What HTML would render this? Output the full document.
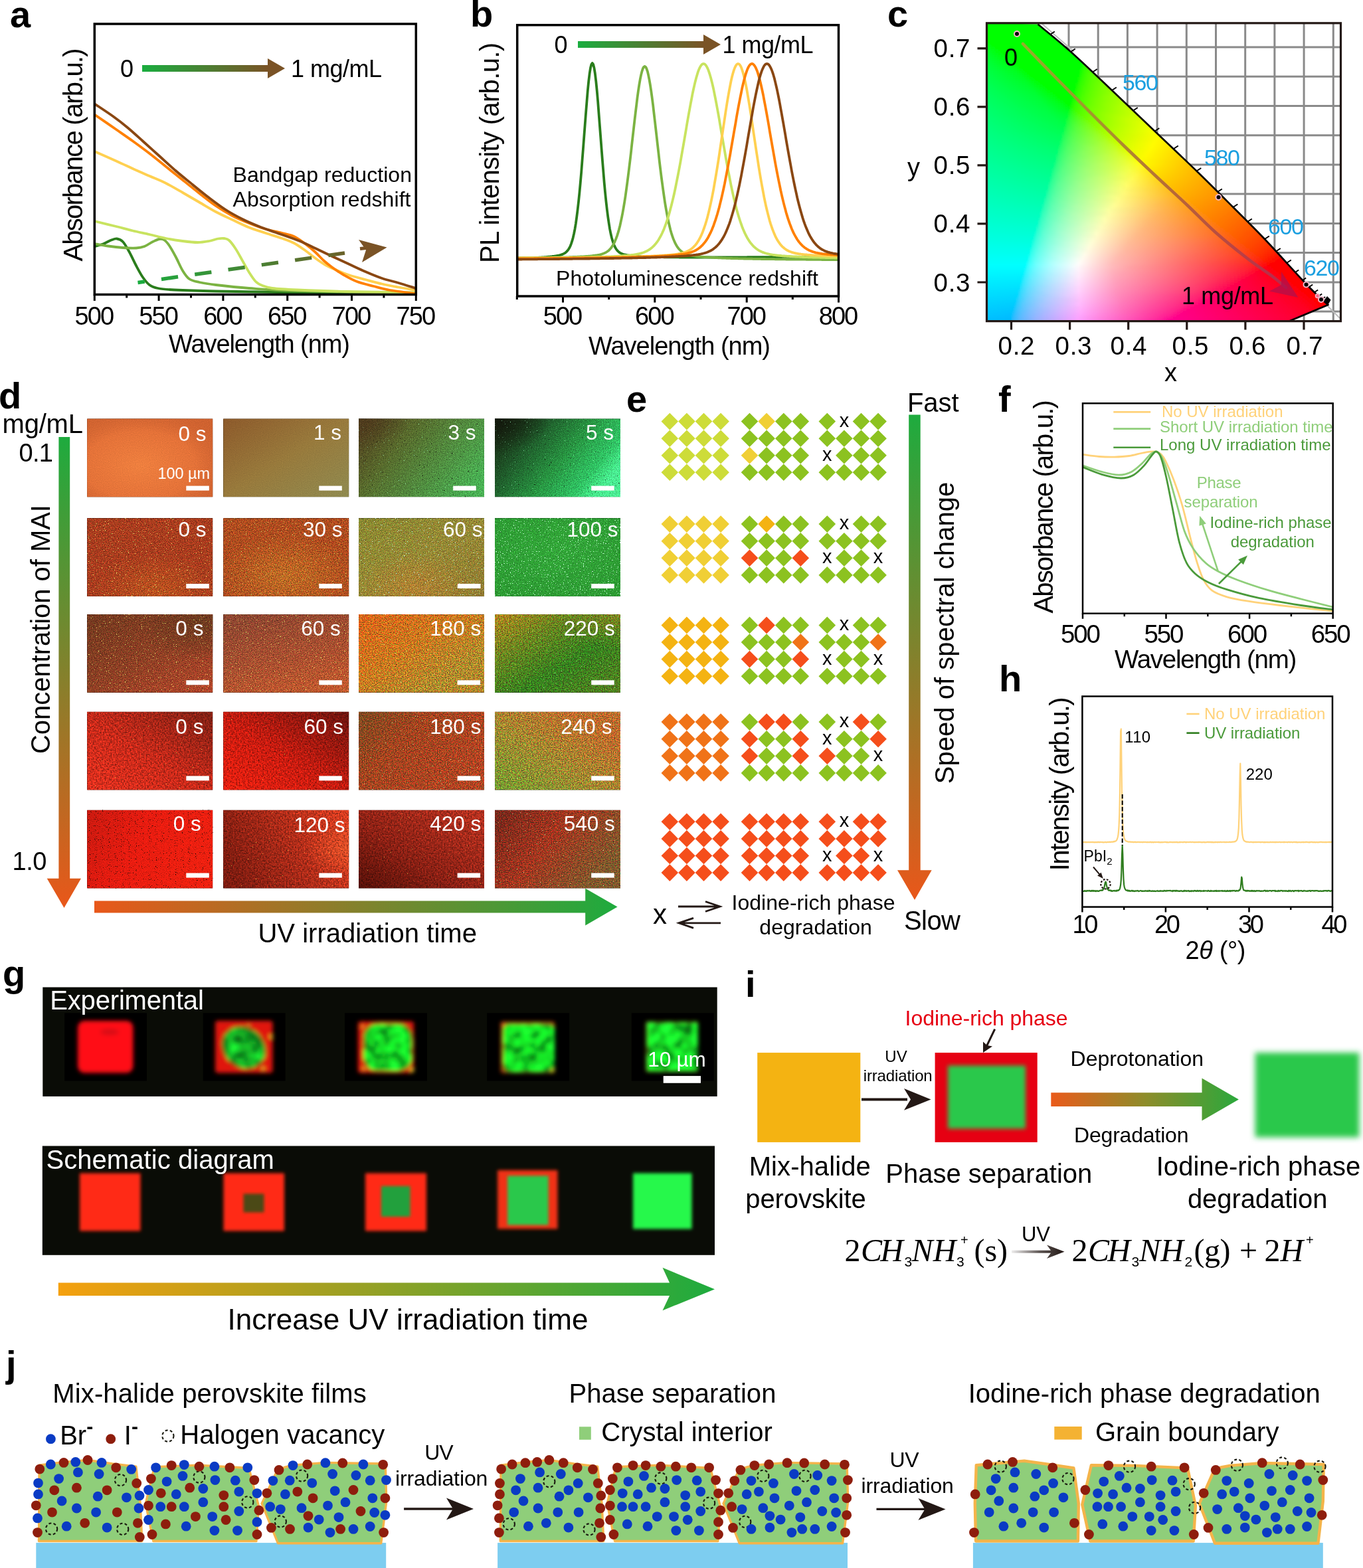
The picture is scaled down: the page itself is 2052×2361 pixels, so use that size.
<!DOCTYPE html>
<html lang="en"><head><meta charset="utf-8"><title>Figure</title>
<style>
html,body{margin:0;padding:0;background:#fff;}
body{width:2052px;height:2361px;overflow:hidden;font-family:"Liberation Sans",sans-serif;}
svg{display:block;position:absolute;left:0;top:0;}
</style></head><body>
<svg width="2052" height="2361" viewBox="0 0 2052 2361" font-family='"Liberation Sans", sans-serif' fill="#000">
<g>
<text x="15" y="40.5" font-size="56" font-weight="bold">a</text>
<path d="M142.3 371C144.4 370.4 150.8 369.1 155 367.5C159.2 365.9 164 362.8 167.5 361.5C171 360.2 173.1 359.1 176 359.5C178.9 359.9 181.8 360.6 185 364C188.2 367.4 191.7 374 195 380C198.3 386 201.7 393.8 205 400C208.3 406.2 211.7 412.7 215 417.5C218.3 422.3 221.2 426.2 225 429C228.8 431.8 231.2 432.8 237.5 434C243.8 435.2 247.9 435.8 262.5 436.5C277.1 437.2 294.1 437.8 325 438.5C355.9 439.2 397.8 439.9 448 440.5C498.2 441.1 596.3 441.8 626 442" fill="none" stroke="#2a7d1c" stroke-width="3.8" />
<path d="M142.3 367C145.7 367.6 155.4 369.5 162.5 370.5C169.6 371.5 177.9 372.5 185 373C192.1 373.5 199.6 373.8 205 373.5C210.4 373.2 213.3 372.6 217.5 371C221.7 369.4 226.2 365.8 230 364C233.8 362.2 237.1 360.4 240 360C242.9 359.6 245 359.8 247.5 361.5C250 363.2 252.1 365.7 255 370C257.9 374.3 261.7 381.2 265 387.5C268.3 393.8 271.7 402.1 275 407.5C278.3 412.9 280.8 417.1 285 420C289.2 422.9 293.3 423.5 300 425C306.7 426.5 312.5 427.5 325 429C337.5 430.5 354.5 432.5 375 434C395.5 435.5 406.2 436.8 448 438C489.8 439.2 596.3 440.9 626 441.5" fill="none" stroke="#7bb342" stroke-width="3.8" />
<path d="M142.3 333C147.8 334.3 165.4 338.6 175 341C184.6 343.4 191.7 345.5 200 347.5C208.3 349.5 216.7 351.1 225 353C233.3 354.9 241.7 357.3 250 359C258.3 360.7 267.1 362 275 363C282.9 364 290.8 365 297.5 365C304.2 365 309.9 363.9 315 363C320.1 362.1 324.2 360.2 328 359.5C331.8 358.8 334.7 358.6 337.5 359C340.3 359.4 342.1 359.3 345 362C347.9 364.7 351.7 369.9 355 375C358.3 380.1 361.7 386.7 365 392.5C368.3 398.3 371.7 404.8 375 410C378.3 415.2 381.7 420.7 385 424C388.3 427.3 390.8 428.3 395 430C399.2 431.7 401.2 432.9 410 434C418.8 435.1 429.7 435.7 448 436.5C466.3 437.3 490.3 438.3 520 439C549.7 439.7 608.3 440.2 626 440.5" fill="none" stroke="#c8e35f" stroke-width="3.8" />
<path d="M142.3 228C147.8 230.4 165.4 238.2 175 242.5C184.6 246.8 191.7 250.2 200 254C208.3 257.8 216.7 261.3 225 265C233.3 268.7 241.7 271.8 250 276C258.3 280.2 266.7 285.2 275 290C283.3 294.8 291.7 299.7 300 304.5C308.3 309.3 316.7 314.6 325 319C333.3 323.4 341.7 327.1 350 331C358.3 334.9 366.7 339.2 375 342.5C383.3 345.8 391.7 348.2 400 351C408.3 353.8 417.9 356.5 425 359C432.1 361.5 436.7 362.9 442.5 366C448.3 369.1 454.6 373.7 460 377.5C465.4 381.3 470 385.4 475 389C480 392.6 485 396.2 490 399C495 401.8 499.2 403.5 505 406C510.8 408.5 517.5 411.5 525 414C532.5 416.5 541.7 418.8 550 421C558.3 423.2 566.7 425.6 575 427.5C583.3 429.4 591.5 430.9 600 432.5C608.5 434.1 621.7 436.2 626 437" fill="none" stroke="#ffd050" stroke-width="3.8" />
<path d="M142.3 172.5C147.8 176.2 165.4 188.3 175 195C184.6 201.7 191.7 206.5 200 212.5C208.3 218.5 216.7 224.6 225 231C233.3 237.4 241.7 244.3 250 251C258.3 257.7 266.7 264.3 275 271C283.3 277.7 291.7 284.5 300 291C308.3 297.5 316.7 304.3 325 310C333.3 315.7 341.7 320.7 350 325C358.3 329.3 366.7 332.7 375 336C383.3 339.3 391.7 342.5 400 345C408.3 347.5 417.9 349.2 425 351C432.1 352.8 436.7 353.2 442.5 356C448.3 358.8 454.6 363.5 460 367.5C465.4 371.5 470.4 375.8 475 380C479.6 384.2 483.3 388.8 487.5 392.5C491.7 396.2 495 398.9 500 402.5C505 406.1 511.2 410.4 517.5 414C523.8 417.6 530 421.2 537.5 424C545 426.8 554.2 428.8 562.5 431C570.8 433.2 576.9 435.2 587.5 437C598.1 438.8 619.6 441.2 626 442" fill="none" stroke="#ff8000" stroke-width="3.8" />
<path d="M142.3 156.3C146.9 159.4 161.6 169 170 175C178.4 181 185 186.2 192.5 192.5C200 198.8 207.1 205.4 215 212.5C222.9 219.6 231.7 227.5 240 235C248.3 242.5 256.7 250.3 265 257.5C273.3 264.7 281.7 271.2 290 278C298.3 284.8 306.7 291.7 315 298C323.3 304.3 331.7 310.7 340 316C348.3 321.3 356.7 325.8 365 330C373.3 334.2 381.7 337.7 390 341C398.3 344.3 405 346.4 415 350C425 353.6 440 358.5 450 362.5C460 366.5 466.7 370.1 475 374C483.3 377.9 491.7 382.1 500 386C508.3 389.9 516.7 393.7 525 397.5C533.3 401.3 541.7 405.4 550 409C558.3 412.6 566.7 416.2 575 419C583.3 421.8 591.5 423.5 600 426C608.5 428.5 621.7 432.7 626 434" fill="none" stroke="#8a4712" stroke-width="3.8" />
<linearGradient id="ga2" gradientUnits="userSpaceOnUse" x1="207" y1="0" x2="580" y2="0"><stop offset="0" stop-color="#1aad3f"/><stop offset="1" stop-color="#7a5326"/></linearGradient>
<path d="M207.5 425.5L519 381" stroke="url(#ga2)" stroke-width="5.5" stroke-dasharray="25.4 25.4" stroke-dashoffset="15" fill="none"/>
<path d="M542 374.5L551 373.5" stroke="#7a5326" stroke-width="5" fill="none"/>
<path d="M582.5 372.5L540 361L551 376.5L545 395Z" fill="#7a5326"/>
<linearGradient id="ga1" gradientUnits="userSpaceOnUse" x1="214" y1="0" x2="403" y2="0"><stop offset="0" stop-color="#1aad3f"/><stop offset="1" stop-color="#7a5326"/></linearGradient><path d="M214 98L403 98L403 88L429 103L403 118L403 108L214 108Z" fill="url(#ga1)"/>
<text x="181" y="116" font-size="36">0</text>
<text x="438" y="116" font-size="36" textLength="137" lengthAdjust="spacing">1 mg/mL</text>
<text x="350.5" y="273.5" font-size="32" textLength="269.5" lengthAdjust="spacing">Bandgap reduction</text>
<text x="350.5" y="311" font-size="32" textLength="268" lengthAdjust="spacing">Absorption redshift</text>
<rect x="142.3" y="36" width="484" height="407.5" fill="none" stroke="#000" stroke-width="3.5"/>
<path d="M142.3 443.5v9.5M239.1 443.5v9.5M335.9 443.5v9.5M432.7 443.5v9.5M529.5 443.5v9.5M626.3 443.5v9.5" stroke="#000" stroke-width="3" fill="none"/>
<path d="M190.7 443.5v5M287.5 443.5v5M384.3 443.5v5M481.1 443.5v5M577.9 443.5v5" stroke="#000" stroke-width="3" fill="none"/>
<text x="142.3" y="489" font-size="38" text-anchor="middle" textLength="59.5" lengthAdjust="spacing">500</text>
<text x="239.1" y="489" font-size="38" text-anchor="middle" textLength="59.5" lengthAdjust="spacing">550</text>
<text x="335.9" y="489" font-size="38" text-anchor="middle" textLength="59.5" lengthAdjust="spacing">600</text>
<text x="432.7" y="489" font-size="38" text-anchor="middle" textLength="59.5" lengthAdjust="spacing">650</text>
<text x="529.5" y="489" font-size="38" text-anchor="middle" textLength="59.5" lengthAdjust="spacing">700</text>
<text x="626.3" y="489" font-size="38" text-anchor="middle" textLength="59.5" lengthAdjust="spacing">750</text>
<text x="390.5" y="531" font-size="38" text-anchor="middle" textLength="273" lengthAdjust="spacing">Wavelength (nm)</text>
<text font-size="40" text-anchor="middle" transform="translate(123.5 233) rotate(-90)" textLength="321" lengthAdjust="spacing">Absorbance (arb.u.)</text>
</g>
<g>
<text x="708" y="40" font-size="56" font-weight="bold">b</text>
<path d="M778.3 389L779.7 388.9L781.1 388.9L782.5 388.8L783.9 388.8L785.3 388.8L786.6 388.7L788 388.7L789.4 388.6L790.8 388.6L792.2 388.6L793.6 388.5L794.9 388.5L796.3 388.4L797.7 388.4L799.1 388.3L800.5 388.2L801.9 388.2L803.2 388.1L804.6 388.1L806 388L807.4 387.9L808.8 387.9L810.2 387.8L811.5 387.7L812.9 387.6L814.3 387.6L815.7 387.5L817.1 387.4L818.5 387.3L819.8 387.2L821.2 387.1L822.6 387L824 386.8L825.4 386.7L826.8 386.6L828.1 386.5L829.5 386.3L830.9 386.2L832.3 386L833.7 385.8L835.1 385.6L836.4 385.4L837.8 385.2L839.2 384.9L840.6 384.7L842 384.4L843.4 384L844.7 383.6L846.1 383.2L847.5 382.6L848.9 381.9L850.3 381.1L851.6 380.2L853 378.9L854.4 377.4L855.8 375.6L857.2 373.3L858.6 370.5L859.9 367.1L861.3 362.9L862.7 357.9L864.1 351.9L865.5 344.8L866.9 336.5L868.2 327L869.6 316.1L871 303.9L872.4 290.2L873.8 275.3L875.2 259.2L876.5 242.1L877.9 224.3L879.3 206L880.7 187.6L882.1 169.6L883.5 152.4L884.8 136.5L886.2 122.5L887.6 110.9L889 102.2L890.4 96.8L891.8 95L893.1 96.8L894.5 102.2L895.9 110.9L897.3 122.5L898.7 136.5L900.1 152.3L901.4 169.5L902.8 187.6L904.2 205.9L905.6 224.2L907 242L908.4 259.1L909.7 275.2L911.1 290.1L912.5 303.6L913.9 315.9L915.3 326.7L916.7 336.3L918 344.5L919.4 351.5L920.8 357.5L922.2 362.5L923.6 366.6L925 370.1L926.3 372.8L927.7 375.1L929.1 376.9L930.5 378.4L931.9 379.6L933.3 380.6L934.6 381.3L936 382L937.4 382.5L938.8 383L940.2 383.3L941.6 383.7L942.9 383.9L944.3 384.2L945.7 384.4L947.1 384.6L948.5 384.8L949.9 385L951.2 385.1L952.6 385.3L954 385.4L955.4 385.5L956.8 385.7L958.2 385.8L959.5 385.9L960.9 386L962.3 386.1L963.7 386.1L965.1 386.2L966.5 386.3L967.8 386.4L969.2 386.4L970.6 386.5L972 386.6L973.4 386.6L974.8 386.7L976.1 386.7L977.5 386.8L978.9 386.8L980.3 386.9L981.7 386.9L983.1 386.9L984.4 387L985.8 387L987.2 387L988.6 387.1L990 387.1L991.4 387.1L992.7 387.1L994.1 387.2L995.5 387.2L996.9 387.2L998.3 387.2L999.7 387.3L1001 387.3L1002.4 387.3L1003.8 387.3L1005.2 387.3L1006.6 387.3L1008 387.4L1009.3 387.4L1010.7 387.4L1012.1 387.4L1013.5 387.4L1014.9 387.4L1016.3 387.4L1017.6 387.4L1019 387.4L1020.4 387.4L1021.8 387.4L1023.2 387.5L1024.6 387.5L1025.9 387.5L1027.3 387.5L1028.7 387.5L1030.1 387.5L1031.5 387.5L1032.9 387.5L1034.2 387.5L1035.6 387.5L1037 387.5L1038.4 387.5L1039.8 387.5L1041.2 387.5L1042.5 387.5L1043.9 387.5L1045.3 387.5L1046.7 387.5L1048.1 387.5L1049.5 387.5L1050.8 387.5L1052.2 387.5L1053.6 387.5L1055 387.5L1056.4 387.5L1057.8 387.5L1059.1 387.5L1060.5 387.5L1061.9 387.5L1063.3 387.5L1064.7 387.5L1066.1 387.5L1067.4 387.5L1068.8 387.5L1070.2 387.5L1071.6 387.5L1073 387.5L1074.4 387.5L1075.7 387.5L1077.1 387.4L1078.5 387.4L1079.9 387.4L1081.3 387.4L1082.7 387.4L1084 387.4L1085.4 387.4L1086.8 387.4L1088.2 387.4L1089.6 387.4L1091 387.4L1092.3 387.4L1093.7 387.4L1095.1 387.4L1096.5 387.4L1097.9 387.4L1099.3 387.4L1100.6 387.4L1102 387.4L1103.4 387.3L1104.8 387.3L1106.2 387.3L1107.6 387.3L1108.9 387.3L1110.3 387.3L1111.7 387.3L1113.1 387.3L1114.5 387.3L1115.9 387.3L1117.2 387.3L1118.6 387.3L1120 387.3L1121.4 387.3L1122.8 387.3L1124.2 387.3L1125.5 387.2L1126.9 387.2L1128.3 387.2L1129.7 387.2L1131.1 387.2L1132.5 387.2L1133.8 387.2L1135.2 387.2L1136.6 387.2L1138 387.2L1139.4 387.2L1140.8 387.2L1142.1 387.2L1143.5 387.1L1144.9 387.1L1146.3 387.1L1147.7 387.1L1149.1 387.1L1150.4 387.1L1151.8 387.1L1153.2 387.1L1154.6 387.1L1156 387.1L1157.4 387.1L1158.7 387.1L1160.1 387.1L1161.5 387L1162.9 387L1164.3 387L1165.7 387L1167 387L1168.4 387L1169.8 387L1171.2 387L1172.6 387L1174 387L1175.3 387L1176.7 387L1178.1 386.9L1179.5 386.9L1180.9 386.9L1182.3 386.9L1183.6 386.9L1185 386.9L1186.4 386.9L1187.8 386.9L1189.2 386.9L1190.6 386.9L1191.9 386.9L1193.3 386.9L1194.7 386.8L1196.1 386.8L1197.5 386.8L1198.9 386.8L1200.2 386.8L1201.6 386.8L1203 386.8L1204.4 386.8L1205.8 386.8L1207.2 386.8L1208.5 386.8L1209.9 386.7L1211.3 386.7L1212.7 386.7L1214.1 386.7L1215.5 386.7L1216.8 386.7L1218.2 386.7L1219.6 386.7L1221 386.7L1222.4 386.7L1223.8 386.7L1225.1 386.6L1226.5 386.6L1227.9 386.6L1229.3 386.6L1230.7 386.6L1232.1 386.6L1233.4 386.6L1234.8 386.6L1236.2 386.6L1237.6 386.6L1239 386.6L1240.4 386.5L1241.7 386.5L1243.1 386.5L1244.5 386.5L1245.9 386.5L1247.3 386.5L1248.7 386.5L1250 386.5L1251.4 386.5L1252.8 386.5L1254.2 386.5L1255.6 386.4L1257 386.4L1258.3 386.4L1259.7 386.4L1261.1 386.4L1262.5 386.4" fill="none" stroke="#2a7d1c" stroke-width="3.8" stroke-linejoin="round"/>
<path d="M778.3 388.2L779.7 388.2L781.1 388.2L782.5 388.2L783.9 388.2L785.3 388.2L786.6 388.2L788 388.2L789.4 388.2L790.8 388.2L792.2 388.2L793.6 388.2L794.9 388.2L796.3 388.1L797.7 388.1L799.1 388.1L800.5 388.1L801.9 388.1L803.2 388.1L804.6 388.1L806 388.1L807.4 388.1L808.8 388.1L810.2 388.1L811.5 388L812.9 388L814.3 388L815.7 388L817.1 388L818.5 388L819.8 388L821.2 387.9L822.6 387.9L824 387.9L825.4 387.9L826.8 387.9L828.1 387.9L829.5 387.8L830.9 387.8L832.3 387.8L833.7 387.8L835.1 387.7L836.4 387.7L837.8 387.7L839.2 387.7L840.6 387.6L842 387.6L843.4 387.6L844.7 387.6L846.1 387.5L847.5 387.5L848.9 387.5L850.3 387.4L851.6 387.4L853 387.3L854.4 387.3L855.8 387.3L857.2 387.2L858.6 387.2L859.9 387.1L861.3 387.1L862.7 387L864.1 387L865.5 386.9L866.9 386.9L868.2 386.8L869.6 386.7L871 386.7L872.4 386.6L873.8 386.5L875.2 386.5L876.5 386.4L877.9 386.3L879.3 386.2L880.7 386.1L882.1 386L883.5 385.9L884.8 385.8L886.2 385.7L887.6 385.6L889 385.5L890.4 385.3L891.8 385.2L893.1 385L894.5 384.9L895.9 384.7L897.3 384.5L898.7 384.3L900.1 384L901.4 383.8L902.8 383.5L904.2 383.1L905.6 382.8L907 382.3L908.4 381.8L909.7 381.3L911.1 380.6L912.5 379.9L913.9 379L915.3 378L916.7 376.9L918 375.5L919.4 374L920.8 372.2L922.2 370.2L923.6 367.8L925 365.2L926.3 362.1L927.7 358.7L929.1 354.8L930.5 350.4L931.9 345.6L933.3 340.2L934.6 334.2L936 327.7L937.4 320.5L938.8 312.7L940.2 304.3L941.6 295.3L942.9 285.7L944.3 275.5L945.7 264.8L947.1 253.6L948.5 242L949.9 230.1L951.2 218L952.6 205.7L954 193.5L955.4 181.3L956.8 169.5L958.2 158L959.5 147.2L960.9 137.1L962.3 127.9L963.7 119.7L965.1 112.9L966.5 107.3L967.8 103.3L969.2 100.8L970.6 100L972 100.8L973.4 103.3L974.8 107.3L976.1 112.9L977.5 119.8L978.9 127.9L980.3 137.1L981.7 147.2L983.1 158.1L984.4 169.5L985.8 181.4L987.2 193.5L988.6 205.8L990 218.1L991.4 230.2L992.7 242.1L994.1 253.7L995.5 264.9L996.9 275.6L998.3 285.8L999.7 295.5L1001 304.5L1002.4 312.9L1003.8 320.7L1005.2 327.9L1006.6 334.5L1008 340.5L1009.3 345.9L1010.7 350.8L1012.1 355.2L1013.5 359.1L1014.9 362.5L1016.3 365.6L1017.6 368.3L1019 370.6L1020.4 372.7L1021.8 374.5L1023.2 376L1024.6 377.4L1025.9 378.6L1027.3 379.6L1028.7 380.5L1030.1 381.2L1031.5 381.9L1032.9 382.5L1034.2 383L1035.6 383.4L1037 383.8L1038.4 384.2L1039.8 384.5L1041.2 384.8L1042.5 385L1043.9 385.2L1045.3 385.4L1046.7 385.6L1048.1 385.8L1049.5 386L1050.8 386.1L1052.2 386.3L1053.6 386.4L1055 386.6L1056.4 386.7L1057.8 386.8L1059.1 386.9L1060.5 387L1061.9 387.1L1063.3 387.2L1064.7 387.3L1066.1 387.4L1067.4 387.5L1068.8 387.6L1070.2 387.7L1071.6 387.8L1073 387.8L1074.4 387.9L1075.7 388L1077.1 388.1L1078.5 388.1L1079.9 388.2L1081.3 388.3L1082.7 388.3L1084 388.4L1085.4 388.4L1086.8 388.5L1088.2 388.6L1089.6 388.6L1091 388.7L1092.3 388.7L1093.7 388.8L1095.1 388.8L1096.5 388.8L1097.9 388.9L1099.3 388.9L1100.6 389L1102 389L1103.4 389.1L1104.8 389.1L1106.2 389.1L1107.6 389.2L1108.9 389.2L1110.3 389.2L1111.7 389.3L1113.1 389.3L1114.5 389.3L1115.9 389.4L1117.2 389.4L1118.6 389.4L1120 389.5L1121.4 389.5L1122.8 389.5L1124.2 389.6L1125.5 389.6L1126.9 389.6L1128.3 389.6L1129.7 389.7L1131.1 389.7L1132.5 389.7L1133.8 389.8L1135.2 389.8L1136.6 389.8L1138 389.8L1139.4 389.9L1140.8 389.9L1142.1 389.9L1143.5 389.9L1144.9 389.9L1146.3 390L1147.7 390L1149.1 390L1150.4 390L1151.8 390L1153.2 390.1L1154.6 390.1L1156 390.1L1157.4 390.1L1158.7 390.1L1160.1 390.2L1161.5 390.2L1162.9 390.2L1164.3 390.2L1165.7 390.2L1167 390.3L1168.4 390.3L1169.8 390.3L1171.2 390.3L1172.6 390.3L1174 390.3L1175.3 390.4L1176.7 390.4L1178.1 390.4L1179.5 390.4L1180.9 390.4L1182.3 390.4L1183.6 390.5L1185 390.5L1186.4 390.5L1187.8 390.5L1189.2 390.5L1190.6 390.5L1191.9 390.5L1193.3 390.6L1194.7 390.6L1196.1 390.6L1197.5 390.6L1198.9 390.6L1200.2 390.6L1201.6 390.6L1203 390.7L1204.4 390.7L1205.8 390.7L1207.2 390.7L1208.5 390.7L1209.9 390.7L1211.3 390.7L1212.7 390.7L1214.1 390.8L1215.5 390.8L1216.8 390.8L1218.2 390.8L1219.6 390.8L1221 390.8L1222.4 390.8L1223.8 390.8L1225.1 390.9L1226.5 390.9L1227.9 390.9L1229.3 390.9L1230.7 390.9L1232.1 390.9L1233.4 390.9L1234.8 390.9L1236.2 390.9L1237.6 391L1239 391L1240.4 391L1241.7 391L1243.1 391L1244.5 391L1245.9 391L1247.3 391L1248.7 391.1L1250 391.1L1251.4 391.1L1252.8 391.1L1254.2 391.1L1255.6 391.1L1257 391.1L1258.3 391.1L1259.7 391.1L1261.1 391.1L1262.5 391.2" fill="none" stroke="#7bb342" stroke-width="3.8" stroke-linejoin="round"/>
<path d="M778.3 388.6L779.7 388.6L781.1 388.6L782.5 388.6L783.9 388.6L785.3 388.6L786.6 388.6L788 388.6L789.4 388.6L790.8 388.6L792.2 388.5L793.6 388.5L794.9 388.5L796.3 388.5L797.7 388.5L799.1 388.5L800.5 388.5L801.9 388.5L803.2 388.5L804.6 388.5L806 388.5L807.4 388.4L808.8 388.4L810.2 388.4L811.5 388.4L812.9 388.4L814.3 388.4L815.7 388.4L817.1 388.4L818.5 388.4L819.8 388.3L821.2 388.3L822.6 388.3L824 388.3L825.4 388.3L826.8 388.3L828.1 388.3L829.5 388.3L830.9 388.2L832.3 388.2L833.7 388.2L835.1 388.2L836.4 388.2L837.8 388.2L839.2 388.1L840.6 388.1L842 388.1L843.4 388.1L844.7 388.1L846.1 388.1L847.5 388L848.9 388L850.3 388L851.6 388L853 388L854.4 387.9L855.8 387.9L857.2 387.9L858.6 387.9L859.9 387.9L861.3 387.8L862.7 387.8L864.1 387.8L865.5 387.8L866.9 387.8L868.2 387.7L869.6 387.7L871 387.7L872.4 387.7L873.8 387.6L875.2 387.6L876.5 387.6L877.9 387.5L879.3 387.5L880.7 387.5L882.1 387.4L883.5 387.4L884.8 387.4L886.2 387.4L887.6 387.3L889 387.3L890.4 387.2L891.8 387.2L893.1 387.2L894.5 387.1L895.9 387.1L897.3 387.1L898.7 387L900.1 387L901.4 386.9L902.8 386.9L904.2 386.8L905.6 386.8L907 386.7L908.4 386.7L909.7 386.6L911.1 386.6L912.5 386.5L913.9 386.5L915.3 386.4L916.7 386.4L918 386.3L919.4 386.3L920.8 386.2L922.2 386.1L923.6 386.1L925 386L926.3 385.9L927.7 385.8L929.1 385.8L930.5 385.7L931.9 385.6L933.3 385.5L934.6 385.4L936 385.3L937.4 385.2L938.8 385.1L940.2 385L941.6 384.9L942.9 384.8L944.3 384.7L945.7 384.5L947.1 384.4L948.5 384.3L949.9 384.1L951.2 383.9L952.6 383.8L954 383.6L955.4 383.4L956.8 383.1L958.2 382.9L959.5 382.6L960.9 382.3L962.3 382L963.7 381.7L965.1 381.3L966.5 380.9L967.8 380.5L969.2 380L970.6 379.4L972 378.8L973.4 378.2L974.8 377.5L976.1 376.7L977.5 375.8L978.9 374.9L980.3 373.8L981.7 372.7L983.1 371.4L984.4 370.1L985.8 368.6L987.2 367L988.6 365.2L990 363.3L991.4 361.2L992.7 358.9L994.1 356.5L995.5 353.8L996.9 351L998.3 347.9L999.7 344.7L1001 341.1L1002.4 337.4L1003.8 333.4L1005.2 329.1L1006.6 324.6L1008 319.8L1009.3 314.8L1010.7 309.5L1012.1 303.9L1013.5 298.1L1014.9 292L1016.3 285.6L1017.6 279.1L1019 272.2L1020.4 265.2L1021.8 257.9L1023.2 250.5L1024.6 242.9L1025.9 235.1L1027.3 227.2L1028.7 219.3L1030.1 211.2L1031.5 203.1L1032.9 195L1034.2 187L1035.6 179L1037 171.2L1038.4 163.5L1039.8 155.9L1041.2 148.7L1042.5 141.7L1043.9 135L1045.3 128.8L1046.7 122.9L1048.1 117.6L1049.5 112.7L1050.8 108.4L1052.2 104.7L1053.6 101.6L1055 99.2L1056.4 97.4L1057.8 96.4L1059.1 96L1060.5 96.4L1061.9 97.4L1063.3 99.2L1064.7 101.6L1066.1 104.7L1067.4 108.4L1068.8 112.7L1070.2 117.6L1071.6 122.9L1073 128.8L1074.4 135L1075.7 141.7L1077.1 148.7L1078.5 155.9L1079.9 163.5L1081.3 171.2L1082.7 179L1084 187L1085.4 195.1L1086.8 203.1L1088.2 211.2L1089.6 219.3L1091 227.3L1092.3 235.1L1093.7 242.9L1095.1 250.5L1096.5 258L1097.9 265.2L1099.3 272.3L1100.6 279.1L1102 285.7L1103.4 292.1L1104.8 298.2L1106.2 304L1107.6 309.6L1108.9 314.9L1110.3 319.9L1111.7 324.7L1113.1 329.2L1114.5 333.5L1115.9 337.5L1117.2 341.2L1118.6 344.8L1120 348L1121.4 351.1L1122.8 354L1124.2 356.6L1125.5 359.1L1126.9 361.3L1128.3 363.4L1129.7 365.3L1131.1 367.1L1132.5 368.7L1133.8 370.2L1135.2 371.6L1136.6 372.8L1138 374L1139.4 375L1140.8 376L1142.1 376.8L1143.5 377.6L1144.9 378.3L1146.3 379L1147.7 379.6L1149.1 380.1L1150.4 380.6L1151.8 381.1L1153.2 381.5L1154.6 381.9L1156 382.2L1157.4 382.5L1158.7 382.8L1160.1 383.1L1161.5 383.3L1162.9 383.6L1164.3 383.8L1165.7 384L1167 384.1L1168.4 384.3L1169.8 384.5L1171.2 384.6L1172.6 384.8L1174 384.9L1175.3 385L1176.7 385.2L1178.1 385.3L1179.5 385.4L1180.9 385.5L1182.3 385.6L1183.6 385.7L1185 385.8L1186.4 385.9L1187.8 385.9L1189.2 386L1190.6 386.1L1191.9 386.2L1193.3 386.3L1194.7 386.3L1196.1 386.4L1197.5 386.5L1198.9 386.5L1200.2 386.6L1201.6 386.7L1203 386.7L1204.4 386.8L1205.8 386.8L1207.2 386.9L1208.5 387L1209.9 387L1211.3 387.1L1212.7 387.1L1214.1 387.2L1215.5 387.2L1216.8 387.3L1218.2 387.3L1219.6 387.3L1221 387.4L1222.4 387.4L1223.8 387.5L1225.1 387.5L1226.5 387.6L1227.9 387.6L1229.3 387.6L1230.7 387.7L1232.1 387.7L1233.4 387.7L1234.8 387.8L1236.2 387.8L1237.6 387.8L1239 387.9L1240.4 387.9L1241.7 387.9L1243.1 388L1244.5 388L1245.9 388L1247.3 388.1L1248.7 388.1L1250 388.1L1251.4 388.1L1252.8 388.2L1254.2 388.2L1255.6 388.2L1257 388.3L1258.3 388.3L1259.7 388.3L1261.1 388.3L1262.5 388.3" fill="none" stroke="#c8e35f" stroke-width="3.8" stroke-linejoin="round"/>
<path d="M778.3 388.5L779.7 388.5L781.1 388.5L782.5 388.5L783.9 388.5L785.3 388.5L786.6 388.5L788 388.5L789.4 388.5L790.8 388.5L792.2 388.5L793.6 388.5L794.9 388.5L796.3 388.4L797.7 388.4L799.1 388.4L800.5 388.4L801.9 388.4L803.2 388.4L804.6 388.4L806 388.4L807.4 388.4L808.8 388.4L810.2 388.4L811.5 388.4L812.9 388.4L814.3 388.3L815.7 388.3L817.1 388.3L818.5 388.3L819.8 388.3L821.2 388.3L822.6 388.3L824 388.3L825.4 388.3L826.8 388.3L828.1 388.3L829.5 388.2L830.9 388.2L832.3 388.2L833.7 388.2L835.1 388.2L836.4 388.2L837.8 388.2L839.2 388.2L840.6 388.2L842 388.2L843.4 388.2L844.7 388.1L846.1 388.1L847.5 388.1L848.9 388.1L850.3 388.1L851.6 388.1L853 388.1L854.4 388.1L855.8 388.1L857.2 388L858.6 388L859.9 388L861.3 388L862.7 388L864.1 388L865.5 388L866.9 388L868.2 387.9L869.6 387.9L871 387.9L872.4 387.9L873.8 387.9L875.2 387.9L876.5 387.9L877.9 387.9L879.3 387.8L880.7 387.8L882.1 387.8L883.5 387.8L884.8 387.8L886.2 387.8L887.6 387.8L889 387.7L890.4 387.7L891.8 387.7L893.1 387.7L894.5 387.7L895.9 387.7L897.3 387.6L898.7 387.6L900.1 387.6L901.4 387.6L902.8 387.6L904.2 387.6L905.6 387.5L907 387.5L908.4 387.5L909.7 387.5L911.1 387.5L912.5 387.4L913.9 387.4L915.3 387.4L916.7 387.4L918 387.4L919.4 387.3L920.8 387.3L922.2 387.3L923.6 387.3L925 387.2L926.3 387.2L927.7 387.2L929.1 387.2L930.5 387.1L931.9 387.1L933.3 387.1L934.6 387.1L936 387L937.4 387L938.8 387L940.2 386.9L941.6 386.9L942.9 386.9L944.3 386.9L945.7 386.8L947.1 386.8L948.5 386.8L949.9 386.7L951.2 386.7L952.6 386.7L954 386.6L955.4 386.6L956.8 386.5L958.2 386.5L959.5 386.5L960.9 386.4L962.3 386.4L963.7 386.3L965.1 386.3L966.5 386.2L967.8 386.2L969.2 386.1L970.6 386.1L972 386L973.4 386L974.8 385.9L976.1 385.9L977.5 385.8L978.9 385.8L980.3 385.7L981.7 385.6L983.1 385.6L984.4 385.5L985.8 385.5L987.2 385.4L988.6 385.3L990 385.2L991.4 385.2L992.7 385.1L994.1 385L995.5 384.9L996.9 384.8L998.3 384.7L999.7 384.6L1001 384.5L1002.4 384.4L1003.8 384.3L1005.2 384.2L1006.6 384.1L1008 384L1009.3 383.9L1010.7 383.7L1012.1 383.6L1013.5 383.4L1014.9 383.3L1016.3 383.1L1017.6 382.9L1019 382.7L1020.4 382.5L1021.8 382.2L1023.2 382L1024.6 381.7L1025.9 381.3L1027.3 381L1028.7 380.6L1030.1 380.2L1031.5 379.7L1032.9 379.2L1034.2 378.6L1035.6 377.9L1037 377.2L1038.4 376.4L1039.8 375.5L1041.2 374.5L1042.5 373.4L1043.9 372.1L1045.3 370.7L1046.7 369.2L1048.1 367.5L1049.5 365.6L1050.8 363.5L1052.2 361.2L1053.6 358.6L1055 355.9L1056.4 352.8L1057.8 349.5L1059.1 345.9L1060.5 342L1061.9 337.8L1063.3 333.3L1064.7 328.4L1066.1 323.1L1067.4 317.6L1068.8 311.6L1070.2 305.3L1071.6 298.7L1073 291.7L1074.4 284.3L1075.7 276.6L1077.1 268.7L1078.5 260.4L1079.9 251.9L1081.3 243.1L1082.7 234.1L1084 225L1085.4 215.7L1086.8 206.4L1088.2 197L1089.6 187.7L1091 178.4L1092.3 169.4L1093.7 160.5L1095.1 151.9L1096.5 143.7L1097.9 135.9L1099.3 128.6L1100.6 121.9L1102 115.8L1103.4 110.5L1104.8 105.9L1106.2 102.1L1107.6 99.2L1108.9 97.2L1110.3 96.2L1111.7 96.1L1113.1 96.9L1114.5 98.7L1115.9 101.4L1117.2 105L1118.6 109.5L1120 114.7L1121.4 120.6L1122.8 127.2L1124.2 134.4L1125.5 142.1L1126.9 150.2L1128.3 158.7L1129.7 167.5L1131.1 176.6L1132.5 185.8L1133.8 195.1L1135.2 204.5L1136.6 213.8L1138 223.1L1139.4 232.2L1140.8 241.2L1142.1 250L1143.5 258.6L1144.9 267L1146.3 275L1147.7 282.7L1149.1 290.1L1150.4 297.2L1151.8 303.9L1153.2 310.3L1154.6 316.3L1156 321.9L1157.4 327.2L1158.7 332.2L1160.1 336.8L1161.5 341L1162.9 345L1164.3 348.6L1165.7 352L1167 355.1L1168.4 357.9L1169.8 360.5L1171.2 362.8L1172.6 364.9L1174 366.8L1175.3 368.6L1176.7 370.2L1178.1 371.6L1179.5 372.8L1180.9 374L1182.3 375L1183.6 375.9L1185 376.8L1186.4 377.5L1187.8 378.2L1189.2 378.8L1190.6 379.3L1191.9 379.8L1193.3 380.2L1194.7 380.6L1196.1 380.9L1197.5 381.3L1198.9 381.5L1200.2 381.8L1201.6 382L1203 382.3L1204.4 382.5L1205.8 382.7L1207.2 382.8L1208.5 383L1209.9 383.1L1211.3 383.3L1212.7 383.4L1214.1 383.5L1215.5 383.7L1216.8 383.8L1218.2 383.9L1219.6 384L1221 384.1L1222.4 384.2L1223.8 384.3L1225.1 384.3L1226.5 384.4L1227.9 384.5L1229.3 384.6L1230.7 384.7L1232.1 384.7L1233.4 384.8L1234.8 384.9L1236.2 384.9L1237.6 385L1239 385L1240.4 385.1L1241.7 385.2L1243.1 385.2L1244.5 385.3L1245.9 385.3L1247.3 385.4L1248.7 385.4L1250 385.5L1251.4 385.5L1252.8 385.6L1254.2 385.6L1255.6 385.6L1257 385.7L1258.3 385.7L1259.7 385.8L1261.1 385.8L1262.5 385.8" fill="none" stroke="#ffd050" stroke-width="3.8" stroke-linejoin="round"/>
<path d="M778.3 389.4L779.7 389.4L781.1 389.4L782.5 389.4L783.9 389.4L785.3 389.4L786.6 389.4L788 389.4L789.4 389.4L790.8 389.4L792.2 389.3L793.6 389.3L794.9 389.3L796.3 389.3L797.7 389.3L799.1 389.3L800.5 389.3L801.9 389.3L803.2 389.3L804.6 389.2L806 389.2L807.4 389.2L808.8 389.2L810.2 389.2L811.5 389.2L812.9 389.2L814.3 389.2L815.7 389.2L817.1 389.1L818.5 389.1L819.8 389.1L821.2 389.1L822.6 389.1L824 389.1L825.4 389.1L826.8 389.1L828.1 389L829.5 389L830.9 389L832.3 389L833.7 389L835.1 389L836.4 389L837.8 389L839.2 388.9L840.6 388.9L842 388.9L843.4 388.9L844.7 388.9L846.1 388.9L847.5 388.9L848.9 388.8L850.3 388.8L851.6 388.8L853 388.8L854.4 388.8L855.8 388.8L857.2 388.8L858.6 388.7L859.9 388.7L861.3 388.7L862.7 388.7L864.1 388.7L865.5 388.7L866.9 388.7L868.2 388.6L869.6 388.6L871 388.6L872.4 388.6L873.8 388.6L875.2 388.6L876.5 388.5L877.9 388.5L879.3 388.5L880.7 388.5L882.1 388.5L883.5 388.5L884.8 388.4L886.2 388.4L887.6 388.4L889 388.4L890.4 388.4L891.8 388.3L893.1 388.3L894.5 388.3L895.9 388.3L897.3 388.3L898.7 388.2L900.1 388.2L901.4 388.2L902.8 388.2L904.2 388.2L905.6 388.1L907 388.1L908.4 388.1L909.7 388.1L911.1 388L912.5 388L913.9 388L915.3 388L916.7 388L918 387.9L919.4 387.9L920.8 387.9L922.2 387.9L923.6 387.8L925 387.8L926.3 387.8L927.7 387.7L929.1 387.7L930.5 387.7L931.9 387.7L933.3 387.6L934.6 387.6L936 387.6L937.4 387.5L938.8 387.5L940.2 387.5L941.6 387.5L942.9 387.4L944.3 387.4L945.7 387.4L947.1 387.3L948.5 387.3L949.9 387.3L951.2 387.2L952.6 387.2L954 387.1L955.4 387.1L956.8 387.1L958.2 387L959.5 387L960.9 386.9L962.3 386.9L963.7 386.9L965.1 386.8L966.5 386.8L967.8 386.7L969.2 386.7L970.6 386.6L972 386.6L973.4 386.5L974.8 386.5L976.1 386.4L977.5 386.4L978.9 386.3L980.3 386.3L981.7 386.2L983.1 386.2L984.4 386.1L985.8 386L987.2 386L988.6 385.9L990 385.8L991.4 385.8L992.7 385.7L994.1 385.6L995.5 385.6L996.9 385.5L998.3 385.4L999.7 385.3L1001 385.2L1002.4 385.2L1003.8 385.1L1005.2 385L1006.6 384.9L1008 384.8L1009.3 384.7L1010.7 384.6L1012.1 384.5L1013.5 384.4L1014.9 384.2L1016.3 384.1L1017.6 384L1019 383.8L1020.4 383.7L1021.8 383.5L1023.2 383.4L1024.6 383.2L1025.9 383L1027.3 382.8L1028.7 382.6L1030.1 382.3L1031.5 382.1L1032.9 381.8L1034.2 381.5L1035.6 381.2L1037 380.8L1038.4 380.4L1039.8 380L1041.2 379.6L1042.5 379L1043.9 378.5L1045.3 377.9L1046.7 377.2L1048.1 376.5L1049.5 375.6L1050.8 374.8L1052.2 373.8L1053.6 372.7L1055 371.5L1056.4 370.2L1057.8 368.8L1059.1 367.3L1060.5 365.6L1061.9 363.8L1063.3 361.9L1064.7 359.7L1066.1 357.4L1067.4 354.9L1068.8 352.2L1070.2 349.3L1071.6 346.2L1073 342.8L1074.4 339.2L1075.7 335.4L1077.1 331.4L1078.5 327L1079.9 322.5L1081.3 317.6L1082.7 312.5L1084 307.1L1085.4 301.5L1086.8 295.6L1088.2 289.4L1089.6 283L1091 276.4L1092.3 269.5L1093.7 262.4L1095.1 255.1L1096.5 247.7L1097.9 240L1099.3 232.3L1100.6 224.4L1102 216.4L1103.4 208.4L1104.8 200.3L1106.2 192.3L1107.6 184.3L1108.9 176.3L1110.3 168.5L1111.7 160.9L1113.1 153.5L1114.5 146.3L1115.9 139.5L1117.2 133L1118.6 126.9L1120 121.2L1121.4 116L1122.8 111.3L1124.2 107.2L1125.5 103.7L1126.9 100.8L1128.3 98.6L1129.7 97L1131.1 96.2L1132.5 96L1133.8 96.6L1135.2 97.9L1136.6 99.8L1138 102.4L1139.4 105.7L1140.8 109.6L1142.1 114L1143.5 119L1144.9 124.5L1146.3 130.5L1147.7 136.8L1149.1 143.5L1150.4 150.6L1151.8 157.9L1153.2 165.4L1154.6 173.2L1156 181L1157.4 189L1158.7 197L1160.1 205.1L1161.5 213.1L1162.9 221.1L1164.3 229L1165.7 236.8L1167 244.5L1168.4 252L1169.8 259.4L1171.2 266.5L1172.6 273.5L1174 280.2L1175.3 286.7L1176.7 292.9L1178.1 298.9L1179.5 304.6L1180.9 310.1L1182.3 315.3L1183.6 320.2L1185 324.9L1186.4 329.3L1187.8 333.5L1189.2 337.4L1190.6 341L1191.9 344.4L1193.3 347.6L1194.7 350.6L1196.1 353.4L1197.5 355.9L1198.9 358.3L1200.2 360.5L1201.6 362.5L1203 364.4L1204.4 366.1L1205.8 367.7L1207.2 369.1L1208.5 370.4L1209.9 371.6L1211.3 372.7L1212.7 373.7L1214.1 374.6L1215.5 375.5L1216.8 376.2L1218.2 376.9L1219.6 377.5L1221 378.1L1222.4 378.6L1223.8 379.1L1225.1 379.5L1226.5 379.9L1227.9 380.3L1229.3 380.6L1230.7 380.9L1232.1 381.2L1233.4 381.4L1234.8 381.7L1236.2 381.9L1237.6 382.1L1239 382.3L1240.4 382.4L1241.7 382.6L1243.1 382.7L1244.5 382.9L1245.9 383L1247.3 383.1L1248.7 383.2L1250 383.4L1251.4 383.5L1252.8 383.6L1254.2 383.7L1255.6 383.8L1257 383.8L1258.3 383.9L1259.7 384L1261.1 384.1L1262.5 384.2" fill="none" stroke="#ff8000" stroke-width="3.8" stroke-linejoin="round"/>
<path d="M778.3 390.5L779.7 390.5L781.1 390.5L782.5 390.5L783.9 390.5L785.3 390.5L786.6 390.4L788 390.4L789.4 390.4L790.8 390.4L792.2 390.4L793.6 390.4L794.9 390.4L796.3 390.4L797.7 390.4L799.1 390.3L800.5 390.3L801.9 390.3L803.2 390.3L804.6 390.3L806 390.3L807.4 390.3L808.8 390.3L810.2 390.2L811.5 390.2L812.9 390.2L814.3 390.2L815.7 390.2L817.1 390.2L818.5 390.2L819.8 390.2L821.2 390.2L822.6 390.1L824 390.1L825.4 390.1L826.8 390.1L828.1 390.1L829.5 390.1L830.9 390.1L832.3 390.1L833.7 390L835.1 390L836.4 390L837.8 390L839.2 390L840.6 390L842 390L843.4 389.9L844.7 389.9L846.1 389.9L847.5 389.9L848.9 389.9L850.3 389.9L851.6 389.9L853 389.8L854.4 389.8L855.8 389.8L857.2 389.8L858.6 389.8L859.9 389.8L861.3 389.8L862.7 389.7L864.1 389.7L865.5 389.7L866.9 389.7L868.2 389.7L869.6 389.7L871 389.7L872.4 389.6L873.8 389.6L875.2 389.6L876.5 389.6L877.9 389.6L879.3 389.6L880.7 389.5L882.1 389.5L883.5 389.5L884.8 389.5L886.2 389.5L887.6 389.5L889 389.4L890.4 389.4L891.8 389.4L893.1 389.4L894.5 389.4L895.9 389.4L897.3 389.3L898.7 389.3L900.1 389.3L901.4 389.3L902.8 389.3L904.2 389.2L905.6 389.2L907 389.2L908.4 389.2L909.7 389.2L911.1 389.2L912.5 389.1L913.9 389.1L915.3 389.1L916.7 389.1L918 389L919.4 389L920.8 389L922.2 389L923.6 389L925 388.9L926.3 388.9L927.7 388.9L929.1 388.9L930.5 388.8L931.9 388.8L933.3 388.8L934.6 388.8L936 388.7L937.4 388.7L938.8 388.7L940.2 388.7L941.6 388.6L942.9 388.6L944.3 388.6L945.7 388.6L947.1 388.5L948.5 388.5L949.9 388.5L951.2 388.5L952.6 388.4L954 388.4L955.4 388.4L956.8 388.3L958.2 388.3L959.5 388.3L960.9 388.2L962.3 388.2L963.7 388.2L965.1 388.1L966.5 388.1L967.8 388.1L969.2 388L970.6 388L972 388L973.4 387.9L974.8 387.9L976.1 387.9L977.5 387.8L978.9 387.8L980.3 387.7L981.7 387.7L983.1 387.6L984.4 387.6L985.8 387.6L987.2 387.5L988.6 387.5L990 387.4L991.4 387.4L992.7 387.3L994.1 387.3L995.5 387.2L996.9 387.2L998.3 387.1L999.7 387.1L1001 387L1002.4 387L1003.8 386.9L1005.2 386.8L1006.6 386.8L1008 386.7L1009.3 386.7L1010.7 386.6L1012.1 386.5L1013.5 386.5L1014.9 386.4L1016.3 386.3L1017.6 386.2L1019 386.2L1020.4 386.1L1021.8 386L1023.2 385.9L1024.6 385.8L1025.9 385.7L1027.3 385.7L1028.7 385.6L1030.1 385.5L1031.5 385.4L1032.9 385.3L1034.2 385.1L1035.6 385L1037 384.9L1038.4 384.8L1039.8 384.7L1041.2 384.5L1042.5 384.4L1043.9 384.2L1045.3 384L1046.7 383.9L1048.1 383.7L1049.5 383.5L1050.8 383.3L1052.2 383L1053.6 382.8L1055 382.5L1056.4 382.2L1057.8 381.9L1059.1 381.5L1060.5 381.2L1061.9 380.7L1063.3 380.3L1064.7 379.8L1066.1 379.2L1067.4 378.6L1068.8 378L1070.2 377.3L1071.6 376.5L1073 375.6L1074.4 374.6L1075.7 373.6L1077.1 372.5L1078.5 371.2L1079.9 369.8L1081.3 368.3L1082.7 366.7L1084 364.9L1085.4 363L1086.8 360.9L1088.2 358.6L1089.6 356.2L1091 353.5L1092.3 350.7L1093.7 347.6L1095.1 344.3L1096.5 340.8L1097.9 337.1L1099.3 333.1L1100.6 328.8L1102 324.3L1103.4 319.5L1104.8 314.5L1106.2 309.2L1107.6 303.6L1108.9 297.8L1110.3 291.7L1111.7 285.3L1113.1 278.8L1114.5 271.9L1115.9 264.9L1117.2 257.7L1118.6 250.2L1120 242.6L1121.4 234.9L1122.8 227L1124.2 219L1125.5 211L1126.9 202.9L1128.3 194.9L1129.7 186.8L1131.1 178.9L1132.5 171L1133.8 163.3L1135.2 155.8L1136.6 148.6L1138 141.6L1139.4 135L1140.8 128.7L1142.1 122.9L1143.5 117.5L1144.9 112.7L1146.3 108.4L1147.7 104.7L1149.1 101.6L1150.4 99.2L1151.8 97.4L1153.2 96.4L1154.6 96L1156 96.4L1157.4 97.4L1158.7 99.2L1160.1 101.6L1161.5 104.7L1162.9 108.4L1164.3 112.7L1165.7 117.5L1167 122.9L1168.4 128.7L1169.8 134.9L1171.2 141.6L1172.6 148.5L1174 155.8L1175.3 163.3L1176.7 170.9L1178.1 178.8L1179.5 186.7L1180.9 194.8L1182.3 202.8L1183.6 210.9L1185 218.9L1186.4 226.8L1187.8 234.7L1189.2 242.4L1190.6 250L1191.9 257.4L1193.3 264.7L1194.7 271.7L1196.1 278.5L1197.5 285.1L1198.9 291.4L1200.2 297.5L1201.6 303.3L1203 308.8L1204.4 314.1L1205.8 319.1L1207.2 323.9L1208.5 328.4L1209.9 332.6L1211.3 336.6L1212.7 340.3L1214.1 343.8L1215.5 347.1L1216.8 350.1L1218.2 353L1219.6 355.6L1221 358L1222.4 360.3L1223.8 362.4L1225.1 364.3L1226.5 366L1227.9 367.6L1229.3 369.1L1230.7 370.5L1232.1 371.7L1233.4 372.8L1234.8 373.9L1236.2 374.8L1237.6 375.7L1239 376.4L1240.4 377.1L1241.7 377.8L1243.1 378.4L1244.5 378.9L1245.9 379.4L1247.3 379.8L1248.7 380.2L1250 380.6L1251.4 380.9L1252.8 381.2L1254.2 381.5L1255.6 381.8L1257 382L1258.3 382.2L1259.7 382.4L1261.1 382.6L1262.5 382.8" fill="none" stroke="#8a4712" stroke-width="3.8" stroke-linejoin="round"/>
<linearGradient id="gb1" gradientUnits="userSpaceOnUse" x1="870" y1="0" x2="1059" y2="0"><stop offset="0" stop-color="#1aad3f"/><stop offset="1" stop-color="#7a5326"/></linearGradient><path d="M870 62L1059 62L1059 52L1085 67L1059 82L1059 72L870 72Z" fill="url(#gb1)"/>
<text x="834.5" y="80" font-size="36">0</text>
<text x="1087.5" y="80" font-size="36" textLength="137" lengthAdjust="spacing">1 mg/mL</text>
<text x="837" y="429.5" font-size="32" textLength="395" lengthAdjust="spacing">Photoluminescence redshift</text>
<rect x="778.7" y="37.7" width="483.8" height="408.3" fill="none" stroke="#000" stroke-width="3.5"/>
<path d="M847.5 446v9.5M985.8 446v9.5M1124.2 446v9.5M1262.5 446v9.5" stroke="#000" stroke-width="3" fill="none"/>
<path d="M778.3 446v5M916.7 446v5M1055 446v5M1193.3 446v5" stroke="#000" stroke-width="3" fill="none"/>
<text x="847.5" y="489" font-size="38" text-anchor="middle" textLength="59.5" lengthAdjust="spacing">500</text>
<text x="985.8" y="489" font-size="38" text-anchor="middle" textLength="59.5" lengthAdjust="spacing">600</text>
<text x="1124.2" y="489" font-size="38" text-anchor="middle" textLength="59.5" lengthAdjust="spacing">700</text>
<text x="1262.5" y="489" font-size="38" text-anchor="middle" textLength="59.5" lengthAdjust="spacing">800</text>
<text x="1023" y="534" font-size="38" text-anchor="middle" textLength="274" lengthAdjust="spacing">Wavelength (nm)</text>
<text font-size="40" text-anchor="middle" transform="translate(751 230) rotate(-90)" textLength="332" lengthAdjust="spacing">PL intensity (arb.u.)</text>
</g>
<g>
<text x="1336" y="40" font-size="56" font-weight="bold">c</text>
<path d="M1609 34.8V483.5M1653.2 34.8V483.5M1697.4 34.8V483.5M1742.1 34.8V483.5M1786.3 34.8V483.5M1830.5 34.8V483.5M1874.7 34.8V483.5M1918.9 34.8V483.5M1963.1 34.8V483.5M2007.3 34.8V483.5M1560 70.9H2018.5M1560 115.2H2018.5M1560 159.4H2018.5M1560 203.7H2018.5M1560 247.9H2018.5M1560 292.1H2018.5M1560 336.4H2018.5M1560 380.6H2018.5M1560 424.9H2018.5M1560 469.1H2018.5" stroke="#8a8a8a" stroke-width="3" fill="none"/>
<path d="M1569 36L1617 78M1999 461L2017 479" stroke="#bdbdbd" stroke-width="2" fill="none"/>
<defs><clipPath id="cclip"><path d="M1486 35L1562.5 36.5C1570.6 43.2 1592.4 60.4 1611 77C1629.6 93.6 1652.8 115.9 1674 136C1695.2 156.1 1717.2 177.2 1738.5 197.5C1759.8 217.8 1781.8 238.4 1801.5 257.5C1821.2 276.6 1839.4 294.9 1856.5 312C1873.6 329.1 1886.1 341.2 1904 360C1921.9 378.8 1950.5 410.7 1964 425C1977.5 439.3 1979.1 440.3 1985 446C1990.9 451.7 1997.1 456.8 1999.5 459L1941 483.5L1486 483.5Z"/></clipPath><filter id="cblur" x="0" y="0" width="1" height="1"><feGaussianBlur stdDeviation="0 2.5"/></filter><linearGradient id="c0" gradientUnits="userSpaceOnUse" x1="1486" y1="0" x2="2004" y2="0"><stop offset="0.000" stop-color="#00ff00"/><stop offset="0.307" stop-color="#00ff00"/><stop offset="0.313" stop-color="#1aff00"/><stop offset="0.336" stop-color="#45ff00"/><stop offset="0.405" stop-color="#80ff00"/><stop offset="0.591" stop-color="#daff00"/><stop offset="0.701" stop-color="#fffa00"/><stop offset="0.956" stop-color="#ffb700"/><stop offset="0.996" stop-color="#ffaf00"/></linearGradient><linearGradient id="c1" gradientUnits="userSpaceOnUse" x1="1486" y1="0" x2="2004" y2="0"><stop offset="0.000" stop-color="#00ff00"/><stop offset="0.307" stop-color="#00ff00"/><stop offset="0.313" stop-color="#1aff00"/><stop offset="0.336" stop-color="#45ff00"/><stop offset="0.405" stop-color="#80ff00"/><stop offset="0.591" stop-color="#daff00"/><stop offset="0.701" stop-color="#fffa00"/><stop offset="0.956" stop-color="#ffb700"/><stop offset="0.996" stop-color="#ffaf00"/></linearGradient><linearGradient id="c2" gradientUnits="userSpaceOnUse" x1="1486" y1="0" x2="2004" y2="0"><stop offset="0.000" stop-color="#00ff00"/><stop offset="0.307" stop-color="#00ff00"/><stop offset="0.313" stop-color="#1aff00"/><stop offset="0.336" stop-color="#45ff00"/><stop offset="0.405" stop-color="#80ff00"/><stop offset="0.591" stop-color="#daff00"/><stop offset="0.701" stop-color="#fffa00"/><stop offset="0.956" stop-color="#ffb700"/><stop offset="0.996" stop-color="#ffaf00"/></linearGradient><linearGradient id="c3" gradientUnits="userSpaceOnUse" x1="1486" y1="0" x2="2004" y2="0"><stop offset="0.000" stop-color="#00ff00"/><stop offset="0.307" stop-color="#00ff00"/><stop offset="0.313" stop-color="#1bff00"/><stop offset="0.336" stop-color="#45ff00"/><stop offset="0.405" stop-color="#80ff00"/><stop offset="0.591" stop-color="#daff00"/><stop offset="0.701" stop-color="#fffa00"/><stop offset="0.956" stop-color="#ffb700"/><stop offset="0.996" stop-color="#ffaf00"/></linearGradient><linearGradient id="c4" gradientUnits="userSpaceOnUse" x1="1486" y1="0" x2="2004" y2="0"><stop offset="0.000" stop-color="#00ff00"/><stop offset="0.301" stop-color="#00ff00"/><stop offset="0.307" stop-color="#08ff00"/><stop offset="0.313" stop-color="#20ff00"/><stop offset="0.336" stop-color="#48ff00"/><stop offset="0.411" stop-color="#85ff00"/><stop offset="0.608" stop-color="#e2ff00"/><stop offset="0.695" stop-color="#fffb00"/><stop offset="0.944" stop-color="#ffb800"/><stop offset="0.996" stop-color="#ffae00"/></linearGradient><linearGradient id="c5" gradientUnits="userSpaceOnUse" x1="1486" y1="0" x2="2004" y2="0"><stop offset="0.000" stop-color="#00ff00"/><stop offset="0.301" stop-color="#00ff00"/><stop offset="0.319" stop-color="#31ff00"/><stop offset="0.359" stop-color="#61ff00"/><stop offset="0.475" stop-color="#a9ff00"/><stop offset="0.689" stop-color="#fffb00"/><stop offset="0.938" stop-color="#ffb800"/><stop offset="0.996" stop-color="#ffad00"/></linearGradient><linearGradient id="c6" gradientUnits="userSpaceOnUse" x1="1486" y1="0" x2="2004" y2="0"><stop offset="0.000" stop-color="#00ff00"/><stop offset="0.301" stop-color="#00ff00"/><stop offset="0.313" stop-color="#28ff00"/><stop offset="0.347" stop-color="#58ff00"/><stop offset="0.446" stop-color="#9bff00"/><stop offset="0.678" stop-color="#fffe00"/><stop offset="0.915" stop-color="#ffbc00"/><stop offset="0.996" stop-color="#ffac00"/></linearGradient><linearGradient id="c7" gradientUnits="userSpaceOnUse" x1="1486" y1="0" x2="2004" y2="0"><stop offset="0.000" stop-color="#00ff00"/><stop offset="0.301" stop-color="#02ff00"/><stop offset="0.307" stop-color="#1eff00"/><stop offset="0.330" stop-color="#47ff00"/><stop offset="0.400" stop-color="#82ff00"/><stop offset="0.585" stop-color="#dcff00"/><stop offset="0.683" stop-color="#fffb00"/><stop offset="0.932" stop-color="#ffb800"/><stop offset="0.996" stop-color="#ffab00"/></linearGradient><linearGradient id="c8" gradientUnits="userSpaceOnUse" x1="1486" y1="0" x2="2004" y2="0"><stop offset="0.000" stop-color="#00ff00"/><stop offset="0.295" stop-color="#00ff00"/><stop offset="0.313" stop-color="#2fff00"/><stop offset="0.353" stop-color="#61ff00"/><stop offset="0.463" stop-color="#a7ff00"/><stop offset="0.678" stop-color="#fffc00"/><stop offset="0.921" stop-color="#ffb900"/><stop offset="0.996" stop-color="#ffaa00"/></linearGradient><linearGradient id="c9" gradientUnits="userSpaceOnUse" x1="1486" y1="0" x2="2004" y2="0"><stop offset="0.000" stop-color="#00ff00"/><stop offset="0.295" stop-color="#00ff00"/><stop offset="0.313" stop-color="#32ff00"/><stop offset="0.359" stop-color="#67ff00"/><stop offset="0.481" stop-color="#b1ff00"/><stop offset="0.672" stop-color="#fffd00"/><stop offset="0.915" stop-color="#ffb900"/><stop offset="0.996" stop-color="#ffa900"/></linearGradient><linearGradient id="c10" gradientUnits="userSpaceOnUse" x1="1486" y1="0" x2="2004" y2="0"><stop offset="0.000" stop-color="#00ff00"/><stop offset="0.295" stop-color="#00ff00"/><stop offset="0.301" stop-color="#1bff00"/><stop offset="0.324" stop-color="#46ff00"/><stop offset="0.394" stop-color="#82ff00"/><stop offset="0.573" stop-color="#dbff00"/><stop offset="0.672" stop-color="#fffb00"/><stop offset="0.915" stop-color="#ffb800"/><stop offset="0.996" stop-color="#ffa800"/></linearGradient><linearGradient id="c11" gradientUnits="userSpaceOnUse" x1="1486" y1="0" x2="2004" y2="0"><stop offset="0.000" stop-color="#00ff00"/><stop offset="0.290" stop-color="#00ff00"/><stop offset="0.295" stop-color="#06ff00"/><stop offset="0.301" stop-color="#20ff00"/><stop offset="0.324" stop-color="#48ff00"/><stop offset="0.394" stop-color="#83ff00"/><stop offset="0.579" stop-color="#dfff00"/><stop offset="0.672" stop-color="#fffa00"/><stop offset="0.915" stop-color="#ffb700"/><stop offset="0.996" stop-color="#ffa700"/></linearGradient><linearGradient id="c12" gradientUnits="userSpaceOnUse" x1="1486" y1="0" x2="2004" y2="0"><stop offset="0.000" stop-color="#00ff05"/><stop offset="0.093" stop-color="#00ff00"/><stop offset="0.290" stop-color="#00ff00"/><stop offset="0.307" stop-color="#31ff00"/><stop offset="0.347" stop-color="#62ff00"/><stop offset="0.458" stop-color="#a9ff00"/><stop offset="0.660" stop-color="#fffd00"/><stop offset="0.898" stop-color="#ffba00"/><stop offset="0.996" stop-color="#ffa600"/></linearGradient><linearGradient id="c13" gradientUnits="userSpaceOnUse" x1="1486" y1="0" x2="2004" y2="0"><stop offset="0.000" stop-color="#00ff10"/><stop offset="0.012" stop-color="#00ff00"/><stop offset="0.290" stop-color="#00ff00"/><stop offset="0.301" stop-color="#29ff00"/><stop offset="0.336" stop-color="#59ff00"/><stop offset="0.434" stop-color="#9eff00"/><stop offset="0.654" stop-color="#fffe00"/><stop offset="0.886" stop-color="#ffbb00"/><stop offset="0.996" stop-color="#ffa600"/></linearGradient><linearGradient id="c14" gradientUnits="userSpaceOnUse" x1="1486" y1="0" x2="2004" y2="0"><stop offset="0.000" stop-color="#00ff18"/><stop offset="0.017" stop-color="#00ff01"/><stop offset="0.290" stop-color="#00ff00"/><stop offset="0.295" stop-color="#1dff00"/><stop offset="0.319" stop-color="#48ff00"/><stop offset="0.388" stop-color="#84ff00"/><stop offset="0.573" stop-color="#e1ff00"/><stop offset="0.660" stop-color="#fffa00"/><stop offset="0.898" stop-color="#ffb800"/><stop offset="0.996" stop-color="#ffa500"/></linearGradient><linearGradient id="c15" gradientUnits="userSpaceOnUse" x1="1486" y1="0" x2="2004" y2="0"><stop offset="0.000" stop-color="#00ff1e"/><stop offset="0.029" stop-color="#00ff00"/><stop offset="0.284" stop-color="#00ff00"/><stop offset="0.301" stop-color="#30ff00"/><stop offset="0.342" stop-color="#62ff00"/><stop offset="0.452" stop-color="#aaff00"/><stop offset="0.654" stop-color="#fffb00"/><stop offset="0.892" stop-color="#ffb800"/><stop offset="0.996" stop-color="#ffa400"/></linearGradient><linearGradient id="c16" gradientUnits="userSpaceOnUse" x1="1486" y1="0" x2="2004" y2="0"><stop offset="0.000" stop-color="#00ff23"/><stop offset="0.041" stop-color="#00ff00"/><stop offset="0.284" stop-color="#00ff00"/><stop offset="0.301" stop-color="#33ff00"/><stop offset="0.342" stop-color="#64ff00"/><stop offset="0.458" stop-color="#aeff00"/><stop offset="0.649" stop-color="#fffc00"/><stop offset="0.880" stop-color="#ffb900"/><stop offset="0.996" stop-color="#ffa300"/></linearGradient><linearGradient id="c17" gradientUnits="userSpaceOnUse" x1="1486" y1="0" x2="2004" y2="0"><stop offset="0.000" stop-color="#00ff27"/><stop offset="0.046" stop-color="#00ff00"/><stop offset="0.284" stop-color="#00ff00"/><stop offset="0.290" stop-color="#1aff00"/><stop offset="0.307" stop-color="#3fff00"/><stop offset="0.365" stop-color="#78ff00"/><stop offset="0.515" stop-color="#cbff00"/><stop offset="0.649" stop-color="#fffb00"/><stop offset="0.886" stop-color="#ffb700"/><stop offset="0.996" stop-color="#ffa200"/></linearGradient><linearGradient id="c18" gradientUnits="userSpaceOnUse" x1="1486" y1="0" x2="2004" y2="0"><stop offset="0.000" stop-color="#00ff2b"/><stop offset="0.041" stop-color="#00ff0b"/><stop offset="0.052" stop-color="#00ff00"/><stop offset="0.284" stop-color="#04ff00"/><stop offset="0.290" stop-color="#20ff00"/><stop offset="0.313" stop-color="#49ff00"/><stop offset="0.382" stop-color="#86ff00"/><stop offset="0.568" stop-color="#e3ff00"/><stop offset="0.649" stop-color="#fff900"/><stop offset="0.886" stop-color="#ffb600"/><stop offset="0.996" stop-color="#ffa100"/></linearGradient><linearGradient id="c19" gradientUnits="userSpaceOnUse" x1="1486" y1="0" x2="2004" y2="0"><stop offset="0.000" stop-color="#00ff2f"/><stop offset="0.046" stop-color="#00ff0e"/><stop offset="0.058" stop-color="#00ff00"/><stop offset="0.278" stop-color="#00ff00"/><stop offset="0.295" stop-color="#32ff00"/><stop offset="0.336" stop-color="#64ff00"/><stop offset="0.446" stop-color="#acff00"/><stop offset="0.637" stop-color="#fffc00"/><stop offset="0.863" stop-color="#ffba00"/><stop offset="0.996" stop-color="#ffa000"/></linearGradient><linearGradient id="c20" gradientUnits="userSpaceOnUse" x1="1486" y1="0" x2="2004" y2="0"><stop offset="0.000" stop-color="#00ff32"/><stop offset="0.052" stop-color="#00ff10"/><stop offset="0.064" stop-color="#00ff00"/><stop offset="0.278" stop-color="#00ff00"/><stop offset="0.290" stop-color="#29ff00"/><stop offset="0.319" stop-color="#54ff00"/><stop offset="0.405" stop-color="#97ff00"/><stop offset="0.625" stop-color="#feff00"/><stop offset="0.857" stop-color="#ffba00"/><stop offset="0.996" stop-color="#ff9f00"/></linearGradient><linearGradient id="c21" gradientUnits="userSpaceOnUse" x1="1486" y1="0" x2="2004" y2="0"><stop offset="0.000" stop-color="#00ff35"/><stop offset="0.058" stop-color="#00ff12"/><stop offset="0.069" stop-color="#00ff00"/><stop offset="0.278" stop-color="#00ff00"/><stop offset="0.284" stop-color="#1dff00"/><stop offset="0.307" stop-color="#49ff00"/><stop offset="0.376" stop-color="#86ff00"/><stop offset="0.556" stop-color="#e2ff00"/><stop offset="0.637" stop-color="#fff900"/><stop offset="0.869" stop-color="#ffb700"/><stop offset="0.996" stop-color="#ff9e00"/></linearGradient><linearGradient id="c22" gradientUnits="userSpaceOnUse" x1="1486" y1="0" x2="2004" y2="0"><stop offset="0.000" stop-color="#00ff38"/><stop offset="0.064" stop-color="#00ff14"/><stop offset="0.081" stop-color="#00ff00"/><stop offset="0.272" stop-color="#00ff00"/><stop offset="0.278" stop-color="#09ff00"/><stop offset="0.284" stop-color="#22ff00"/><stop offset="0.307" stop-color="#4bff00"/><stop offset="0.376" stop-color="#87ff00"/><stop offset="0.562" stop-color="#e6ff00"/><stop offset="0.631" stop-color="#fffa00"/><stop offset="0.863" stop-color="#ffb700"/><stop offset="0.996" stop-color="#ff9d00"/></linearGradient><linearGradient id="c23" gradientUnits="userSpaceOnUse" x1="1486" y1="0" x2="2004" y2="0"><stop offset="0.000" stop-color="#00ff3b"/><stop offset="0.069" stop-color="#00ff15"/><stop offset="0.087" stop-color="#00ff00"/><stop offset="0.272" stop-color="#00ff00"/><stop offset="0.290" stop-color="#33ff00"/><stop offset="0.330" stop-color="#65ff00"/><stop offset="0.440" stop-color="#aeff00"/><stop offset="0.625" stop-color="#fffb00"/><stop offset="0.851" stop-color="#ffb800"/><stop offset="0.996" stop-color="#ff9c00"/></linearGradient><linearGradient id="c24" gradientUnits="userSpaceOnUse" x1="1486" y1="0" x2="2004" y2="0"><stop offset="0.000" stop-color="#00ff3e"/><stop offset="0.069" stop-color="#00ff1c"/><stop offset="0.093" stop-color="#00ff00"/><stop offset="0.272" stop-color="#00ff00"/><stop offset="0.284" stop-color="#2bff00"/><stop offset="0.319" stop-color="#5cff00"/><stop offset="0.411" stop-color="#a0ff00"/><stop offset="0.614" stop-color="#ffff00"/><stop offset="0.834" stop-color="#ffbb00"/><stop offset="0.996" stop-color="#ff9b00"/></linearGradient><linearGradient id="c25" gradientUnits="userSpaceOnUse" x1="1486" y1="0" x2="2004" y2="0"><stop offset="0.000" stop-color="#00ff41"/><stop offset="0.075" stop-color="#00ff1e"/><stop offset="0.098" stop-color="#00ff00"/><stop offset="0.272" stop-color="#02ff00"/><stop offset="0.278" stop-color="#20ff00"/><stop offset="0.301" stop-color="#4bff00"/><stop offset="0.371" stop-color="#88ff00"/><stop offset="0.550" stop-color="#e5ff00"/><stop offset="0.620" stop-color="#fffb00"/><stop offset="0.846" stop-color="#ffb800"/><stop offset="0.996" stop-color="#ff9a00"/></linearGradient><linearGradient id="c26" gradientUnits="userSpaceOnUse" x1="1486" y1="0" x2="2004" y2="0"><stop offset="0.000" stop-color="#00ff43"/><stop offset="0.081" stop-color="#00ff1f"/><stop offset="0.110" stop-color="#00ff00"/><stop offset="0.266" stop-color="#00ff00"/><stop offset="0.284" stop-color="#32ff00"/><stop offset="0.324" stop-color="#65ff00"/><stop offset="0.434" stop-color="#afff00"/><stop offset="0.614" stop-color="#fffc00"/><stop offset="0.834" stop-color="#ffb900"/><stop offset="0.996" stop-color="#ff9900"/></linearGradient><linearGradient id="c27" gradientUnits="userSpaceOnUse" x1="1486" y1="0" x2="2004" y2="0"><stop offset="0.000" stop-color="#00ff46"/><stop offset="0.087" stop-color="#00ff20"/><stop offset="0.116" stop-color="#00ff00"/><stop offset="0.266" stop-color="#00ff00"/><stop offset="0.278" stop-color="#29ff00"/><stop offset="0.307" stop-color="#56ff00"/><stop offset="0.394" stop-color="#99ff00"/><stop offset="0.602" stop-color="#ffff00"/><stop offset="0.817" stop-color="#ffbc00"/><stop offset="0.996" stop-color="#ff9800"/></linearGradient><linearGradient id="c28" gradientUnits="userSpaceOnUse" x1="1486" y1="0" x2="2004" y2="0"><stop offset="0.000" stop-color="#00ff48"/><stop offset="0.093" stop-color="#00ff22"/><stop offset="0.122" stop-color="#00ff00"/><stop offset="0.266" stop-color="#00ff00"/><stop offset="0.272" stop-color="#1dff00"/><stop offset="0.290" stop-color="#42ff00"/><stop offset="0.347" stop-color="#7cff00"/><stop offset="0.498" stop-color="#d2ff00"/><stop offset="0.608" stop-color="#fffb00"/><stop offset="0.828" stop-color="#ffb800"/><stop offset="0.996" stop-color="#ff9700"/></linearGradient><linearGradient id="c29" gradientUnits="userSpaceOnUse" x1="1486" y1="0" x2="2004" y2="0"><stop offset="0.000" stop-color="#00ff4b"/><stop offset="0.098" stop-color="#00ff23"/><stop offset="0.122" stop-color="#00ff0b"/><stop offset="0.127" stop-color="#00ff00"/><stop offset="0.261" stop-color="#00ff00"/><stop offset="0.266" stop-color="#07ff00"/><stop offset="0.272" stop-color="#22ff00"/><stop offset="0.295" stop-color="#4cff00"/><stop offset="0.365" stop-color="#8aff00"/><stop offset="0.550" stop-color="#ebff00"/><stop offset="0.608" stop-color="#fffa00"/><stop offset="0.828" stop-color="#ffb700"/><stop offset="0.996" stop-color="#ff9600"/></linearGradient><linearGradient id="c30" gradientUnits="userSpaceOnUse" x1="1486" y1="0" x2="2004" y2="0"><stop offset="0.000" stop-color="#00ff4d"/><stop offset="0.104" stop-color="#00ff24"/><stop offset="0.139" stop-color="#00ff00"/><stop offset="0.261" stop-color="#00ff00"/><stop offset="0.278" stop-color="#34ff00"/><stop offset="0.319" stop-color="#67ff00"/><stop offset="0.429" stop-color="#b2ff00"/><stop offset="0.602" stop-color="#fffb00"/><stop offset="0.822" stop-color="#ffb700"/><stop offset="0.996" stop-color="#ff9500"/></linearGradient><linearGradient id="c31" gradientUnits="userSpaceOnUse" x1="1486" y1="0" x2="2004" y2="0"><stop offset="0.000" stop-color="#00ff4f"/><stop offset="0.110" stop-color="#00ff25"/><stop offset="0.145" stop-color="#00ff00"/><stop offset="0.261" stop-color="#00ff00"/><stop offset="0.272" stop-color="#2bff00"/><stop offset="0.301" stop-color="#57ff00"/><stop offset="0.388" stop-color="#9cff00"/><stop offset="0.591" stop-color="#fffe00"/><stop offset="0.799" stop-color="#ffbc00"/><stop offset="0.996" stop-color="#ff9400"/></linearGradient><linearGradient id="c32" gradientUnits="userSpaceOnUse" x1="1486" y1="0" x2="2004" y2="0"><stop offset="0.000" stop-color="#00ff51"/><stop offset="0.116" stop-color="#00ff27"/><stop offset="0.145" stop-color="#00ff09"/><stop offset="0.156" stop-color="#00ff00"/><stop offset="0.261" stop-color="#00ff00"/><stop offset="0.266" stop-color="#1fff00"/><stop offset="0.290" stop-color="#4cff00"/><stop offset="0.359" stop-color="#8aff00"/><stop offset="0.539" stop-color="#eaff00"/><stop offset="0.597" stop-color="#fffa00"/><stop offset="0.811" stop-color="#ffb800"/><stop offset="0.996" stop-color="#ff9200"/></linearGradient><linearGradient id="c33" gradientUnits="userSpaceOnUse" x1="1486" y1="0" x2="2004" y2="0"><stop offset="0.000" stop-color="#00ff53"/><stop offset="0.116" stop-color="#00ff2b"/><stop offset="0.162" stop-color="#00ff00"/><stop offset="0.255" stop-color="#00ff00"/><stop offset="0.272" stop-color="#32ff00"/><stop offset="0.313" stop-color="#67ff00"/><stop offset="0.423" stop-color="#b3ff00"/><stop offset="0.591" stop-color="#fffb00"/><stop offset="0.805" stop-color="#ffb800"/><stop offset="0.996" stop-color="#ff9100"/></linearGradient><linearGradient id="c34" gradientUnits="userSpaceOnUse" x1="1486" y1="0" x2="2004" y2="0"><stop offset="0.000" stop-color="#00ff56"/><stop offset="0.122" stop-color="#00ff2c"/><stop offset="0.156" stop-color="#00ff0f"/><stop offset="0.168" stop-color="#00ff00"/><stop offset="0.255" stop-color="#00ff00"/><stop offset="0.266" stop-color="#29ff00"/><stop offset="0.295" stop-color="#57ff00"/><stop offset="0.376" stop-color="#99ff00"/><stop offset="0.579" stop-color="#fffe00"/><stop offset="0.782" stop-color="#ffbc00"/><stop offset="0.996" stop-color="#ff9000"/></linearGradient><linearGradient id="c35" gradientUnits="userSpaceOnUse" x1="1486" y1="0" x2="2004" y2="0"><stop offset="0.000" stop-color="#00ff58"/><stop offset="0.127" stop-color="#00ff2d"/><stop offset="0.162" stop-color="#00ff11"/><stop offset="0.174" stop-color="#00ff00"/><stop offset="0.255" stop-color="#00ff00"/><stop offset="0.261" stop-color="#1cff00"/><stop offset="0.278" stop-color="#43ff00"/><stop offset="0.336" stop-color="#7eff00"/><stop offset="0.486" stop-color="#d6ff00"/><stop offset="0.585" stop-color="#fffa00"/><stop offset="0.799" stop-color="#ffb700"/><stop offset="0.996" stop-color="#ff8f00"/></linearGradient><linearGradient id="c36" gradientUnits="userSpaceOnUse" x1="1486" y1="0" x2="2004" y2="0"><stop offset="0.000" stop-color="#00ff5a"/><stop offset="0.133" stop-color="#00ff2f"/><stop offset="0.168" stop-color="#00ff13"/><stop offset="0.180" stop-color="#00ff00"/><stop offset="0.255" stop-color="#05ff00"/><stop offset="0.261" stop-color="#22ff00"/><stop offset="0.284" stop-color="#4dff00"/><stop offset="0.353" stop-color="#8cff00"/><stop offset="0.533" stop-color="#eeff00"/><stop offset="0.585" stop-color="#fff900"/><stop offset="0.799" stop-color="#ffb600"/><stop offset="0.996" stop-color="#ff8e00"/></linearGradient><linearGradient id="c37" gradientUnits="userSpaceOnUse" x1="1486" y1="0" x2="2004" y2="0"><stop offset="0.000" stop-color="#00ff5c"/><stop offset="0.139" stop-color="#00ff30"/><stop offset="0.180" stop-color="#00ff0d"/><stop offset="0.185" stop-color="#00ff01"/><stop offset="0.249" stop-color="#00ff00"/><stop offset="0.266" stop-color="#34ff00"/><stop offset="0.307" stop-color="#69ff00"/><stop offset="0.417" stop-color="#b5ff00"/><stop offset="0.573" stop-color="#fffc00"/><stop offset="0.782" stop-color="#ffb900"/><stop offset="0.996" stop-color="#ff8d00"/></linearGradient><linearGradient id="c38" gradientUnits="userSpaceOnUse" x1="1486" y1="0" x2="2004" y2="0"><stop offset="0.000" stop-color="#00ff5e"/><stop offset="0.139" stop-color="#00ff34"/><stop offset="0.185" stop-color="#00ff10"/><stop offset="0.197" stop-color="#00ff00"/><stop offset="0.249" stop-color="#00ff00"/><stop offset="0.261" stop-color="#2bff00"/><stop offset="0.290" stop-color="#59ff00"/><stop offset="0.371" stop-color="#9bff00"/><stop offset="0.562" stop-color="#feff00"/><stop offset="0.770" stop-color="#ffbb00"/><stop offset="0.996" stop-color="#ff8c00"/></linearGradient><linearGradient id="c39" gradientUnits="userSpaceOnUse" x1="1486" y1="0" x2="2004" y2="0"><stop offset="0.000" stop-color="#00ff60"/><stop offset="0.145" stop-color="#00ff35"/><stop offset="0.191" stop-color="#00ff12"/><stop offset="0.203" stop-color="#00ff00"/><stop offset="0.249" stop-color="#00ff00"/><stop offset="0.255" stop-color="#1fff00"/><stop offset="0.278" stop-color="#4dff00"/><stop offset="0.342" stop-color="#89ff00"/><stop offset="0.510" stop-color="#e7ff00"/><stop offset="0.573" stop-color="#fff900"/><stop offset="0.782" stop-color="#ffb700"/><stop offset="0.996" stop-color="#ff8b00"/></linearGradient><linearGradient id="c40" gradientUnits="userSpaceOnUse" x1="1486" y1="0" x2="2004" y2="0"><stop offset="0.000" stop-color="#00ff62"/><stop offset="0.151" stop-color="#00ff36"/><stop offset="0.197" stop-color="#00ff14"/><stop offset="0.208" stop-color="#00ff00"/><stop offset="0.243" stop-color="#00ff00"/><stop offset="0.249" stop-color="#0aff00"/><stop offset="0.255" stop-color="#24ff00"/><stop offset="0.278" stop-color="#4fff00"/><stop offset="0.347" stop-color="#8fff00"/><stop offset="0.533" stop-color="#f4ff00"/><stop offset="0.573" stop-color="#fff800"/><stop offset="0.782" stop-color="#ffb500"/><stop offset="0.996" stop-color="#ff8a00"/></linearGradient><linearGradient id="c41" gradientUnits="userSpaceOnUse" x1="1486" y1="0" x2="2004" y2="0"><stop offset="0.000" stop-color="#00ff64"/><stop offset="0.156" stop-color="#00ff37"/><stop offset="0.203" stop-color="#00ff16"/><stop offset="0.214" stop-color="#00ff02"/><stop offset="0.243" stop-color="#00ff00"/><stop offset="0.261" stop-color="#36ff00"/><stop offset="0.301" stop-color="#6bff00"/><stop offset="0.411" stop-color="#b8ff00"/><stop offset="0.562" stop-color="#fffb00"/><stop offset="0.764" stop-color="#ffb900"/><stop offset="0.996" stop-color="#ff8900"/></linearGradient><linearGradient id="c42" gradientUnits="userSpaceOnUse" x1="1486" y1="0" x2="2004" y2="0"><stop offset="0.000" stop-color="#00ff65"/><stop offset="0.156" stop-color="#00ff3a"/><stop offset="0.208" stop-color="#00ff18"/><stop offset="0.226" stop-color="#00ff00"/><stop offset="0.243" stop-color="#00ff00"/><stop offset="0.249" stop-color="#1cff00"/><stop offset="0.266" stop-color="#44ff00"/><stop offset="0.319" stop-color="#7cff00"/><stop offset="0.458" stop-color="#d2ff00"/><stop offset="0.562" stop-color="#fffa00"/><stop offset="0.764" stop-color="#ffb700"/><stop offset="0.996" stop-color="#ff8800"/></linearGradient><linearGradient id="c43" gradientUnits="userSpaceOnUse" x1="1486" y1="0" x2="2004" y2="0"><stop offset="0.000" stop-color="#00ff67"/><stop offset="0.162" stop-color="#00ff3b"/><stop offset="0.214" stop-color="#00ff1a"/><stop offset="0.232" stop-color="#00ff00"/><stop offset="0.243" stop-color="#02ff00"/><stop offset="0.249" stop-color="#22ff00"/><stop offset="0.272" stop-color="#4fff00"/><stop offset="0.342" stop-color="#8fff00"/><stop offset="0.521" stop-color="#f3ff00"/><stop offset="0.562" stop-color="#fff800"/><stop offset="0.770" stop-color="#ffb500"/><stop offset="0.996" stop-color="#ff8700"/></linearGradient><linearGradient id="c44" gradientUnits="userSpaceOnUse" x1="1486" y1="0" x2="2004" y2="0"><stop offset="0.000" stop-color="#00ff69"/><stop offset="0.168" stop-color="#00ff3c"/><stop offset="0.220" stop-color="#00ff1c"/><stop offset="0.237" stop-color="#00ff00"/><stop offset="0.255" stop-color="#35ff00"/><stop offset="0.295" stop-color="#6bff00"/><stop offset="0.400" stop-color="#b6ff00"/><stop offset="0.550" stop-color="#fffc00"/><stop offset="0.747" stop-color="#ffb900"/><stop offset="0.996" stop-color="#ff8600"/></linearGradient><linearGradient id="c45" gradientUnits="userSpaceOnUse" x1="1486" y1="0" x2="2004" y2="0"><stop offset="0.000" stop-color="#00ff6b"/><stop offset="0.174" stop-color="#00ff3d"/><stop offset="0.232" stop-color="#00ff17"/><stop offset="0.237" stop-color="#00ff0f"/><stop offset="0.243" stop-color="#18ff02"/><stop offset="0.255" stop-color="#38ff00"/><stop offset="0.295" stop-color="#6dff00"/><stop offset="0.405" stop-color="#baff00"/><stop offset="0.544" stop-color="#fffd00"/><stop offset="0.741" stop-color="#ffba00"/><stop offset="0.996" stop-color="#ff8500"/></linearGradient><linearGradient id="c46" gradientUnits="userSpaceOnUse" x1="1486" y1="0" x2="2004" y2="0"><stop offset="0.000" stop-color="#00ff6d"/><stop offset="0.174" stop-color="#00ff41"/><stop offset="0.237" stop-color="#00ff19"/><stop offset="0.243" stop-color="#1fff12"/><stop offset="0.255" stop-color="#3cff00"/><stop offset="0.301" stop-color="#74ff00"/><stop offset="0.423" stop-color="#c6ff00"/><stop offset="0.544" stop-color="#fffb00"/><stop offset="0.741" stop-color="#ffb800"/><stop offset="0.996" stop-color="#ff8300"/></linearGradient><linearGradient id="c47" gradientUnits="userSpaceOnUse" x1="1486" y1="0" x2="2004" y2="0"><stop offset="0.000" stop-color="#00ff6f"/><stop offset="0.180" stop-color="#00ff42"/><stop offset="0.232" stop-color="#00ff26"/><stop offset="0.237" stop-color="#08ff21"/><stop offset="0.243" stop-color="#24ff1b"/><stop offset="0.261" stop-color="#48ff00"/><stop offset="0.319" stop-color="#84ff00"/><stop offset="0.469" stop-color="#e0ff00"/><stop offset="0.544" stop-color="#fff900"/><stop offset="0.741" stop-color="#ffb700"/><stop offset="0.996" stop-color="#ff8200"/></linearGradient><linearGradient id="c48" gradientUnits="userSpaceOnUse" x1="1486" y1="0" x2="2004" y2="0"><stop offset="0.000" stop-color="#00ff70"/><stop offset="0.185" stop-color="#00ff43"/><stop offset="0.232" stop-color="#00ff2b"/><stop offset="0.249" stop-color="#37ff1d"/><stop offset="0.266" stop-color="#53ff00"/><stop offset="0.336" stop-color="#93ff00"/><stop offset="0.521" stop-color="#fbff00"/><stop offset="0.747" stop-color="#ffb400"/><stop offset="0.996" stop-color="#ff8100"/></linearGradient><linearGradient id="c49" gradientUnits="userSpaceOnUse" x1="1486" y1="0" x2="2004" y2="0"><stop offset="0.000" stop-color="#00ff72"/><stop offset="0.191" stop-color="#00ff44"/><stop offset="0.232" stop-color="#00ff30"/><stop offset="0.243" stop-color="#2eff29"/><stop offset="0.266" stop-color="#55ff10"/><stop offset="0.272" stop-color="#5cff03"/><stop offset="0.353" stop-color="#a1ff00"/><stop offset="0.527" stop-color="#fffe00"/><stop offset="0.712" stop-color="#ffbc00"/><stop offset="0.996" stop-color="#ff8000"/></linearGradient><linearGradient id="c50" gradientUnits="userSpaceOnUse" x1="1486" y1="0" x2="2004" y2="0"><stop offset="0.000" stop-color="#00ff74"/><stop offset="0.191" stop-color="#00ff47"/><stop offset="0.232" stop-color="#00ff35"/><stop offset="0.237" stop-color="#22ff32"/><stop offset="0.261" stop-color="#50ff21"/><stop offset="0.284" stop-color="#6bff00"/><stop offset="0.388" stop-color="#b8ff00"/><stop offset="0.527" stop-color="#fffc00"/><stop offset="0.718" stop-color="#ffb900"/><stop offset="0.996" stop-color="#ff7f00"/></linearGradient><linearGradient id="c51" gradientUnits="userSpaceOnUse" x1="1486" y1="0" x2="2004" y2="0"><stop offset="0.000" stop-color="#00ff76"/><stop offset="0.197" stop-color="#00ff48"/><stop offset="0.226" stop-color="#00ff3c"/><stop offset="0.243" stop-color="#36ff33"/><stop offset="0.278" stop-color="#67ff15"/><stop offset="0.290" stop-color="#73ff00"/><stop offset="0.405" stop-color="#c4ff00"/><stop offset="0.527" stop-color="#fffb00"/><stop offset="0.718" stop-color="#ffb800"/><stop offset="0.996" stop-color="#ff7e00"/></linearGradient><linearGradient id="c52" gradientUnits="userSpaceOnUse" x1="1486" y1="0" x2="2004" y2="0"><stop offset="0.000" stop-color="#00ff77"/><stop offset="0.203" stop-color="#00ff49"/><stop offset="0.226" stop-color="#00ff40"/><stop offset="0.237" stop-color="#2cff3a"/><stop offset="0.266" stop-color="#5cff29"/><stop offset="0.290" stop-color="#74ff0e"/><stop offset="0.295" stop-color="#7aff00"/><stop offset="0.423" stop-color="#cfff00"/><stop offset="0.521" stop-color="#fffc00"/><stop offset="0.707" stop-color="#ffba00"/><stop offset="0.996" stop-color="#ff7d00"/></linearGradient><linearGradient id="c53" gradientUnits="userSpaceOnUse" x1="1486" y1="0" x2="2004" y2="0"><stop offset="0.000" stop-color="#00ff79"/><stop offset="0.203" stop-color="#00ff4c"/><stop offset="0.226" stop-color="#00ff43"/><stop offset="0.232" stop-color="#1fff41"/><stop offset="0.249" stop-color="#47ff39"/><stop offset="0.290" stop-color="#76ff1a"/><stop offset="0.307" stop-color="#85ff00"/><stop offset="0.458" stop-color="#e4ff00"/><stop offset="0.521" stop-color="#fffa00"/><stop offset="0.712" stop-color="#ffb700"/><stop offset="0.996" stop-color="#ff7b00"/></linearGradient><linearGradient id="c54" gradientUnits="userSpaceOnUse" x1="1486" y1="0" x2="2004" y2="0"><stop offset="0.000" stop-color="#00ff7b"/><stop offset="0.208" stop-color="#00ff4d"/><stop offset="0.226" stop-color="#06ff47"/><stop offset="0.232" stop-color="#24ff45"/><stop offset="0.255" stop-color="#52ff3a"/><stop offset="0.295" stop-color="#7dff1c"/><stop offset="0.313" stop-color="#8cff00"/><stop offset="0.475" stop-color="#eeff00"/><stop offset="0.521" stop-color="#fff800"/><stop offset="0.712" stop-color="#ffb600"/><stop offset="0.996" stop-color="#ff7a00"/></linearGradient><linearGradient id="c55" gradientUnits="userSpaceOnUse" x1="1486" y1="0" x2="2004" y2="0"><stop offset="0.000" stop-color="#00ff7d"/><stop offset="0.214" stop-color="#00ff4e"/><stop offset="0.220" stop-color="#00ff4c"/><stop offset="0.237" stop-color="#38ff46"/><stop offset="0.272" stop-color="#69ff35"/><stop offset="0.307" stop-color="#89ff16"/><stop offset="0.319" stop-color="#92ff00"/><stop offset="0.492" stop-color="#f9ff00"/><stop offset="0.568" stop-color="#ffe300"/><stop offset="0.805" stop-color="#ff9e00"/><stop offset="0.996" stop-color="#ff7900"/></linearGradient><linearGradient id="c56" gradientUnits="userSpaceOnUse" x1="1486" y1="0" x2="2004" y2="0"><stop offset="0.000" stop-color="#00ff7e"/><stop offset="0.214" stop-color="#00ff51"/><stop offset="0.220" stop-color="#00ff4f"/><stop offset="0.232" stop-color="#2eff4b"/><stop offset="0.261" stop-color="#5eff3f"/><stop offset="0.313" stop-color="#8fff19"/><stop offset="0.324" stop-color="#98ff01"/><stop offset="0.498" stop-color="#feff00"/><stop offset="0.689" stop-color="#ffb900"/><stop offset="0.996" stop-color="#ff7800"/></linearGradient><linearGradient id="c57" gradientUnits="userSpaceOnUse" x1="1486" y1="0" x2="2004" y2="0"><stop offset="0.000" stop-color="#00ff80"/><stop offset="0.220" stop-color="#00ff52"/><stop offset="0.226" stop-color="#21ff50"/><stop offset="0.243" stop-color="#49ff4a"/><stop offset="0.295" stop-color="#83ff30"/><stop offset="0.324" stop-color="#9aff12"/><stop offset="0.336" stop-color="#a2ff00"/><stop offset="0.498" stop-color="#ffff00"/><stop offset="0.678" stop-color="#ffbb00"/><stop offset="0.996" stop-color="#ff7700"/></linearGradient><linearGradient id="c58" gradientUnits="userSpaceOnUse" x1="1486" y1="0" x2="2004" y2="0"><stop offset="0.000" stop-color="#00ff82"/><stop offset="0.214" stop-color="#00ff57"/><stop offset="0.220" stop-color="#0cff55"/><stop offset="0.226" stop-color="#27ff53"/><stop offset="0.249" stop-color="#54ff4b"/><stop offset="0.313" stop-color="#93ff29"/><stop offset="0.342" stop-color="#a8ff00"/><stop offset="0.498" stop-color="#fffd00"/><stop offset="0.678" stop-color="#ffba00"/><stop offset="0.996" stop-color="#ff7500"/></linearGradient><linearGradient id="c59" gradientUnits="userSpaceOnUse" x1="1486" y1="0" x2="2004" y2="0"><stop offset="0.000" stop-color="#00ff84"/><stop offset="0.214" stop-color="#00ff5a"/><stop offset="0.226" stop-color="#2cff56"/><stop offset="0.255" stop-color="#5eff4c"/><stop offset="0.324" stop-color="#9dff25"/><stop offset="0.342" stop-color="#a9ff0d"/><stop offset="0.347" stop-color="#adff00"/><stop offset="0.498" stop-color="#fffb00"/><stop offset="0.678" stop-color="#ffb900"/><stop offset="0.996" stop-color="#ff7400"/></linearGradient><linearGradient id="c60" gradientUnits="userSpaceOnUse" x1="1486" y1="0" x2="2004" y2="0"><stop offset="0.000" stop-color="#00ff85"/><stop offset="0.214" stop-color="#00ff5d"/><stop offset="0.220" stop-color="#1eff5b"/><stop offset="0.237" stop-color="#48ff56"/><stop offset="0.290" stop-color="#83ff41"/><stop offset="0.342" stop-color="#abff1a"/><stop offset="0.353" stop-color="#b3ff01"/><stop offset="0.492" stop-color="#fffc00"/><stop offset="0.672" stop-color="#ffb900"/><stop offset="0.996" stop-color="#ff7300"/></linearGradient><linearGradient id="c61" gradientUnits="userSpaceOnUse" x1="1486" y1="0" x2="2004" y2="0"><stop offset="0.000" stop-color="#00ff87"/><stop offset="0.214" stop-color="#03ff5f"/><stop offset="0.220" stop-color="#24ff5e"/><stop offset="0.243" stop-color="#54ff57"/><stop offset="0.307" stop-color="#93ff3c"/><stop offset="0.347" stop-color="#b0ff1c"/><stop offset="0.365" stop-color="#bcff00"/><stop offset="0.492" stop-color="#fffa00"/><stop offset="0.672" stop-color="#ffb800"/><stop offset="0.996" stop-color="#ff7200"/></linearGradient><linearGradient id="c62" gradientUnits="userSpaceOnUse" x1="1486" y1="0" x2="2004" y2="0"><stop offset="0.000" stop-color="#00ff89"/><stop offset="0.208" stop-color="#00ff63"/><stop offset="0.226" stop-color="#39ff5f"/><stop offset="0.261" stop-color="#6bff54"/><stop offset="0.342" stop-color="#aeff2a"/><stop offset="0.365" stop-color="#bdff0a"/><stop offset="0.371" stop-color="#c1ff00"/><stop offset="0.486" stop-color="#fffb00"/><stop offset="0.660" stop-color="#ffb900"/><stop offset="0.996" stop-color="#ff7000"/></linearGradient><linearGradient id="c63" gradientUnits="userSpaceOnUse" x1="1486" y1="0" x2="2004" y2="0"><stop offset="0.000" stop-color="#00ff8a"/><stop offset="0.208" stop-color="#00ff66"/><stop offset="0.220" stop-color="#2fff63"/><stop offset="0.249" stop-color="#60ff5b"/><stop offset="0.330" stop-color="#a8ff38"/><stop offset="0.365" stop-color="#bfff19"/><stop offset="0.376" stop-color="#c6ff00"/><stop offset="0.481" stop-color="#fffd00"/><stop offset="0.654" stop-color="#ffba00"/><stop offset="0.996" stop-color="#ff6f00"/></linearGradient><linearGradient id="c64" gradientUnits="userSpaceOnUse" x1="1486" y1="0" x2="2004" y2="0"><stop offset="0.000" stop-color="#00ff8c"/><stop offset="0.208" stop-color="#00ff68"/><stop offset="0.214" stop-color="#21ff67"/><stop offset="0.232" stop-color="#4aff62"/><stop offset="0.284" stop-color="#86ff52"/><stop offset="0.359" stop-color="#bdff29"/><stop offset="0.376" stop-color="#c8ff12"/><stop offset="0.382" stop-color="#ccff02"/><stop offset="0.481" stop-color="#fffb00"/><stop offset="0.654" stop-color="#ffb800"/><stop offset="0.996" stop-color="#ff6e00"/></linearGradient><linearGradient id="c65" gradientUnits="userSpaceOnUse" x1="1486" y1="0" x2="2004" y2="0"><stop offset="0.000" stop-color="#00ff8e"/><stop offset="0.203" stop-color="#00ff6c"/><stop offset="0.208" stop-color="#0aff6b"/><stop offset="0.214" stop-color="#27ff69"/><stop offset="0.237" stop-color="#56ff64"/><stop offset="0.301" stop-color="#96ff4f"/><stop offset="0.371" stop-color="#c6ff25"/><stop offset="0.394" stop-color="#d4ff00"/><stop offset="0.475" stop-color="#fffc00"/><stop offset="0.649" stop-color="#ffb900"/><stop offset="0.996" stop-color="#ff6c00"/></linearGradient><linearGradient id="c66" gradientUnits="userSpaceOnUse" x1="1486" y1="0" x2="2004" y2="0"><stop offset="0.000" stop-color="#00ff8f"/><stop offset="0.203" stop-color="#00ff6f"/><stop offset="0.214" stop-color="#2cff6c"/><stop offset="0.237" stop-color="#58ff66"/><stop offset="0.307" stop-color="#9cff50"/><stop offset="0.376" stop-color="#ccff27"/><stop offset="0.400" stop-color="#daff00"/><stop offset="0.475" stop-color="#fffa00"/><stop offset="0.649" stop-color="#ffb700"/><stop offset="0.996" stop-color="#ff6b00"/></linearGradient><linearGradient id="c67" gradientUnits="userSpaceOnUse" x1="1486" y1="0" x2="2004" y2="0"><stop offset="0.000" stop-color="#00ff91"/><stop offset="0.203" stop-color="#00ff71"/><stop offset="0.208" stop-color="#1eff70"/><stop offset="0.226" stop-color="#49ff6c"/><stop offset="0.278" stop-color="#86ff5d"/><stop offset="0.371" stop-color="#caff32"/><stop offset="0.400" stop-color="#dbff10"/><stop offset="0.405" stop-color="#dfff00"/><stop offset="0.469" stop-color="#fffb00"/><stop offset="0.637" stop-color="#ffb900"/><stop offset="0.990" stop-color="#ff6b00"/><stop offset="0.996" stop-color="#ff6a00"/></linearGradient><linearGradient id="c68" gradientUnits="userSpaceOnUse" x1="1486" y1="0" x2="2004" y2="0"><stop offset="0.000" stop-color="#00ff93"/><stop offset="0.203" stop-color="#00ff73"/><stop offset="0.208" stop-color="#24ff72"/><stop offset="0.226" stop-color="#4cff6e"/><stop offset="0.278" stop-color="#88ff60"/><stop offset="0.376" stop-color="#cfff34"/><stop offset="0.405" stop-color="#e1ff13"/><stop offset="0.411" stop-color="#e4ff03"/><stop offset="0.469" stop-color="#fff900"/><stop offset="0.643" stop-color="#ffb600"/><stop offset="0.996" stop-color="#ff6800"/></linearGradient><linearGradient id="c69" gradientUnits="userSpaceOnUse" x1="1486" y1="0" x2="2004" y2="0"><stop offset="0.000" stop-color="#00ff94"/><stop offset="0.197" stop-color="#00ff77"/><stop offset="0.214" stop-color="#39ff73"/><stop offset="0.249" stop-color="#6eff6b"/><stop offset="0.342" stop-color="#bbff4c"/><stop offset="0.400" stop-color="#dfff26"/><stop offset="0.423" stop-color="#edff00"/><stop offset="0.463" stop-color="#fffa00"/><stop offset="0.631" stop-color="#ffb800"/><stop offset="0.985" stop-color="#ff6900"/><stop offset="0.996" stop-color="#ff6700"/></linearGradient><linearGradient id="c70" gradientUnits="userSpaceOnUse" x1="1486" y1="0" x2="2004" y2="0"><stop offset="0.000" stop-color="#00ff96"/><stop offset="0.197" stop-color="#00ff79"/><stop offset="0.208" stop-color="#2fff77"/><stop offset="0.237" stop-color="#62ff70"/><stop offset="0.313" stop-color="#a8ff5b"/><stop offset="0.394" stop-color="#ddff33"/><stop offset="0.417" stop-color="#ebff19"/><stop offset="0.429" stop-color="#f2ff00"/><stop offset="0.463" stop-color="#fff900"/><stop offset="0.631" stop-color="#ffb700"/><stop offset="0.990" stop-color="#ff6700"/><stop offset="0.996" stop-color="#ff6600"/></linearGradient><linearGradient id="c71" gradientUnits="userSpaceOnUse" x1="1486" y1="0" x2="2004" y2="0"><stop offset="0.000" stop-color="#00ff98"/><stop offset="0.197" stop-color="#00ff7b"/><stop offset="0.203" stop-color="#21ff7a"/><stop offset="0.220" stop-color="#4bff77"/><stop offset="0.272" stop-color="#89ff6b"/><stop offset="0.388" stop-color="#dcff3d"/><stop offset="0.423" stop-color="#f0ff1c"/><stop offset="0.434" stop-color="#f7ff00"/><stop offset="0.481" stop-color="#ffee00"/><stop offset="0.666" stop-color="#ffab00"/><stop offset="0.996" stop-color="#ff6400"/></linearGradient><linearGradient id="c72" gradientUnits="userSpaceOnUse" x1="1486" y1="0" x2="2004" y2="0"><stop offset="0.000" stop-color="#00ff99"/><stop offset="0.191" stop-color="#00ff7f"/><stop offset="0.197" stop-color="#07ff7e"/><stop offset="0.203" stop-color="#27ff7d"/><stop offset="0.226" stop-color="#57ff78"/><stop offset="0.290" stop-color="#9aff69"/><stop offset="0.394" stop-color="#e1ff3e"/><stop offset="0.429" stop-color="#f6ff1f"/><stop offset="0.440" stop-color="#fcff04"/><stop offset="0.620" stop-color="#ffb700"/><stop offset="0.973" stop-color="#ff6700"/><stop offset="0.996" stop-color="#ff6300"/></linearGradient><linearGradient id="c73" gradientUnits="userSpaceOnUse" x1="1486" y1="0" x2="2004" y2="0"><stop offset="0.000" stop-color="#00ff9b"/><stop offset="0.191" stop-color="#00ff81"/><stop offset="0.208" stop-color="#3cff7e"/><stop offset="0.243" stop-color="#70ff77"/><stop offset="0.336" stop-color="#beff5d"/><stop offset="0.417" stop-color="#f1ff33"/><stop offset="0.440" stop-color="#ffff18"/><stop offset="0.452" stop-color="#fff900"/><stop offset="0.620" stop-color="#ffb600"/><stop offset="0.979" stop-color="#ff6500"/><stop offset="0.996" stop-color="#ff6100"/></linearGradient><linearGradient id="c74" gradientUnits="userSpaceOnUse" x1="1486" y1="0" x2="2004" y2="0"><stop offset="0.000" stop-color="#00ff9d"/><stop offset="0.191" stop-color="#00ff83"/><stop offset="0.203" stop-color="#32ff81"/><stop offset="0.232" stop-color="#64ff7c"/><stop offset="0.307" stop-color="#abff69"/><stop offset="0.411" stop-color="#efff3e"/><stop offset="0.446" stop-color="#fffa1a"/><stop offset="0.458" stop-color="#fff400"/><stop offset="0.631" stop-color="#ffb100"/><stop offset="0.996" stop-color="#ff6000"/></linearGradient><linearGradient id="c75" gradientUnits="userSpaceOnUse" x1="1486" y1="0" x2="2004" y2="0"><stop offset="0.000" stop-color="#00ff9f"/><stop offset="0.191" stop-color="#00ff85"/><stop offset="0.197" stop-color="#24ff84"/><stop offset="0.214" stop-color="#4eff81"/><stop offset="0.266" stop-color="#8cff77"/><stop offset="0.400" stop-color="#eaff4a"/><stop offset="0.440" stop-color="#fffb2c"/><stop offset="0.458" stop-color="#fff211"/><stop offset="0.463" stop-color="#ffef00"/><stop offset="0.643" stop-color="#ffac00"/><stop offset="0.996" stop-color="#ff5e00"/></linearGradient><linearGradient id="c76" gradientUnits="userSpaceOnUse" x1="1486" y1="0" x2="2004" y2="0"><stop offset="0.000" stop-color="#00ffa0"/><stop offset="0.185" stop-color="#00ff89"/><stop offset="0.191" stop-color="#0eff88"/><stop offset="0.197" stop-color="#2aff87"/><stop offset="0.220" stop-color="#5aff83"/><stop offset="0.284" stop-color="#9dff75"/><stop offset="0.411" stop-color="#f3ff48"/><stop offset="0.446" stop-color="#fff62d"/><stop offset="0.475" stop-color="#ffe700"/><stop offset="0.666" stop-color="#ffa400"/><stop offset="0.996" stop-color="#ff5d00"/></linearGradient><linearGradient id="c77" gradientUnits="userSpaceOnUse" x1="1486" y1="0" x2="2004" y2="0"><stop offset="0.000" stop-color="#00ffa2"/><stop offset="0.185" stop-color="#00ff8b"/><stop offset="0.197" stop-color="#2fff89"/><stop offset="0.220" stop-color="#5cff85"/><stop offset="0.290" stop-color="#a3ff76"/><stop offset="0.417" stop-color="#f9ff49"/><stop offset="0.463" stop-color="#ffeb20"/><stop offset="0.481" stop-color="#ffe300"/><stop offset="0.678" stop-color="#ffa000"/><stop offset="0.996" stop-color="#ff5b00"/></linearGradient><linearGradient id="c78" gradientUnits="userSpaceOnUse" x1="1486" y1="0" x2="2004" y2="0"><stop offset="0.000" stop-color="#00ffa4"/><stop offset="0.185" stop-color="#00ff8d"/><stop offset="0.191" stop-color="#21ff8c"/><stop offset="0.208" stop-color="#4dff89"/><stop offset="0.261" stop-color="#8cff80"/><stop offset="0.394" stop-color="#edff59"/><stop offset="0.434" stop-color="#fff942"/><stop offset="0.475" stop-color="#ffe419"/><stop offset="0.486" stop-color="#ffde00"/><stop offset="0.695" stop-color="#ff9a00"/><stop offset="0.996" stop-color="#ff5a00"/></linearGradient><linearGradient id="c79" gradientUnits="userSpaceOnUse" x1="1486" y1="0" x2="2004" y2="0"><stop offset="0.000" stop-color="#00ffa5"/><stop offset="0.185" stop-color="#04ff8f"/><stop offset="0.191" stop-color="#27ff8e"/><stop offset="0.208" stop-color="#50ff8c"/><stop offset="0.261" stop-color="#8eff82"/><stop offset="0.400" stop-color="#f3ff5a"/><stop offset="0.434" stop-color="#fff747"/><stop offset="0.481" stop-color="#ffdf1b"/><stop offset="0.492" stop-color="#ffda01"/><stop offset="0.707" stop-color="#ff9500"/><stop offset="0.996" stop-color="#ff5800"/></linearGradient><linearGradient id="c80" gradientUnits="userSpaceOnUse" x1="1486" y1="0" x2="2004" y2="0"><stop offset="0.000" stop-color="#00ffa7"/><stop offset="0.180" stop-color="#00ff92"/><stop offset="0.197" stop-color="#3dff90"/><stop offset="0.232" stop-color="#73ff8a"/><stop offset="0.324" stop-color="#c3ff76"/><stop offset="0.423" stop-color="#fffb53"/><stop offset="0.486" stop-color="#ffdb1c"/><stop offset="0.504" stop-color="#ffd300"/><stop offset="0.736" stop-color="#ff8d00"/><stop offset="0.996" stop-color="#ff5600"/></linearGradient><linearGradient id="c81" gradientUnits="userSpaceOnUse" x1="1486" y1="0" x2="2004" y2="0"><stop offset="0.000" stop-color="#00ffa9"/><stop offset="0.180" stop-color="#00ff94"/><stop offset="0.191" stop-color="#32ff93"/><stop offset="0.220" stop-color="#67ff8e"/><stop offset="0.295" stop-color="#b0ff80"/><stop offset="0.417" stop-color="#fffd5a"/><stop offset="0.492" stop-color="#ffd61e"/><stop offset="0.510" stop-color="#ffcf00"/><stop offset="0.747" stop-color="#ff8900"/><stop offset="0.996" stop-color="#ff5500"/></linearGradient><linearGradient id="c82" gradientUnits="userSpaceOnUse" x1="1486" y1="0" x2="2004" y2="0"><stop offset="0.000" stop-color="#00ffab"/><stop offset="0.180" stop-color="#00ff97"/><stop offset="0.185" stop-color="#24ff96"/><stop offset="0.203" stop-color="#4fff93"/><stop offset="0.255" stop-color="#8fff8b"/><stop offset="0.394" stop-color="#f5ff68"/><stop offset="0.429" stop-color="#fff456"/><stop offset="0.498" stop-color="#ffd21f"/><stop offset="0.515" stop-color="#ffcb00"/><stop offset="0.764" stop-color="#ff8300"/><stop offset="0.996" stop-color="#ff5300"/></linearGradient><linearGradient id="c83" gradientUnits="userSpaceOnUse" x1="1486" y1="0" x2="2004" y2="0"><stop offset="0.000" stop-color="#00ffac"/><stop offset="0.174" stop-color="#00ff9a"/><stop offset="0.180" stop-color="#0bff99"/><stop offset="0.185" stop-color="#2bff98"/><stop offset="0.208" stop-color="#5cff95"/><stop offset="0.272" stop-color="#a1ff8a"/><stop offset="0.405" stop-color="#ffff67"/><stop offset="0.504" stop-color="#ffce20"/><stop offset="0.521" stop-color="#ffc701"/><stop offset="0.782" stop-color="#ff7e00"/><stop offset="0.996" stop-color="#ff5100"/></linearGradient><linearGradient id="c84" gradientUnits="userSpaceOnUse" x1="1486" y1="0" x2="2004" y2="0"><stop offset="0.000" stop-color="#00ffae"/><stop offset="0.174" stop-color="#00ff9c"/><stop offset="0.185" stop-color="#30ff9a"/><stop offset="0.208" stop-color="#5fff97"/><stop offset="0.272" stop-color="#a3ff8c"/><stop offset="0.405" stop-color="#fffd6a"/><stop offset="0.510" stop-color="#ffca21"/><stop offset="0.533" stop-color="#ffc100"/><stop offset="0.811" stop-color="#ff7600"/><stop offset="0.996" stop-color="#ff5000"/></linearGradient><linearGradient id="c85" gradientUnits="userSpaceOnUse" x1="1486" y1="0" x2="2004" y2="0"><stop offset="0.000" stop-color="#00ffb0"/><stop offset="0.174" stop-color="#00ff9e"/><stop offset="0.180" stop-color="#21ff9d"/><stop offset="0.197" stop-color="#4fff9b"/><stop offset="0.243" stop-color="#8aff94"/><stop offset="0.365" stop-color="#e9ff7b"/><stop offset="0.405" stop-color="#fffb6d"/><stop offset="0.515" stop-color="#ffc623"/><stop offset="0.539" stop-color="#ffbd00"/><stop offset="0.828" stop-color="#ff7100"/><stop offset="0.996" stop-color="#ff4e00"/></linearGradient><linearGradient id="c86" gradientUnits="userSpaceOnUse" x1="1486" y1="0" x2="2004" y2="0"><stop offset="0.000" stop-color="#00ffb2"/><stop offset="0.174" stop-color="#00ffa0"/><stop offset="0.180" stop-color="#28ff9f"/><stop offset="0.197" stop-color="#52ff9d"/><stop offset="0.249" stop-color="#92ff95"/><stop offset="0.388" stop-color="#faff78"/><stop offset="0.515" stop-color="#ffc429"/><stop offset="0.539" stop-color="#ffbc0c"/><stop offset="0.544" stop-color="#ffba00"/><stop offset="0.846" stop-color="#ff6c00"/><stop offset="0.996" stop-color="#ff4c00"/></linearGradient><linearGradient id="c87" gradientUnits="userSpaceOnUse" x1="1486" y1="0" x2="2004" y2="0"><stop offset="0.000" stop-color="#00ffb3"/><stop offset="0.168" stop-color="#00ffa3"/><stop offset="0.185" stop-color="#3effa1"/><stop offset="0.220" stop-color="#76ff9c"/><stop offset="0.313" stop-color="#c9ff8d"/><stop offset="0.400" stop-color="#fffa75"/><stop offset="0.527" stop-color="#ffbe24"/><stop offset="0.550" stop-color="#ffb602"/><stop offset="0.869" stop-color="#ff6500"/><stop offset="0.996" stop-color="#ff4a00"/></linearGradient><linearGradient id="c88" gradientUnits="userSpaceOnUse" x1="1486" y1="0" x2="2004" y2="0"><stop offset="0.000" stop-color="#00ffb5"/><stop offset="0.168" stop-color="#00ffa5"/><stop offset="0.180" stop-color="#33ffa4"/><stop offset="0.203" stop-color="#61ffa1"/><stop offset="0.266" stop-color="#a6ff97"/><stop offset="0.394" stop-color="#fffc7b"/><stop offset="0.533" stop-color="#ffba25"/><stop offset="0.562" stop-color="#ffb100"/><stop offset="0.915" stop-color="#ff5a00"/><stop offset="0.996" stop-color="#ff4800"/></linearGradient><linearGradient id="c89" gradientUnits="userSpaceOnUse" x1="1486" y1="0" x2="2004" y2="0"><stop offset="0.000" stop-color="#00ffb7"/><stop offset="0.168" stop-color="#00ffa7"/><stop offset="0.174" stop-color="#24ffa7"/><stop offset="0.191" stop-color="#51ffa4"/><stop offset="0.237" stop-color="#8dff9e"/><stop offset="0.365" stop-color="#f2ff87"/><stop offset="0.400" stop-color="#fff679"/><stop offset="0.539" stop-color="#ffb726"/><stop offset="0.568" stop-color="#ffad00"/><stop offset="0.956" stop-color="#ff4f00"/><stop offset="0.996" stop-color="#ff4600"/></linearGradient><linearGradient id="c90" gradientUnits="userSpaceOnUse" x1="1486" y1="0" x2="2004" y2="0"><stop offset="0.000" stop-color="#00ffb9"/><stop offset="0.162" stop-color="#00ffaa"/><stop offset="0.168" stop-color="#08ffa9"/><stop offset="0.174" stop-color="#2bffa9"/><stop offset="0.191" stop-color="#55ffa7"/><stop offset="0.243" stop-color="#95ffa0"/><stop offset="0.376" stop-color="#fcff87"/><stop offset="0.539" stop-color="#ffb52b"/><stop offset="0.568" stop-color="#ffab0b"/><stop offset="0.573" stop-color="#ffaa00"/><stop offset="0.996" stop-color="#ff4400"/></linearGradient><linearGradient id="c91" gradientUnits="userSpaceOnUse" x1="1486" y1="0" x2="2004" y2="0"><stop offset="0.000" stop-color="#00ffbb"/><stop offset="0.162" stop-color="#00ffac"/><stop offset="0.174" stop-color="#31ffab"/><stop offset="0.197" stop-color="#61ffa8"/><stop offset="0.261" stop-color="#a8ffa0"/><stop offset="0.382" stop-color="#fffc88"/><stop offset="0.521" stop-color="#ffb93b"/><stop offset="0.568" stop-color="#ffaa17"/><stop offset="0.579" stop-color="#ffa602"/><stop offset="0.996" stop-color="#ff4200"/></linearGradient><linearGradient id="c92" gradientUnits="userSpaceOnUse" x1="1486" y1="0" x2="2004" y2="0"><stop offset="0.000" stop-color="#00ffbc"/><stop offset="0.162" stop-color="#00ffae"/><stop offset="0.168" stop-color="#20ffae"/><stop offset="0.180" stop-color="#45ffad"/><stop offset="0.214" stop-color="#7bffa8"/><stop offset="0.307" stop-color="#cfff9b"/><stop offset="0.382" stop-color="#fffa89"/><stop offset="0.521" stop-color="#ffb83f"/><stop offset="0.573" stop-color="#ffa618"/><stop offset="0.591" stop-color="#ffa100"/><stop offset="0.996" stop-color="#ff4000"/></linearGradient><linearGradient id="c93" gradientUnits="userSpaceOnUse" x1="1486" y1="0" x2="2004" y2="0"><stop offset="0.000" stop-color="#00ffbe"/><stop offset="0.162" stop-color="#00ffb1"/><stop offset="0.168" stop-color="#28ffb0"/><stop offset="0.185" stop-color="#54ffae"/><stop offset="0.237" stop-color="#96ffa8"/><stop offset="0.371" stop-color="#ffff92"/><stop offset="0.504" stop-color="#ffbc4b"/><stop offset="0.579" stop-color="#ffa319"/><stop offset="0.597" stop-color="#ff9e00"/><stop offset="0.996" stop-color="#ff3d00"/></linearGradient><linearGradient id="c94" gradientUnits="userSpaceOnUse" x1="1486" y1="0" x2="2004" y2="0"><stop offset="0.000" stop-color="#00ffc0"/><stop offset="0.156" stop-color="#00ffb3"/><stop offset="0.162" stop-color="#10ffb3"/><stop offset="0.168" stop-color="#2effb2"/><stop offset="0.191" stop-color="#61ffb0"/><stop offset="0.255" stop-color="#a9ffa8"/><stop offset="0.371" stop-color="#fffd94"/><stop offset="0.504" stop-color="#ffbb4e"/><stop offset="0.585" stop-color="#ff9f1b"/><stop offset="0.602" stop-color="#ff9a00"/><stop offset="0.996" stop-color="#ff3b00"/></linearGradient><linearGradient id="c95" gradientUnits="userSpaceOnUse" x1="1486" y1="0" x2="2004" y2="0"><stop offset="0.000" stop-color="#00ffc2"/><stop offset="0.156" stop-color="#00ffb6"/><stop offset="0.168" stop-color="#34ffb4"/><stop offset="0.191" stop-color="#64ffb2"/><stop offset="0.255" stop-color="#abffab"/><stop offset="0.365" stop-color="#fffe99"/><stop offset="0.498" stop-color="#ffbb54"/><stop offset="0.591" stop-color="#ff9c1c"/><stop offset="0.614" stop-color="#ff9500"/><stop offset="0.996" stop-color="#ff3900"/></linearGradient><linearGradient id="c96" gradientUnits="userSpaceOnUse" x1="1486" y1="0" x2="2004" y2="0"><stop offset="0.000" stop-color="#00ffc4"/><stop offset="0.156" stop-color="#00ffb8"/><stop offset="0.162" stop-color="#24ffb7"/><stop offset="0.180" stop-color="#53ffb6"/><stop offset="0.226" stop-color="#92ffb1"/><stop offset="0.353" stop-color="#faff9f"/><stop offset="0.521" stop-color="#ffb14b"/><stop offset="0.602" stop-color="#ff9717"/><stop offset="0.620" stop-color="#ff9200"/><stop offset="0.996" stop-color="#ff3600"/></linearGradient><linearGradient id="c97" gradientUnits="userSpaceOnUse" x1="1486" y1="0" x2="2004" y2="0"><stop offset="0.000" stop-color="#00ffc6"/><stop offset="0.156" stop-color="#05ffba"/><stop offset="0.162" stop-color="#2bffb9"/><stop offset="0.180" stop-color="#57ffb8"/><stop offset="0.232" stop-color="#9affb2"/><stop offset="0.353" stop-color="#fcffa2"/><stop offset="0.498" stop-color="#ffb758"/><stop offset="0.602" stop-color="#ff951e"/><stop offset="0.625" stop-color="#ff8f00"/><stop offset="0.996" stop-color="#ff3300"/></linearGradient><linearGradient id="c98" gradientUnits="userSpaceOnUse" x1="1486" y1="0" x2="2004" y2="0"><stop offset="0.000" stop-color="#00ffc7"/><stop offset="0.151" stop-color="#00ffbd"/><stop offset="0.162" stop-color="#31ffbc"/><stop offset="0.185" stop-color="#64ffba"/><stop offset="0.249" stop-color="#adffb3"/><stop offset="0.359" stop-color="#fffba1"/><stop offset="0.492" stop-color="#ffb85d"/><stop offset="0.608" stop-color="#ff921f"/><stop offset="0.631" stop-color="#ff8b00"/><stop offset="0.996" stop-color="#ff3000"/></linearGradient><linearGradient id="c99" gradientUnits="userSpaceOnUse" x1="1486" y1="0" x2="2004" y2="0"><stop offset="0.000" stop-color="#00ffc9"/><stop offset="0.151" stop-color="#00ffbf"/><stop offset="0.162" stop-color="#37ffbe"/><stop offset="0.185" stop-color="#67ffbc"/><stop offset="0.249" stop-color="#afffb6"/><stop offset="0.353" stop-color="#fffda6"/><stop offset="0.481" stop-color="#ffba65"/><stop offset="0.614" stop-color="#ff8f20"/><stop offset="0.643" stop-color="#ff8700"/><stop offset="0.996" stop-color="#ff2d00"/></linearGradient><linearGradient id="c100" gradientUnits="userSpaceOnUse" x1="1486" y1="0" x2="2004" y2="0"><stop offset="0.000" stop-color="#00ffcb"/><stop offset="0.151" stop-color="#00ffc1"/><stop offset="0.156" stop-color="#28ffc1"/><stop offset="0.174" stop-color="#56ffbf"/><stop offset="0.220" stop-color="#95ffbb"/><stop offset="0.342" stop-color="#fcffac"/><stop offset="0.492" stop-color="#ffb461"/><stop offset="0.620" stop-color="#ff8b21"/><stop offset="0.649" stop-color="#ff8300"/><stop offset="0.996" stop-color="#ff2a00"/></linearGradient><linearGradient id="c101" gradientUnits="userSpaceOnUse" x1="1486" y1="0" x2="2004" y2="0"><stop offset="0.000" stop-color="#00ffcd"/><stop offset="0.145" stop-color="#00ffc4"/><stop offset="0.151" stop-color="#0dffc3"/><stop offset="0.156" stop-color="#2fffc3"/><stop offset="0.174" stop-color="#5affc2"/><stop offset="0.226" stop-color="#9dffbd"/><stop offset="0.342" stop-color="#feffaf"/><stop offset="0.469" stop-color="#ffbb6d"/><stop offset="0.625" stop-color="#ff8821"/><stop offset="0.654" stop-color="#ff8000"/><stop offset="0.996" stop-color="#ff2600"/></linearGradient><linearGradient id="c102" gradientUnits="userSpaceOnUse" x1="1486" y1="0" x2="2004" y2="0"><stop offset="0.000" stop-color="#00ffcf"/><stop offset="0.145" stop-color="#00ffc6"/><stop offset="0.156" stop-color="#35ffc5"/><stop offset="0.180" stop-color="#67ffc4"/><stop offset="0.243" stop-color="#b1ffbe"/><stop offset="0.342" stop-color="#fffdb1"/><stop offset="0.463" stop-color="#ffbc72"/><stop offset="0.631" stop-color="#ff8522"/><stop offset="0.660" stop-color="#ff7d00"/><stop offset="0.996" stop-color="#ff2200"/></linearGradient><linearGradient id="c103" gradientUnits="userSpaceOnUse" x1="1486" y1="0" x2="2004" y2="0"><stop offset="0.000" stop-color="#00ffd1"/><stop offset="0.145" stop-color="#00ffc9"/><stop offset="0.151" stop-color="#24ffc8"/><stop offset="0.162" stop-color="#49ffc7"/><stop offset="0.197" stop-color="#82ffc5"/><stop offset="0.290" stop-color="#dbffbc"/><stop offset="0.342" stop-color="#fffbb2"/><stop offset="0.469" stop-color="#ffb771"/><stop offset="0.637" stop-color="#ff8123"/><stop offset="0.672" stop-color="#ff7800"/><stop offset="0.985" stop-color="#ff2300"/><stop offset="0.996" stop-color="#ff1e00"/></linearGradient><linearGradient id="c104" gradientUnits="userSpaceOnUse" x1="1486" y1="0" x2="2004" y2="0"><stop offset="0.000" stop-color="#00ffd3"/><stop offset="0.145" stop-color="#01ffcb"/><stop offset="0.151" stop-color="#2cffca"/><stop offset="0.168" stop-color="#59ffc9"/><stop offset="0.214" stop-color="#99ffc6"/><stop offset="0.330" stop-color="#fdffba"/><stop offset="0.463" stop-color="#ffb875"/><stop offset="0.643" stop-color="#ff7e24"/><stop offset="0.678" stop-color="#ff7500"/><stop offset="0.979" stop-color="#ff2100"/><stop offset="0.996" stop-color="#ff1900"/></linearGradient><linearGradient id="c105" gradientUnits="userSpaceOnUse" x1="1486" y1="0" x2="2004" y2="0"><stop offset="0.000" stop-color="#00ffd5"/><stop offset="0.139" stop-color="#00ffce"/><stop offset="0.156" stop-color="#44ffcc"/><stop offset="0.191" stop-color="#80ffca"/><stop offset="0.278" stop-color="#d7ffc3"/><stop offset="0.336" stop-color="#fffab8"/><stop offset="0.458" stop-color="#ffb879"/><stop offset="0.649" stop-color="#ff7a24"/><stop offset="0.683" stop-color="#ff7100"/><stop offset="0.967" stop-color="#ff2200"/><stop offset="0.996" stop-color="#ff1200"/></linearGradient><linearGradient id="c106" gradientUnits="userSpaceOnUse" x1="1486" y1="0" x2="2004" y2="0"><stop offset="0.000" stop-color="#00ffd7"/><stop offset="0.139" stop-color="#00ffd0"/><stop offset="0.151" stop-color="#38ffcf"/><stop offset="0.174" stop-color="#6affce"/><stop offset="0.237" stop-color="#b5ffc9"/><stop offset="0.330" stop-color="#fffbbd"/><stop offset="0.452" stop-color="#ffb87d"/><stop offset="0.654" stop-color="#ff7725"/><stop offset="0.695" stop-color="#ff6d00"/><stop offset="0.956" stop-color="#ff2300"/><stop offset="0.996" stop-color="#ff0a00"/></linearGradient><linearGradient id="c107" gradientUnits="userSpaceOnUse" x1="1486" y1="0" x2="2004" y2="0"><stop offset="0.000" stop-color="#00ffd9"/><stop offset="0.139" stop-color="#00ffd2"/><stop offset="0.145" stop-color="#28ffd2"/><stop offset="0.162" stop-color="#59ffd1"/><stop offset="0.208" stop-color="#9affce"/><stop offset="0.319" stop-color="#fcffc4"/><stop offset="0.452" stop-color="#ffb67f"/><stop offset="0.666" stop-color="#ff7222"/><stop offset="0.701" stop-color="#ff6900"/><stop offset="0.950" stop-color="#ff2100"/><stop offset="0.996" stop-color="#ff0000"/></linearGradient><linearGradient id="c108" gradientUnits="userSpaceOnUse" x1="1486" y1="0" x2="2004" y2="0"><stop offset="0.000" stop-color="#00ffdb"/><stop offset="0.133" stop-color="#00ffd5"/><stop offset="0.139" stop-color="#0affd5"/><stop offset="0.145" stop-color="#2fffd4"/><stop offset="0.162" stop-color="#5cffd3"/><stop offset="0.214" stop-color="#a3ffd0"/><stop offset="0.319" stop-color="#ffffc7"/><stop offset="0.434" stop-color="#ffbc87"/><stop offset="0.672" stop-color="#ff6f22"/><stop offset="0.712" stop-color="#ff6400"/><stop offset="0.944" stop-color="#ff1f00"/><stop offset="0.990" stop-color="#ff0000"/><stop offset="0.996" stop-color="#ff0000"/></linearGradient><linearGradient id="c109" gradientUnits="userSpaceOnUse" x1="1486" y1="0" x2="2004" y2="0"><stop offset="0.000" stop-color="#00ffdd"/><stop offset="0.133" stop-color="#00ffd7"/><stop offset="0.145" stop-color="#36ffd7"/><stop offset="0.168" stop-color="#6affd5"/><stop offset="0.232" stop-color="#b7ffd1"/><stop offset="0.319" stop-color="#fffcc8"/><stop offset="0.434" stop-color="#ffba89"/><stop offset="0.678" stop-color="#ff6b23"/><stop offset="0.718" stop-color="#ff6100"/><stop offset="0.932" stop-color="#ff1f00"/><stop offset="0.979" stop-color="#ff0000"/><stop offset="0.996" stop-color="#ff0000"/></linearGradient><linearGradient id="c110" gradientUnits="userSpaceOnUse" x1="1486" y1="0" x2="2004" y2="0"><stop offset="0.000" stop-color="#00ffdf"/><stop offset="0.133" stop-color="#00ffda"/><stop offset="0.139" stop-color="#24ffd9"/><stop offset="0.151" stop-color="#4bffd9"/><stop offset="0.185" stop-color="#86ffd7"/><stop offset="0.278" stop-color="#e3ffd1"/><stop offset="0.319" stop-color="#fff9c9"/><stop offset="0.434" stop-color="#ffb88a"/><stop offset="0.683" stop-color="#ff6824"/><stop offset="0.724" stop-color="#ff5d00"/><stop offset="0.927" stop-color="#ff1d00"/><stop offset="0.967" stop-color="#ff0000"/><stop offset="0.996" stop-color="#ff0000"/></linearGradient><linearGradient id="c111" gradientUnits="userSpaceOnUse" x1="1486" y1="0" x2="2004" y2="0"><stop offset="0.000" stop-color="#00ffe1"/><stop offset="0.133" stop-color="#00ffdc"/><stop offset="0.139" stop-color="#2cffdc"/><stop offset="0.156" stop-color="#5cffdb"/><stop offset="0.203" stop-color="#9effd9"/><stop offset="0.307" stop-color="#feffd2"/><stop offset="0.423" stop-color="#ffbb90"/><stop offset="0.654" stop-color="#ff6e36"/><stop offset="0.712" stop-color="#ff5e13"/><stop offset="0.730" stop-color="#ff5a00"/><stop offset="0.915" stop-color="#ff1e00"/><stop offset="0.961" stop-color="#ff0000"/><stop offset="0.996" stop-color="#ff0000"/></linearGradient><linearGradient id="c112" gradientUnits="userSpaceOnUse" x1="1486" y1="0" x2="2004" y2="0"><stop offset="0.000" stop-color="#00ffe3"/><stop offset="0.127" stop-color="#00ffdf"/><stop offset="0.145" stop-color="#45ffde"/><stop offset="0.174" stop-color="#7cffdd"/><stop offset="0.249" stop-color="#cfffd9"/><stop offset="0.307" stop-color="#fffdd3"/><stop offset="0.417" stop-color="#ffbb94"/><stop offset="0.649" stop-color="#ff6d3b"/><stop offset="0.718" stop-color="#ff5a14"/><stop offset="0.741" stop-color="#ff5400"/><stop offset="0.909" stop-color="#ff1c00"/><stop offset="0.950" stop-color="#ff0000"/><stop offset="0.996" stop-color="#ff0000"/></linearGradient><linearGradient id="c113" gradientUnits="userSpaceOnUse" x1="1486" y1="0" x2="2004" y2="0"><stop offset="0.000" stop-color="#00ffe6"/><stop offset="0.127" stop-color="#00ffe1"/><stop offset="0.139" stop-color="#39ffe1"/><stop offset="0.162" stop-color="#6dffe0"/><stop offset="0.226" stop-color="#bcffdd"/><stop offset="0.301" stop-color="#ffffd8"/><stop offset="0.411" stop-color="#ffbc98"/><stop offset="0.637" stop-color="#ff6e42"/><stop offset="0.724" stop-color="#ff5715"/><stop offset="0.741" stop-color="#ff5200"/><stop offset="0.898" stop-color="#ff1d00"/><stop offset="0.938" stop-color="#ff0000"/><stop offset="0.996" stop-color="#ff0000"/></linearGradient><linearGradient id="c114" gradientUnits="userSpaceOnUse" x1="1486" y1="0" x2="2004" y2="0"><stop offset="0.000" stop-color="#00ffe8"/><stop offset="0.127" stop-color="#00ffe4"/><stop offset="0.133" stop-color="#28ffe4"/><stop offset="0.145" stop-color="#4effe3"/><stop offset="0.180" stop-color="#8affe2"/><stop offset="0.272" stop-color="#e9ffdd"/><stop offset="0.301" stop-color="#fffcd9"/><stop offset="0.411" stop-color="#ffb999"/><stop offset="0.643" stop-color="#ff6b42"/><stop offset="0.730" stop-color="#ff5316"/><stop offset="0.753" stop-color="#ff4c00"/><stop offset="0.892" stop-color="#ff1a00"/><stop offset="0.927" stop-color="#ff0000"/><stop offset="0.996" stop-color="#ff0000"/></linearGradient><linearGradient id="c115" gradientUnits="userSpaceOnUse" x1="1486" y1="0" x2="2004" y2="0"><stop offset="0.000" stop-color="#00ffea"/><stop offset="0.122" stop-color="#00ffe7"/><stop offset="0.127" stop-color="#06ffe6"/><stop offset="0.133" stop-color="#30ffe6"/><stop offset="0.151" stop-color="#5fffe6"/><stop offset="0.197" stop-color="#a2ffe4"/><stop offset="0.295" stop-color="#fffede"/><stop offset="0.400" stop-color="#ffbda0"/><stop offset="0.614" stop-color="#ff714f"/><stop offset="0.730" stop-color="#ff501c"/><stop offset="0.759" stop-color="#ff4800"/><stop offset="0.886" stop-color="#ff1700"/><stop offset="0.915" stop-color="#ff0000"/><stop offset="0.996" stop-color="#ff0000"/></linearGradient><linearGradient id="c116" gradientUnits="userSpaceOnUse" x1="1486" y1="0" x2="2004" y2="0"><stop offset="0.000" stop-color="#00ffec"/><stop offset="0.122" stop-color="#00ffe9"/><stop offset="0.133" stop-color="#37ffe9"/><stop offset="0.156" stop-color="#6dffe8"/><stop offset="0.214" stop-color="#b8ffe6"/><stop offset="0.295" stop-color="#fffbdf"/><stop offset="0.405" stop-color="#ffb89e"/><stop offset="0.637" stop-color="#ff6849"/><stop offset="0.741" stop-color="#ff4b18"/><stop offset="0.770" stop-color="#ff4200"/><stop offset="0.880" stop-color="#ff1400"/><stop offset="0.903" stop-color="#ff0000"/><stop offset="0.996" stop-color="#ff0000"/></linearGradient><linearGradient id="c117" gradientUnits="userSpaceOnUse" x1="1486" y1="0" x2="2004" y2="0"><stop offset="0.000" stop-color="#00ffee"/><stop offset="0.122" stop-color="#00ffec"/><stop offset="0.127" stop-color="#24ffec"/><stop offset="0.139" stop-color="#4dffeb"/><stop offset="0.174" stop-color="#8bffea"/><stop offset="0.266" stop-color="#edffe7"/><stop offset="0.295" stop-color="#fff8df"/><stop offset="0.405" stop-color="#ffb59f"/><stop offset="0.643" stop-color="#ff6448"/><stop offset="0.747" stop-color="#ff4619"/><stop offset="0.770" stop-color="#ff3f00"/><stop offset="0.869" stop-color="#ff1500"/><stop offset="0.898" stop-color="#ff0000"/><stop offset="0.996" stop-color="#ff0000"/></linearGradient><linearGradient id="c118" gradientUnits="userSpaceOnUse" x1="1486" y1="0" x2="2004" y2="0"><stop offset="0.000" stop-color="#00fff1"/><stop offset="0.122" stop-color="#00ffee"/><stop offset="0.127" stop-color="#2dffee"/><stop offset="0.145" stop-color="#5fffee"/><stop offset="0.191" stop-color="#a4ffed"/><stop offset="0.284" stop-color="#fffee9"/><stop offset="0.388" stop-color="#ffbba8"/><stop offset="0.602" stop-color="#ff6e58"/><stop offset="0.747" stop-color="#ff441e"/><stop offset="0.782" stop-color="#ff3800"/><stop offset="0.863" stop-color="#ff1200"/><stop offset="0.886" stop-color="#ff0000"/><stop offset="0.996" stop-color="#ff0000"/></linearGradient><linearGradient id="c119" gradientUnits="userSpaceOnUse" x1="1486" y1="0" x2="2004" y2="0"><stop offset="0.000" stop-color="#00fff3"/><stop offset="0.116" stop-color="#00fff1"/><stop offset="0.122" stop-color="#10fff1"/><stop offset="0.127" stop-color="#34fff1"/><stop offset="0.145" stop-color="#63fff1"/><stop offset="0.191" stop-color="#a7fff0"/><stop offset="0.284" stop-color="#fffbea"/><stop offset="0.388" stop-color="#ffb9a9"/><stop offset="0.608" stop-color="#ff6a58"/><stop offset="0.753" stop-color="#ff3f1f"/><stop offset="0.788" stop-color="#ff3300"/><stop offset="0.857" stop-color="#ff0d00"/><stop offset="0.875" stop-color="#ff0000"/><stop offset="0.996" stop-color="#ff0000"/></linearGradient><linearGradient id="c120" gradientUnits="userSpaceOnUse" x1="1486" y1="0" x2="2004" y2="0"><stop offset="0.000" stop-color="#00fff5"/><stop offset="0.116" stop-color="#00fff4"/><stop offset="0.127" stop-color="#3afff4"/><stop offset="0.151" stop-color="#71fff3"/><stop offset="0.208" stop-color="#bdfff2"/><stop offset="0.278" stop-color="#fffdef"/><stop offset="0.376" stop-color="#ffbcb0"/><stop offset="0.579" stop-color="#ff7163"/><stop offset="0.759" stop-color="#ff3a1f"/><stop offset="0.799" stop-color="#ff2a00"/><stop offset="0.863" stop-color="#ff0000"/><stop offset="0.996" stop-color="#ff0000"/></linearGradient><linearGradient id="c121" gradientUnits="userSpaceOnUse" x1="1486" y1="0" x2="2004" y2="0"><stop offset="0.000" stop-color="#00fff8"/><stop offset="0.116" stop-color="#00fff6"/><stop offset="0.122" stop-color="#29fff6"/><stop offset="0.133" stop-color="#51fff6"/><stop offset="0.168" stop-color="#8ffff6"/><stop offset="0.261" stop-color="#f4fff5"/><stop offset="0.278" stop-color="#fffaf0"/><stop offset="0.382" stop-color="#ffb7ae"/><stop offset="0.602" stop-color="#ff675d"/><stop offset="0.764" stop-color="#ff3420"/><stop offset="0.805" stop-color="#ff2300"/><stop offset="0.851" stop-color="#ff0000"/><stop offset="0.996" stop-color="#ff0000"/></linearGradient><linearGradient id="c122" gradientUnits="userSpaceOnUse" x1="1486" y1="0" x2="2004" y2="0"><stop offset="0.000" stop-color="#00fffa"/><stop offset="0.116" stop-color="#02fff9"/><stop offset="0.122" stop-color="#31fff9"/><stop offset="0.139" stop-color="#62fff9"/><stop offset="0.185" stop-color="#a9fff9"/><stop offset="0.272" stop-color="#fffcf5"/><stop offset="0.371" stop-color="#ffbbb4"/><stop offset="0.573" stop-color="#ff6e67"/><stop offset="0.770" stop-color="#ff2e20"/><stop offset="0.811" stop-color="#ff1a00"/><stop offset="0.846" stop-color="#ff0000"/><stop offset="0.996" stop-color="#ff0000"/></linearGradient><linearGradient id="c123" gradientUnits="userSpaceOnUse" x1="1486" y1="0" x2="2004" y2="0"><stop offset="0.000" stop-color="#00fffc"/><stop offset="0.110" stop-color="#00fffc"/><stop offset="0.122" stop-color="#38fffc"/><stop offset="0.139" stop-color="#66fffc"/><stop offset="0.185" stop-color="#acfffc"/><stop offset="0.266" stop-color="#fffefb"/><stop offset="0.365" stop-color="#ffbbb8"/><stop offset="0.568" stop-color="#ff6d6a"/><stop offset="0.776" stop-color="#ff2721"/><stop offset="0.822" stop-color="#ff0500"/><stop offset="0.996" stop-color="#ff0000"/></linearGradient><linearGradient id="c124" gradientUnits="userSpaceOnUse" x1="1486" y1="0" x2="2004" y2="0"><stop offset="0.000" stop-color="#00ffff"/><stop offset="0.110" stop-color="#00ffff"/><stop offset="0.122" stop-color="#3effff"/><stop offset="0.145" stop-color="#75ffff"/><stop offset="0.203" stop-color="#c3ffff"/><stop offset="0.266" stop-color="#fffbfb"/><stop offset="0.365" stop-color="#ffb9b9"/><stop offset="0.568" stop-color="#ff6b6c"/><stop offset="0.776" stop-color="#ff2225"/><stop offset="0.822" stop-color="#ff0000"/><stop offset="0.996" stop-color="#ff0000"/></linearGradient><linearGradient id="c125" gradientUnits="userSpaceOnUse" x1="1486" y1="0" x2="2004" y2="0"><stop offset="0.000" stop-color="#00fdff"/><stop offset="0.110" stop-color="#00fcff"/><stop offset="0.116" stop-color="#2dfcff"/><stop offset="0.127" stop-color="#54fcff"/><stop offset="0.162" stop-color="#92fcff"/><stop offset="0.255" stop-color="#f8fbff"/><stop offset="0.290" stop-color="#ffe5e8"/><stop offset="0.411" stop-color="#ffa1a4"/><stop offset="0.770" stop-color="#ff202a"/><stop offset="0.811" stop-color="#ff0013"/><stop offset="0.834" stop-color="#ff0000"/><stop offset="0.996" stop-color="#ff0000"/></linearGradient><linearGradient id="c126" gradientUnits="userSpaceOnUse" x1="1486" y1="0" x2="2004" y2="0"><stop offset="0.000" stop-color="#00faff"/><stop offset="0.104" stop-color="#00faff"/><stop offset="0.110" stop-color="#0dfaff"/><stop offset="0.116" stop-color="#34faff"/><stop offset="0.133" stop-color="#64f9ff"/><stop offset="0.180" stop-color="#aaf9ff"/><stop offset="0.266" stop-color="#fff4fc"/><stop offset="0.365" stop-color="#ffb4ba"/><stop offset="0.573" stop-color="#ff656c"/><stop offset="0.759" stop-color="#ff2132"/><stop offset="0.799" stop-color="#ff0020"/><stop offset="0.840" stop-color="#ff0000"/><stop offset="0.996" stop-color="#ff0000"/></linearGradient><linearGradient id="c127" gradientUnits="userSpaceOnUse" x1="1486" y1="0" x2="2004" y2="0"><stop offset="0.000" stop-color="#00f8ff"/><stop offset="0.104" stop-color="#00f7ff"/><stop offset="0.116" stop-color="#3af7ff"/><stop offset="0.139" stop-color="#71f6ff"/><stop offset="0.197" stop-color="#bef6ff"/><stop offset="0.266" stop-color="#fff1fc"/><stop offset="0.365" stop-color="#ffb1bb"/><stop offset="0.573" stop-color="#ff626e"/><stop offset="0.753" stop-color="#ff1e36"/><stop offset="0.788" stop-color="#ff0029"/><stop offset="0.851" stop-color="#ff0000"/><stop offset="0.996" stop-color="#ff0000"/></linearGradient><linearGradient id="c128" gradientUnits="userSpaceOnUse" x1="1486" y1="0" x2="2004" y2="0"><stop offset="0.000" stop-color="#00f6ff"/><stop offset="0.104" stop-color="#00f4ff"/><stop offset="0.110" stop-color="#27f4ff"/><stop offset="0.122" stop-color="#50f4ff"/><stop offset="0.156" stop-color="#8ef3ff"/><stop offset="0.249" stop-color="#f2f1ff"/><stop offset="0.272" stop-color="#ffe9f7"/><stop offset="0.376" stop-color="#ffa9b6"/><stop offset="0.602" stop-color="#ff5666"/><stop offset="0.747" stop-color="#ff1b3b"/><stop offset="0.782" stop-color="#ff002e"/><stop offset="0.840" stop-color="#ff000c"/><stop offset="0.857" stop-color="#ff0000"/><stop offset="0.996" stop-color="#ff0000"/></linearGradient><linearGradient id="c129" gradientUnits="userSpaceOnUse" x1="1486" y1="0" x2="2004" y2="0"><stop offset="0.000" stop-color="#00f3ff"/><stop offset="0.104" stop-color="#00f1ff"/><stop offset="0.110" stop-color="#2ff1ff"/><stop offset="0.127" stop-color="#60f1ff"/><stop offset="0.174" stop-color="#a5f0ff"/><stop offset="0.266" stop-color="#ffebfc"/><stop offset="0.371" stop-color="#ffa9ba"/><stop offset="0.585" stop-color="#ff596d"/><stop offset="0.736" stop-color="#ff1c40"/><stop offset="0.770" stop-color="#ff0035"/><stop offset="0.846" stop-color="#ff000e"/><stop offset="0.863" stop-color="#ff0000"/><stop offset="0.996" stop-color="#ff0000"/></linearGradient><linearGradient id="c130" gradientUnits="userSpaceOnUse" x1="1486" y1="0" x2="2004" y2="0"><stop offset="0.000" stop-color="#00f1ff"/><stop offset="0.098" stop-color="#00efff"/><stop offset="0.104" stop-color="#14efff"/><stop offset="0.110" stop-color="#35efff"/><stop offset="0.127" stop-color="#63eeff"/><stop offset="0.174" stop-color="#a6edff"/><stop offset="0.266" stop-color="#ffe8fd"/><stop offset="0.371" stop-color="#ffa7bb"/><stop offset="0.585" stop-color="#ff566e"/><stop offset="0.724" stop-color="#ff1d46"/><stop offset="0.759" stop-color="#ff003b"/><stop offset="0.846" stop-color="#ff0014"/><stop offset="0.869" stop-color="#ff0000"/><stop offset="0.996" stop-color="#ff0000"/></linearGradient><linearGradient id="c131" gradientUnits="userSpaceOnUse" x1="1486" y1="0" x2="2004" y2="0"><stop offset="0.000" stop-color="#00eeff"/><stop offset="0.098" stop-color="#00ecff"/><stop offset="0.110" stop-color="#3becff"/><stop offset="0.133" stop-color="#70ebff"/><stop offset="0.197" stop-color="#c0e9ff"/><stop offset="0.266" stop-color="#ffe4fd"/><stop offset="0.371" stop-color="#ffa4bb"/><stop offset="0.585" stop-color="#ff546f"/><stop offset="0.718" stop-color="#ff1a49"/><stop offset="0.747" stop-color="#ff0040"/><stop offset="0.851" stop-color="#ff0015"/><stop offset="0.880" stop-color="#ff0000"/><stop offset="0.996" stop-color="#ff0000"/></linearGradient><linearGradient id="c132" gradientUnits="userSpaceOnUse" x1="1486" y1="0" x2="2004" y2="0"><stop offset="0.000" stop-color="#00ecff"/><stop offset="0.098" stop-color="#00e9ff"/><stop offset="0.104" stop-color="#29e9ff"/><stop offset="0.116" stop-color="#50e9ff"/><stop offset="0.151" stop-color="#8ce8ff"/><stop offset="0.243" stop-color="#ede4ff"/><stop offset="0.272" stop-color="#ffddf8"/><stop offset="0.382" stop-color="#ff9cb7"/><stop offset="0.620" stop-color="#ff4466"/><stop offset="0.712" stop-color="#ff174c"/><stop offset="0.736" stop-color="#ff0046"/><stop offset="0.857" stop-color="#ff0016"/><stop offset="0.886" stop-color="#ff0000"/><stop offset="0.996" stop-color="#ff0000"/></linearGradient><linearGradient id="c133" gradientUnits="userSpaceOnUse" x1="1486" y1="0" x2="2004" y2="0"><stop offset="0.000" stop-color="#00eaff"/><stop offset="0.093" stop-color="#00e7ff"/><stop offset="0.098" stop-color="#07e7ff"/><stop offset="0.104" stop-color="#30e7ff"/><stop offset="0.122" stop-color="#5fe6ff"/><stop offset="0.168" stop-color="#a2e4ff"/><stop offset="0.266" stop-color="#ffdefd"/><stop offset="0.371" stop-color="#ff9fbd"/><stop offset="0.585" stop-color="#ff4e71"/><stop offset="0.701" stop-color="#ff1851"/><stop offset="0.724" stop-color="#ff004b"/><stop offset="0.863" stop-color="#ff0017"/><stop offset="0.892" stop-color="#ff0000"/><stop offset="0.996" stop-color="#ff0000"/></linearGradient><linearGradient id="c134" gradientUnits="userSpaceOnUse" x1="1486" y1="0" x2="2004" y2="0"><stop offset="0.000" stop-color="#00e7ff"/><stop offset="0.093" stop-color="#00e4ff"/><stop offset="0.104" stop-color="#36e4ff"/><stop offset="0.127" stop-color="#6ce3ff"/><stop offset="0.185" stop-color="#b6e0ff"/><stop offset="0.266" stop-color="#ffdbfe"/><stop offset="0.376" stop-color="#ff9abb"/><stop offset="0.602" stop-color="#ff446e"/><stop offset="0.695" stop-color="#ff1454"/><stop offset="0.712" stop-color="#ff004f"/><stop offset="0.863" stop-color="#ff001b"/><stop offset="0.898" stop-color="#ff0000"/><stop offset="0.996" stop-color="#ff0000"/></linearGradient><linearGradient id="c135" gradientUnits="userSpaceOnUse" x1="1486" y1="0" x2="2004" y2="0"><stop offset="0.000" stop-color="#00e5ff"/><stop offset="0.093" stop-color="#00e2ff"/><stop offset="0.098" stop-color="#23e1ff"/><stop offset="0.110" stop-color="#4ce1ff"/><stop offset="0.145" stop-color="#88dfff"/><stop offset="0.237" stop-color="#e7daff"/><stop offset="0.272" stop-color="#ffd3f9"/><stop offset="0.388" stop-color="#ff92b6"/><stop offset="0.631" stop-color="#ff3467"/><stop offset="0.689" stop-color="#ff0f57"/><stop offset="0.701" stop-color="#ff0054"/><stop offset="0.869" stop-color="#ff001c"/><stop offset="0.909" stop-color="#ff0000"/><stop offset="0.996" stop-color="#ff0000"/></linearGradient><linearGradient id="c136" gradientUnits="userSpaceOnUse" x1="1486" y1="0" x2="2004" y2="0"><stop offset="0.000" stop-color="#00e3ff"/><stop offset="0.093" stop-color="#00dfff"/><stop offset="0.098" stop-color="#2bdfff"/><stop offset="0.116" stop-color="#5cdeff"/><stop offset="0.162" stop-color="#9fdcff"/><stop offset="0.266" stop-color="#ffd4fe"/><stop offset="0.376" stop-color="#ff95bc"/><stop offset="0.602" stop-color="#ff3d70"/><stop offset="0.678" stop-color="#ff115c"/><stop offset="0.695" stop-color="#ff0057"/><stop offset="0.875" stop-color="#ff001c"/><stop offset="0.915" stop-color="#ff0000"/><stop offset="0.996" stop-color="#ff0000"/></linearGradient><linearGradient id="c137" gradientUnits="userSpaceOnUse" x1="1486" y1="0" x2="2004" y2="0"><stop offset="0.000" stop-color="#00e0ff"/><stop offset="0.087" stop-color="#00ddff"/><stop offset="0.093" stop-color="#0fdcff"/><stop offset="0.098" stop-color="#32dcff"/><stop offset="0.116" stop-color="#5fdbff"/><stop offset="0.168" stop-color="#a6d8ff"/><stop offset="0.266" stop-color="#ffd1fe"/><stop offset="0.376" stop-color="#ff92bd"/><stop offset="0.602" stop-color="#ff3971"/><stop offset="0.666" stop-color="#ff1260"/><stop offset="0.683" stop-color="#ff005b"/><stop offset="0.880" stop-color="#ff001d"/><stop offset="0.921" stop-color="#ff0000"/><stop offset="0.996" stop-color="#ff0000"/></linearGradient><linearGradient id="c138" gradientUnits="userSpaceOnUse" x1="1486" y1="0" x2="2004" y2="0"><stop offset="0.000" stop-color="#00deff"/><stop offset="0.087" stop-color="#00daff"/><stop offset="0.098" stop-color="#37d9ff"/><stop offset="0.122" stop-color="#6bd8ff"/><stop offset="0.185" stop-color="#b9d4ff"/><stop offset="0.266" stop-color="#ffceff"/><stop offset="0.376" stop-color="#ff8fbd"/><stop offset="0.602" stop-color="#ff3472"/><stop offset="0.660" stop-color="#ff0d63"/><stop offset="0.678" stop-color="#ff005e"/><stop offset="0.886" stop-color="#ff001d"/><stop offset="0.932" stop-color="#ff0000"/><stop offset="0.996" stop-color="#ff0000"/></linearGradient><linearGradient id="c139" gradientUnits="userSpaceOnUse" x1="1486" y1="0" x2="2004" y2="0"><stop offset="0.000" stop-color="#00dcff"/><stop offset="0.087" stop-color="#00d8ff"/><stop offset="0.093" stop-color="#26d7ff"/><stop offset="0.104" stop-color="#4cd7ff"/><stop offset="0.139" stop-color="#86d4ff"/><stop offset="0.232" stop-color="#e3ceff"/><stop offset="0.272" stop-color="#ffc6fa"/><stop offset="0.388" stop-color="#ff87b9"/><stop offset="0.625" stop-color="#ff226d"/><stop offset="0.666" stop-color="#ff0062"/><stop offset="0.886" stop-color="#ff0021"/><stop offset="0.938" stop-color="#ff0000"/><stop offset="0.996" stop-color="#ff0000"/></linearGradient><linearGradient id="c140" gradientUnits="userSpaceOnUse" x1="1486" y1="0" x2="2004" y2="0"><stop offset="0.000" stop-color="#00d9ff"/><stop offset="0.087" stop-color="#02d5ff"/><stop offset="0.093" stop-color="#2dd5ff"/><stop offset="0.110" stop-color="#5bd4ff"/><stop offset="0.156" stop-color="#9cd0ff"/><stop offset="0.266" stop-color="#ffc7ff"/><stop offset="0.382" stop-color="#ff87bc"/><stop offset="0.614" stop-color="#ff2471"/><stop offset="0.649" stop-color="#ff0068"/><stop offset="0.892" stop-color="#ff0021"/><stop offset="0.944" stop-color="#ff0000"/><stop offset="0.996" stop-color="#ff0000"/></linearGradient><linearGradient id="c141" gradientUnits="userSpaceOnUse" x1="1486" y1="0" x2="2004" y2="0"><stop offset="0.000" stop-color="#00d7ff"/><stop offset="0.081" stop-color="#00d3ff"/><stop offset="0.093" stop-color="#33d2ff"/><stop offset="0.116" stop-color="#68d0ff"/><stop offset="0.174" stop-color="#afccff"/><stop offset="0.272" stop-color="#ffc0fb"/><stop offset="0.394" stop-color="#ff7fb8"/><stop offset="0.602" stop-color="#ff2575"/><stop offset="0.631" stop-color="#ff096d"/><stop offset="0.643" stop-color="#ff006a"/><stop offset="0.898" stop-color="#ff0022"/><stop offset="0.950" stop-color="#ff0000"/><stop offset="0.996" stop-color="#ff0000"/></linearGradient><linearGradient id="c142" gradientUnits="userSpaceOnUse" x1="1486" y1="0" x2="2004" y2="0"><stop offset="0.000" stop-color="#00d5ff"/><stop offset="0.081" stop-color="#00d0ff"/><stop offset="0.093" stop-color="#38cfff"/><stop offset="0.116" stop-color="#6aceff"/><stop offset="0.180" stop-color="#b5c9ff"/><stop offset="0.272" stop-color="#ffbdfb"/><stop offset="0.394" stop-color="#ff7cb8"/><stop offset="0.597" stop-color="#ff2277"/><stop offset="0.631" stop-color="#ff006e"/><stop offset="0.903" stop-color="#ff0022"/><stop offset="0.961" stop-color="#ff0000"/><stop offset="0.996" stop-color="#ff0000"/></linearGradient><linearGradient id="c143" gradientUnits="userSpaceOnUse" x1="1486" y1="0" x2="2004" y2="0"><stop offset="0.000" stop-color="#00d2ff"/><stop offset="0.081" stop-color="#00ceff"/><stop offset="0.087" stop-color="#28cdff"/><stop offset="0.104" stop-color="#58ccff"/><stop offset="0.151" stop-color="#99c8ff"/><stop offset="0.266" stop-color="#febdff"/><stop offset="0.388" stop-color="#ff7cbc"/><stop offset="0.585" stop-color="#ff237b"/><stop offset="0.620" stop-color="#ff0072"/><stop offset="0.909" stop-color="#ff0022"/><stop offset="0.967" stop-color="#ff0000"/><stop offset="0.996" stop-color="#ff0000"/></linearGradient><linearGradient id="c144" gradientUnits="userSpaceOnUse" x1="1486" y1="0" x2="2004" y2="0"><stop offset="0.000" stop-color="#00d0ff"/><stop offset="0.075" stop-color="#00cbff"/><stop offset="0.081" stop-color="#0bcbff"/><stop offset="0.087" stop-color="#2fcbff"/><stop offset="0.104" stop-color="#5bc9ff"/><stop offset="0.156" stop-color="#a0c5ff"/><stop offset="0.266" stop-color="#febaff"/><stop offset="0.394" stop-color="#ff76ba"/><stop offset="0.573" stop-color="#ff247f"/><stop offset="0.608" stop-color="#ff0076"/><stop offset="0.915" stop-color="#ff0023"/><stop offset="0.973" stop-color="#ff0000"/><stop offset="0.996" stop-color="#ff0000"/></linearGradient><linearGradient id="c145" gradientUnits="userSpaceOnUse" x1="1486" y1="0" x2="2004" y2="0"><stop offset="0.000" stop-color="#00ceff"/><stop offset="0.075" stop-color="#00c9ff"/><stop offset="0.087" stop-color="#34c8ff"/><stop offset="0.110" stop-color="#67c6ff"/><stop offset="0.174" stop-color="#b2c1ff"/><stop offset="0.272" stop-color="#ffb3fc"/><stop offset="0.394" stop-color="#ff73ba"/><stop offset="0.562" stop-color="#ff2583"/><stop offset="0.597" stop-color="#ff007a"/><stop offset="0.921" stop-color="#ff0023"/><stop offset="0.979" stop-color="#ff0000"/><stop offset="0.996" stop-color="#ff0000"/></linearGradient><linearGradient id="c146" gradientUnits="userSpaceOnUse" x1="1486" y1="0" x2="2004" y2="0"><stop offset="0.000" stop-color="#00ccff"/><stop offset="0.075" stop-color="#00c6ff"/><stop offset="0.081" stop-color="#23c6ff"/><stop offset="0.093" stop-color="#48c5ff"/><stop offset="0.127" stop-color="#81c2ff"/><stop offset="0.220" stop-color="#dab9ff"/><stop offset="0.272" stop-color="#ffb0fc"/><stop offset="0.394" stop-color="#ff70bb"/><stop offset="0.556" stop-color="#ff2286"/><stop offset="0.585" stop-color="#ff007e"/><stop offset="0.927" stop-color="#ff0024"/><stop offset="0.990" stop-color="#ff0000"/><stop offset="0.996" stop-color="#ff0000"/></linearGradient><linearGradient id="c147" gradientUnits="userSpaceOnUse" x1="1486" y1="0" x2="2004" y2="0"><stop offset="0.000" stop-color="#00c9ff"/><stop offset="0.075" stop-color="#00c4ff"/><stop offset="0.081" stop-color="#2ac3ff"/><stop offset="0.098" stop-color="#57c2ff"/><stop offset="0.145" stop-color="#96beff"/><stop offset="0.266" stop-color="#feafff"/><stop offset="0.400" stop-color="#ff6ab9"/><stop offset="0.544" stop-color="#ff238a"/><stop offset="0.573" stop-color="#ff0182"/><stop offset="0.938" stop-color="#ff0022"/><stop offset="0.996" stop-color="#ff0000"/></linearGradient><linearGradient id="c148" gradientUnits="userSpaceOnUse" x1="1486" y1="0" x2="2004" y2="0"><stop offset="0.000" stop-color="#00c7ff"/><stop offset="0.069" stop-color="#00c2ff"/><stop offset="0.087" stop-color="#41c0ff"/><stop offset="0.122" stop-color="#7dbdff"/><stop offset="0.208" stop-color="#d1b4ff"/><stop offset="0.272" stop-color="#ffa9fc"/><stop offset="0.400" stop-color="#ff67ba"/><stop offset="0.539" stop-color="#ff208c"/><stop offset="0.568" stop-color="#ff0084"/><stop offset="0.944" stop-color="#ff0022"/><stop offset="0.996" stop-color="#ff0000"/></linearGradient><linearGradient id="c149" gradientUnits="userSpaceOnUse" x1="1486" y1="0" x2="2004" y2="0"><stop offset="0.000" stop-color="#00c5ff"/><stop offset="0.069" stop-color="#00bfff"/><stop offset="0.081" stop-color="#35beff"/><stop offset="0.104" stop-color="#66bcff"/><stop offset="0.168" stop-color="#afb5ff"/><stop offset="0.272" stop-color="#ffa6fd"/><stop offset="0.400" stop-color="#ff64bb"/><stop offset="0.527" stop-color="#ff2190"/><stop offset="0.556" stop-color="#ff0088"/><stop offset="0.950" stop-color="#ff0023"/><stop offset="0.996" stop-color="#ff0007"/></linearGradient><linearGradient id="c150" gradientUnits="userSpaceOnUse" x1="1486" y1="0" x2="2004" y2="0"><stop offset="0.000" stop-color="#00c2ff"/><stop offset="0.069" stop-color="#00bdff"/><stop offset="0.075" stop-color="#25bcff"/><stop offset="0.093" stop-color="#54bbff"/><stop offset="0.139" stop-color="#93b6ff"/><stop offset="0.261" stop-color="#f9a5ff"/><stop offset="0.319" stop-color="#ff87e0"/><stop offset="0.486" stop-color="#ff359d"/><stop offset="0.533" stop-color="#ff1190"/><stop offset="0.544" stop-color="#ff008c"/><stop offset="0.956" stop-color="#ff0023"/><stop offset="0.996" stop-color="#ff000e"/></linearGradient><linearGradient id="c151" gradientUnits="userSpaceOnUse" x1="1486" y1="0" x2="2004" y2="0"><stop offset="0.000" stop-color="#00c0ff"/><stop offset="0.064" stop-color="#00bbff"/><stop offset="0.069" stop-color="#06baff"/><stop offset="0.075" stop-color="#2cbaff"/><stop offset="0.093" stop-color="#57b8ff"/><stop offset="0.145" stop-color="#9ab2ff"/><stop offset="0.266" stop-color="#fda1ff"/><stop offset="0.411" stop-color="#ff57b7"/><stop offset="0.510" stop-color="#ff1f97"/><stop offset="0.533" stop-color="#ff0090"/><stop offset="0.967" stop-color="#ff0021"/><stop offset="0.996" stop-color="#ff0013"/></linearGradient><linearGradient id="c152" gradientUnits="userSpaceOnUse" x1="1486" y1="0" x2="2004" y2="0"><stop offset="0.000" stop-color="#00bfff"/><stop offset="0.064" stop-color="#00b9ff"/><stop offset="0.069" stop-color="#10b9ff"/><stop offset="0.075" stop-color="#2fb8ff"/><stop offset="0.098" stop-color="#62b6ff"/><stop offset="0.162" stop-color="#abafff"/><stop offset="0.272" stop-color="#ff9dfd"/><stop offset="0.400" stop-color="#ff5bbc"/><stop offset="0.504" stop-color="#ff1f99"/><stop offset="0.527" stop-color="#ff0092"/><stop offset="0.967" stop-color="#ff0022"/><stop offset="0.996" stop-color="#ff0015"/></linearGradient><linearGradient id="c153" gradientUnits="userSpaceOnUse" x1="1486" y1="0" x2="2004" y2="0"><stop offset="0.000" stop-color="#00bfff"/><stop offset="0.064" stop-color="#00b9ff"/><stop offset="0.069" stop-color="#10b9ff"/><stop offset="0.075" stop-color="#2fb8ff"/><stop offset="0.098" stop-color="#62b6ff"/><stop offset="0.162" stop-color="#abafff"/><stop offset="0.272" stop-color="#ff9dfd"/><stop offset="0.400" stop-color="#ff5bbc"/><stop offset="0.504" stop-color="#ff1f99"/><stop offset="0.527" stop-color="#ff0092"/><stop offset="0.967" stop-color="#ff0022"/><stop offset="0.996" stop-color="#ff0015"/></linearGradient><linearGradient id="c154" gradientUnits="userSpaceOnUse" x1="1486" y1="0" x2="2004" y2="0"><stop offset="0.000" stop-color="#00bfff"/><stop offset="0.064" stop-color="#00b9ff"/><stop offset="0.069" stop-color="#10b9ff"/><stop offset="0.075" stop-color="#2fb8ff"/><stop offset="0.098" stop-color="#62b6ff"/><stop offset="0.162" stop-color="#abafff"/><stop offset="0.272" stop-color="#ff9dfd"/><stop offset="0.400" stop-color="#ff5bbc"/><stop offset="0.504" stop-color="#ff1f99"/><stop offset="0.527" stop-color="#ff0092"/><stop offset="0.967" stop-color="#ff0022"/><stop offset="0.996" stop-color="#ff0015"/></linearGradient><linearGradient id="c155" gradientUnits="userSpaceOnUse" x1="1486" y1="0" x2="2004" y2="0"><stop offset="0.000" stop-color="#00bfff"/><stop offset="0.064" stop-color="#00b9ff"/><stop offset="0.069" stop-color="#10b9ff"/><stop offset="0.075" stop-color="#2fb8ff"/><stop offset="0.098" stop-color="#62b6ff"/><stop offset="0.162" stop-color="#abafff"/><stop offset="0.272" stop-color="#ff9dfd"/><stop offset="0.400" stop-color="#ff5bbc"/><stop offset="0.504" stop-color="#ff1f99"/><stop offset="0.527" stop-color="#ff0092"/><stop offset="0.967" stop-color="#ff0022"/><stop offset="0.996" stop-color="#ff0015"/></linearGradient></defs>
<g clip-path="url(#cclip)"><g filter="url(#cblur)"><rect x="1486" y="26" width="518" height="3.6" fill="url(#c0)"/><rect x="1486" y="29" width="518" height="3.6" fill="url(#c1)"/><rect x="1486" y="32" width="518" height="3.6" fill="url(#c2)"/><rect x="1486" y="35" width="518" height="3.6" fill="url(#c3)"/><rect x="1486" y="38" width="518" height="3.6" fill="url(#c4)"/><rect x="1486" y="41" width="518" height="3.6" fill="url(#c5)"/><rect x="1486" y="44" width="518" height="3.6" fill="url(#c6)"/><rect x="1486" y="47" width="518" height="3.6" fill="url(#c7)"/><rect x="1486" y="50" width="518" height="3.6" fill="url(#c8)"/><rect x="1486" y="53" width="518" height="3.6" fill="url(#c9)"/><rect x="1486" y="56" width="518" height="3.6" fill="url(#c10)"/><rect x="1486" y="59" width="518" height="3.6" fill="url(#c11)"/><rect x="1486" y="62" width="518" height="3.6" fill="url(#c12)"/><rect x="1486" y="65" width="518" height="3.6" fill="url(#c13)"/><rect x="1486" y="68" width="518" height="3.6" fill="url(#c14)"/><rect x="1486" y="71" width="518" height="3.6" fill="url(#c15)"/><rect x="1486" y="74" width="518" height="3.6" fill="url(#c16)"/><rect x="1486" y="77" width="518" height="3.6" fill="url(#c17)"/><rect x="1486" y="80" width="518" height="3.6" fill="url(#c18)"/><rect x="1486" y="83" width="518" height="3.6" fill="url(#c19)"/><rect x="1486" y="86" width="518" height="3.6" fill="url(#c20)"/><rect x="1486" y="89" width="518" height="3.6" fill="url(#c21)"/><rect x="1486" y="92" width="518" height="3.6" fill="url(#c22)"/><rect x="1486" y="95" width="518" height="3.6" fill="url(#c23)"/><rect x="1486" y="98" width="518" height="3.6" fill="url(#c24)"/><rect x="1486" y="101" width="518" height="3.6" fill="url(#c25)"/><rect x="1486" y="104" width="518" height="3.6" fill="url(#c26)"/><rect x="1486" y="107" width="518" height="3.6" fill="url(#c27)"/><rect x="1486" y="110" width="518" height="3.6" fill="url(#c28)"/><rect x="1486" y="113" width="518" height="3.6" fill="url(#c29)"/><rect x="1486" y="116" width="518" height="3.6" fill="url(#c30)"/><rect x="1486" y="119" width="518" height="3.6" fill="url(#c31)"/><rect x="1486" y="122" width="518" height="3.6" fill="url(#c32)"/><rect x="1486" y="125" width="518" height="3.6" fill="url(#c33)"/><rect x="1486" y="128" width="518" height="3.6" fill="url(#c34)"/><rect x="1486" y="131" width="518" height="3.6" fill="url(#c35)"/><rect x="1486" y="134" width="518" height="3.6" fill="url(#c36)"/><rect x="1486" y="137" width="518" height="3.6" fill="url(#c37)"/><rect x="1486" y="140" width="518" height="3.6" fill="url(#c38)"/><rect x="1486" y="143" width="518" height="3.6" fill="url(#c39)"/><rect x="1486" y="146" width="518" height="3.6" fill="url(#c40)"/><rect x="1486" y="149" width="518" height="3.6" fill="url(#c41)"/><rect x="1486" y="152" width="518" height="3.6" fill="url(#c42)"/><rect x="1486" y="155" width="518" height="3.6" fill="url(#c43)"/><rect x="1486" y="158" width="518" height="3.6" fill="url(#c44)"/><rect x="1486" y="161" width="518" height="3.6" fill="url(#c45)"/><rect x="1486" y="164" width="518" height="3.6" fill="url(#c46)"/><rect x="1486" y="167" width="518" height="3.6" fill="url(#c47)"/><rect x="1486" y="170" width="518" height="3.6" fill="url(#c48)"/><rect x="1486" y="173" width="518" height="3.6" fill="url(#c49)"/><rect x="1486" y="176" width="518" height="3.6" fill="url(#c50)"/><rect x="1486" y="179" width="518" height="3.6" fill="url(#c51)"/><rect x="1486" y="182" width="518" height="3.6" fill="url(#c52)"/><rect x="1486" y="185" width="518" height="3.6" fill="url(#c53)"/><rect x="1486" y="188" width="518" height="3.6" fill="url(#c54)"/><rect x="1486" y="191" width="518" height="3.6" fill="url(#c55)"/><rect x="1486" y="194" width="518" height="3.6" fill="url(#c56)"/><rect x="1486" y="197" width="518" height="3.6" fill="url(#c57)"/><rect x="1486" y="200" width="518" height="3.6" fill="url(#c58)"/><rect x="1486" y="203" width="518" height="3.6" fill="url(#c59)"/><rect x="1486" y="206" width="518" height="3.6" fill="url(#c60)"/><rect x="1486" y="209" width="518" height="3.6" fill="url(#c61)"/><rect x="1486" y="212" width="518" height="3.6" fill="url(#c62)"/><rect x="1486" y="215" width="518" height="3.6" fill="url(#c63)"/><rect x="1486" y="218" width="518" height="3.6" fill="url(#c64)"/><rect x="1486" y="221" width="518" height="3.6" fill="url(#c65)"/><rect x="1486" y="224" width="518" height="3.6" fill="url(#c66)"/><rect x="1486" y="227" width="518" height="3.6" fill="url(#c67)"/><rect x="1486" y="230" width="518" height="3.6" fill="url(#c68)"/><rect x="1486" y="233" width="518" height="3.6" fill="url(#c69)"/><rect x="1486" y="236" width="518" height="3.6" fill="url(#c70)"/><rect x="1486" y="239" width="518" height="3.6" fill="url(#c71)"/><rect x="1486" y="242" width="518" height="3.6" fill="url(#c72)"/><rect x="1486" y="245" width="518" height="3.6" fill="url(#c73)"/><rect x="1486" y="248" width="518" height="3.6" fill="url(#c74)"/><rect x="1486" y="251" width="518" height="3.6" fill="url(#c75)"/><rect x="1486" y="254" width="518" height="3.6" fill="url(#c76)"/><rect x="1486" y="257" width="518" height="3.6" fill="url(#c77)"/><rect x="1486" y="260" width="518" height="3.6" fill="url(#c78)"/><rect x="1486" y="263" width="518" height="3.6" fill="url(#c79)"/><rect x="1486" y="266" width="518" height="3.6" fill="url(#c80)"/><rect x="1486" y="269" width="518" height="3.6" fill="url(#c81)"/><rect x="1486" y="272" width="518" height="3.6" fill="url(#c82)"/><rect x="1486" y="275" width="518" height="3.6" fill="url(#c83)"/><rect x="1486" y="278" width="518" height="3.6" fill="url(#c84)"/><rect x="1486" y="281" width="518" height="3.6" fill="url(#c85)"/><rect x="1486" y="284" width="518" height="3.6" fill="url(#c86)"/><rect x="1486" y="287" width="518" height="3.6" fill="url(#c87)"/><rect x="1486" y="290" width="518" height="3.6" fill="url(#c88)"/><rect x="1486" y="293" width="518" height="3.6" fill="url(#c89)"/><rect x="1486" y="296" width="518" height="3.6" fill="url(#c90)"/><rect x="1486" y="299" width="518" height="3.6" fill="url(#c91)"/><rect x="1486" y="302" width="518" height="3.6" fill="url(#c92)"/><rect x="1486" y="305" width="518" height="3.6" fill="url(#c93)"/><rect x="1486" y="308" width="518" height="3.6" fill="url(#c94)"/><rect x="1486" y="311" width="518" height="3.6" fill="url(#c95)"/><rect x="1486" y="314" width="518" height="3.6" fill="url(#c96)"/><rect x="1486" y="317" width="518" height="3.6" fill="url(#c97)"/><rect x="1486" y="320" width="518" height="3.6" fill="url(#c98)"/><rect x="1486" y="323" width="518" height="3.6" fill="url(#c99)"/><rect x="1486" y="326" width="518" height="3.6" fill="url(#c100)"/><rect x="1486" y="329" width="518" height="3.6" fill="url(#c101)"/><rect x="1486" y="332" width="518" height="3.6" fill="url(#c102)"/><rect x="1486" y="335" width="518" height="3.6" fill="url(#c103)"/><rect x="1486" y="338" width="518" height="3.6" fill="url(#c104)"/><rect x="1486" y="341" width="518" height="3.6" fill="url(#c105)"/><rect x="1486" y="344" width="518" height="3.6" fill="url(#c106)"/><rect x="1486" y="347" width="518" height="3.6" fill="url(#c107)"/><rect x="1486" y="350" width="518" height="3.6" fill="url(#c108)"/><rect x="1486" y="353" width="518" height="3.6" fill="url(#c109)"/><rect x="1486" y="356" width="518" height="3.6" fill="url(#c110)"/><rect x="1486" y="359" width="518" height="3.6" fill="url(#c111)"/><rect x="1486" y="362" width="518" height="3.6" fill="url(#c112)"/><rect x="1486" y="365" width="518" height="3.6" fill="url(#c113)"/><rect x="1486" y="368" width="518" height="3.6" fill="url(#c114)"/><rect x="1486" y="371" width="518" height="3.6" fill="url(#c115)"/><rect x="1486" y="374" width="518" height="3.6" fill="url(#c116)"/><rect x="1486" y="377" width="518" height="3.6" fill="url(#c117)"/><rect x="1486" y="380" width="518" height="3.6" fill="url(#c118)"/><rect x="1486" y="383" width="518" height="3.6" fill="url(#c119)"/><rect x="1486" y="386" width="518" height="3.6" fill="url(#c120)"/><rect x="1486" y="389" width="518" height="3.6" fill="url(#c121)"/><rect x="1486" y="392" width="518" height="3.6" fill="url(#c122)"/><rect x="1486" y="395" width="518" height="3.6" fill="url(#c123)"/><rect x="1486" y="398" width="518" height="3.6" fill="url(#c124)"/><rect x="1486" y="401" width="518" height="3.6" fill="url(#c125)"/><rect x="1486" y="404" width="518" height="3.6" fill="url(#c126)"/><rect x="1486" y="407" width="518" height="3.6" fill="url(#c127)"/><rect x="1486" y="410" width="518" height="3.6" fill="url(#c128)"/><rect x="1486" y="413" width="518" height="3.6" fill="url(#c129)"/><rect x="1486" y="416" width="518" height="3.6" fill="url(#c130)"/><rect x="1486" y="419" width="518" height="3.6" fill="url(#c131)"/><rect x="1486" y="422" width="518" height="3.6" fill="url(#c132)"/><rect x="1486" y="425" width="518" height="3.6" fill="url(#c133)"/><rect x="1486" y="428" width="518" height="3.6" fill="url(#c134)"/><rect x="1486" y="431" width="518" height="3.6" fill="url(#c135)"/><rect x="1486" y="434" width="518" height="3.6" fill="url(#c136)"/><rect x="1486" y="437" width="518" height="3.6" fill="url(#c137)"/><rect x="1486" y="440" width="518" height="3.6" fill="url(#c138)"/><rect x="1486" y="443" width="518" height="3.6" fill="url(#c139)"/><rect x="1486" y="446" width="518" height="3.6" fill="url(#c140)"/><rect x="1486" y="449" width="518" height="3.6" fill="url(#c141)"/><rect x="1486" y="452" width="518" height="3.6" fill="url(#c142)"/><rect x="1486" y="455" width="518" height="3.6" fill="url(#c143)"/><rect x="1486" y="458" width="518" height="3.6" fill="url(#c144)"/><rect x="1486" y="461" width="518" height="3.6" fill="url(#c145)"/><rect x="1486" y="464" width="518" height="3.6" fill="url(#c146)"/><rect x="1486" y="467" width="518" height="3.6" fill="url(#c147)"/><rect x="1486" y="470" width="518" height="3.6" fill="url(#c148)"/><rect x="1486" y="473" width="518" height="3.6" fill="url(#c149)"/><rect x="1486" y="476" width="518" height="3.6" fill="url(#c150)"/><rect x="1486" y="479" width="518" height="3.6" fill="url(#c151)"/><rect x="1486" y="482" width="518" height="3.6" fill="url(#c152)"/><rect x="1486" y="485" width="518" height="3.6" fill="url(#c153)"/><rect x="1486" y="488" width="518" height="3.6" fill="url(#c154)"/><rect x="1486" y="491" width="518" height="3.6" fill="url(#c155)"/></g></g>
<path d="M1562.5 36.5C1570.6 43.2 1592.4 60.4 1611 77C1629.6 93.6 1652.8 115.9 1674 136C1695.2 156.1 1717.2 177.2 1738.5 197.5C1759.8 217.8 1781.8 238.4 1801.5 257.5C1821.2 276.6 1839.4 294.9 1856.5 312C1873.6 329.1 1886.1 341.2 1904 360C1921.9 378.8 1950.5 410.7 1964 425C1977.5 439.3 1979.1 440.3 1985 446C1990.9 451.7 1997.1 456.8 1999.5 459L1941 483.5" stroke="#000" stroke-width="2.6" fill="none" stroke-linejoin="round"/>
<path d="M1581 52l6.8 -4.5M1612 78l6.8 -4.5M1645 108.5l6.8 -4.5M1674 136l6.8 -4.5M1706 166.5l6.8 -4.5M1738.5 197.5l6.8 -4.5M1767 224l6.8 -4.5M1801.5 257.5l6.8 -4.5M1833 289l6.8 -4.5M1856.5 312l6.8 -4.5M1878 334l6.8 -4.5M1904 360l6.8 -4.5M1921 378.5l6.8 -4.5M1937 396l6.8 -4.5M1950 410l5.2 -3.5M1961 422l5.2 -3.5M1971 432l5.2 -3.5M1979 440l5.2 -3.5M1985 446l5.2 -3.5M1990 450.5l5.2 -3.5" stroke="#000" stroke-width="2" fill="none"/>
<path d="M1992.5 453.5L1998 446L2003.5 451.5L1999 459.5Z" fill="#000"/>
<linearGradient id="ctr" gradientUnits="userSpaceOnUse" x1="1540" y1="66" x2="1936" y2="433"><stop offset="0" stop-color="#a4a82c"/><stop offset="0.3" stop-color="#a88a30"/><stop offset="0.6" stop-color="#b2603a"/><stop offset="1" stop-color="#b42a50"/></linearGradient>
<path d="M1540 66C1548.3 74.6 1573.3 100.5 1590 117.5C1606.7 134.5 1623.3 151.3 1640 168C1656.7 184.7 1673.3 201.3 1690 217.5C1706.7 233.7 1723.8 249.8 1740 265C1756.2 280.2 1772.7 295 1787.5 309C1802.3 323 1813.8 335.5 1829 349C1844.2 362.5 1864.5 378.8 1879 390C1893.5 401.2 1906.5 409.3 1916 416.5C1925.5 423.7 1932.7 430.2 1936 433" stroke="url(#ctr)" stroke-opacity="0.92" stroke-width="4.6" fill="none" stroke-linecap="round"/>
<path d="M1954.5 448L1929 409L1929 429L1911 438.5Z" fill="#b0104c" fill-opacity="0.75"/>
<circle cx="1531" cy="51" r="4" fill="#000" stroke="#f4b6c8" stroke-width="2"/>
<circle cx="1834.5" cy="297" r="4" fill="#000" stroke="#f4b6c8" stroke-width="2"/>
<circle cx="1966.5" cy="428.5" r="4" fill="#000" stroke="#f4b6c8" stroke-width="2"/>
<circle cx="1989" cy="451" r="4" fill="#000" stroke="#f4b6c8" stroke-width="2"/>
<circle cx="1983.5" cy="445.5" r="3" fill="#f06a8a" stroke="#f4b6c8" stroke-width="1.5"/>
<text x="1512" y="99" font-size="36">0</text>
<text x="1779" y="458" font-size="36" textLength="138" lengthAdjust="spacing">1 mg/mL</text>
<text x="1690" y="136" font-size="34" fill="#1a9fe0" textLength="54" lengthAdjust="spacing">560</text>
<text x="1813" y="249" font-size="34" fill="#1a9fe0" textLength="54" lengthAdjust="spacing">580</text>
<text x="1909" y="353" font-size="34" fill="#1a9fe0" textLength="54" lengthAdjust="spacing">600</text>
<text x="1963" y="415" font-size="34" fill="#1a9fe0" textLength="54" lengthAdjust="spacing">620</text>
<rect x="1485.5" y="34.8" width="533" height="448.8" fill="none" stroke="#231815" stroke-width="3.2"/>
<path d="M1522.5 483.5v13M1610.6 483.5v13M1698.7 483.5v13M1786.8 483.5v13M1874.9 483.5v13M1963 483.5v13M1485.5 425h-14M1485.5 336.9h-14M1485.5 248.9h-14M1485.5 160.9h-14M1485.5 72.8h-14" stroke="#231815" stroke-width="3.2" fill="none"/>
<text x="1460.5" y="438.5" font-size="38.5" text-anchor="end" textLength="55" lengthAdjust="spacing">0.3</text>
<text x="1460.5" y="350.4" font-size="38.5" text-anchor="end" textLength="55" lengthAdjust="spacing">0.4</text>
<text x="1460.5" y="262.4" font-size="38.5" text-anchor="end" textLength="55" lengthAdjust="spacing">0.5</text>
<text x="1460.5" y="174.4" font-size="38.5" text-anchor="end" textLength="55" lengthAdjust="spacing">0.6</text>
<text x="1460.5" y="86.3" font-size="38.5" text-anchor="end" textLength="55" lengthAdjust="spacing">0.7</text>
<text x="1530" y="533.5" font-size="38.5" text-anchor="middle" textLength="55" lengthAdjust="spacing">0.2</text>
<text x="1616" y="533.5" font-size="38.5" text-anchor="middle" textLength="55" lengthAdjust="spacing">0.3</text>
<text x="1699" y="533.5" font-size="38.5" text-anchor="middle" textLength="55" lengthAdjust="spacing">0.4</text>
<text x="1792" y="533.5" font-size="38.5" text-anchor="middle" textLength="55" lengthAdjust="spacing">0.5</text>
<text x="1878" y="533.5" font-size="38.5" text-anchor="middle" textLength="55" lengthAdjust="spacing">0.6</text>
<text x="1964" y="533.5" font-size="38.5" text-anchor="middle" textLength="55" lengthAdjust="spacing">0.7</text>
<text x="1366" y="265" font-size="38">y</text>
<text x="1753" y="574" font-size="38">x</text>
</g>
<g>
<defs><filter id="nA" x="0" y="0" width="1" height="1" color-interpolation-filters="sRGB"><feTurbulence type="fractalNoise" baseFrequency="0.9" numOctaves="1" seed="2" result="n"/><feColorMatrix in="n" type="matrix" values="0 0 0.25 0 0.375 0 0 0.25 0 0.375 0 0 0.25 0 0.375 0 0 0 0 1" result="m"/><feComposite in="SourceGraphic" in2="m" operator="arithmetic" k1="1" k2="0.5" k3="0" k4="0" result="r"/></filter><filter id="nB" x="0" y="0" width="1" height="1" color-interpolation-filters="sRGB"><feTurbulence type="fractalNoise" baseFrequency="0.8" numOctaves="2" seed="5" result="n"/><feColorMatrix in="n" type="matrix" values="0 0 1 0 0 0 0.4 1 0 -0.2 0 0 1 0 0 0 0 0 0 1" result="m"/><feComposite in="SourceGraphic" in2="m" operator="arithmetic" k1="1" k2="0.5" k3="0" k4="0" result="r"/><feTurbulence type="fractalNoise" baseFrequency="0.6" numOctaves="1" seed="21" result="s"/><feColorMatrix in="s" type="matrix" values="0 0 0 0 0.604 0 0 0 0 1 0 0 0 0 0.753 0 8.4 0 0 -5.964" result="sm"/><feComposite in="sm" in2="r" operator="over" result="r2"/><feTurbulence type="fractalNoise" baseFrequency="0.45" numOctaves="1" seed="31" result="k"/><feColorMatrix in="k" type="matrix" values="0 0 0 0 0.05 0 0 0 0 0.04 0 0 0 0 0.02 8.4 0 0 0 -5.88" result="km"/><feComposite in="km" in2="r2" operator="over"/></filter><filter id="nC" x="0" y="0" width="1" height="1" color-interpolation-filters="sRGB"><feTurbulence type="fractalNoise" baseFrequency="0.7" numOctaves="2" seed="7" result="n"/><feColorMatrix in="n" type="matrix" values="0.6 0 1.3 0 -0.45 0 1.2 1.3 0 -0.75 0 0 1.3 0 -0.15 0 0 0 0 1" result="m"/><feComposite in="SourceGraphic" in2="m" operator="arithmetic" k1="1" k2="0.5" k3="0" k4="0" result="r"/><feTurbulence type="fractalNoise" baseFrequency="0.6" numOctaves="1" seed="23" result="s"/><feColorMatrix in="s" type="matrix" values="0 0 0 0 0.91 0 0 0 0 0.941 0 0 0 0 0.439 0 12.6 0 0 -8.694" result="sm"/><feComposite in="sm" in2="r" operator="over" result="r2"/></filter><filter id="nD" x="0" y="0" width="1" height="1" color-interpolation-filters="sRGB"><feTurbulence type="fractalNoise" baseFrequency="0.6" numOctaves="2" seed="11" result="n"/><feColorMatrix in="n" type="matrix" values="1.9 0 0.8 0 -0.85 0 2 0.8 0 -0.9 0 0 0.8 0 0.1 0 0 0 0 1" result="m"/><feComposite in="SourceGraphic" in2="m" operator="arithmetic" k1="1" k2="0.5" k3="0" k4="0" result="r"/><feTurbulence type="fractalNoise" baseFrequency="0.6" numOctaves="1" seed="25" result="s"/><feColorMatrix in="s" type="matrix" values="0 0 0 0 0.784 0 0 0 0 1 0 0 0 0 0.69 0 11.2 0 0 -7.952" result="sm"/><feComposite in="sm" in2="r" operator="over" result="r2"/></filter><filter id="nE" x="0" y="0" width="1" height="1" color-interpolation-filters="sRGB"><feTurbulence type="fractalNoise" baseFrequency="0.85" numOctaves="2" seed="13" result="n"/><feColorMatrix in="n" type="matrix" values="0 0 0.9 0 0.05 0 0.4 0.9 0 -0.15 0 0 0.9 0 0.05 0 0 0 0 1" result="m"/><feComposite in="SourceGraphic" in2="m" operator="arithmetic" k1="1" k2="0.5" k3="0" k4="0" result="r"/><feTurbulence type="fractalNoise" baseFrequency="0.6" numOctaves="1" seed="27" result="s"/><feColorMatrix in="s" type="matrix" values="0 0 0 0 0.753 0 0 0 0 1 0 0 0 0 0.816 0 14 0 0 -9.24" result="sm"/><feComposite in="sm" in2="r" operator="over" result="r2"/></filter><filter id="nF" x="0" y="0" width="1" height="1" color-interpolation-filters="sRGB"><feTurbulence type="fractalNoise" baseFrequency="0.45" numOctaves="2" seed="17" result="n"/><feColorMatrix in="n" type="matrix" values="0.2 0 1.3 0 -0.25 0 0 1.3 0 -0.15 0 0 1.3 0 -0.15 0 0 0 0 1" result="m"/><feComposite in="SourceGraphic" in2="m" operator="arithmetic" k1="1" k2="0.5" k3="0" k4="0" result="r"/><feTurbulence type="fractalNoise" baseFrequency="0.6" numOctaves="1" seed="29" result="s"/><feColorMatrix in="s" type="matrix" values="0 0 0 0 0.878 0 0 0 0 0.878 0 0 0 0 0.314 0 12.6 0 0 -9.45" result="sm"/><feComposite in="sm" in2="r" operator="over" result="r2"/></filter><filter id="nG" x="0" y="0" width="1" height="1" color-interpolation-filters="sRGB"><feTurbulence type="fractalNoise" baseFrequency="0.8" numOctaves="2" seed="19" result="n"/><feColorMatrix in="n" type="matrix" values="0 0 0.6 0 0.2 0 0 0.6 0 0.2 0 0 0.6 0 0.2 0 0 0 0 1" result="m"/><feComposite in="SourceGraphic" in2="m" operator="arithmetic" k1="1" k2="0.5" k3="0" k4="0" result="r"/><feTurbulence type="fractalNoise" baseFrequency="0.9" numOctaves="1" seed="33" result="k"/><feColorMatrix in="k" type="matrix" values="0 0 0 0 0.05 0 0 0 0 0.04 0 0 0 0 0.02 11.2 0 0 0 -7.392" result="km"/><feComposite in="km" in2="r" operator="over"/></filter><filter id="nC2" x="0" y="0" width="1" height="1" color-interpolation-filters="sRGB"><feTurbulence type="fractalNoise" baseFrequency="0.7" numOctaves="2" seed="9" result="n"/><feColorMatrix in="n" type="matrix" values="0.9 0 1.2 0 -0.55 0 1.5 1.2 0 -0.85 0 0 1.2 0 -0.1 0 0 0 0 1" result="m"/><feComposite in="SourceGraphic" in2="m" operator="arithmetic" k1="1" k2="0.5" k3="0" k4="0" result="r"/><feTurbulence type="fractalNoise" baseFrequency="0.6" numOctaves="1" seed="41" result="s"/><feColorMatrix in="s" type="matrix" values="0 0 0 0 0.847 0 0 0 0 0.941 0 0 0 0 0.439 0 12.6 0 0 -8.82" result="sm"/><feComposite in="sm" in2="r" operator="over" result="r2"/></filter><filter id="nI" x="0" y="0" width="1" height="1" color-interpolation-filters="sRGB"><feTurbulence type="fractalNoise" baseFrequency="0.75" numOctaves="2" seed="43" result="n"/><feColorMatrix in="n" type="matrix" values="1 0 1 0 -0.5 0 1 1 0 -0.5 0 0 1 0 0 0 0 0 0 1" result="m"/><feComposite in="SourceGraphic" in2="m" operator="arithmetic" k1="1" k2="0.5" k3="0" k4="0" result="r"/><feTurbulence type="fractalNoise" baseFrequency="0.6" numOctaves="1" seed="45" result="s"/><feColorMatrix in="s" type="matrix" values="0 0 0 0 0.753 0 0 0 0 1 0 0 0 0 0.941 0 12.6 0 0 -8.631" result="sm"/><feComposite in="sm" in2="r" operator="over" result="r2"/></filter><filter id="nH" x="0" y="0" width="1" height="1" color-interpolation-filters="sRGB"><feTurbulence type="fractalNoise" baseFrequency="0.85" numOctaves="2" seed="37" result="n"/><feColorMatrix in="n" type="matrix" values="1 0 0.7 0 -0.35 0 1.6 0.7 0 -0.65 0 0 0.7 0 0.15 0 0 0 0 1" result="m"/><feComposite in="SourceGraphic" in2="m" operator="arithmetic" k1="1" k2="0.5" k3="0" k4="0" result="r"/></filter><radialGradient id="d001" cx="0.42" cy="0.6" r="0.8"><stop offset="0" stop-color="#ef803f" stop-opacity="1"/><stop offset="0.55" stop-color="#e8753a" stop-opacity="0.85"/><stop offset="1" stop-color="#cc6030" stop-opacity="0"/></radialGradient><linearGradient id="d010" x1="0" y1="0" x2="1" y2="1"><stop offset="0" stop-color="#8d5a2b"/><stop offset="0.5" stop-color="#987a3c"/><stop offset="1" stop-color="#8f8a50"/></linearGradient><linearGradient id="d020" x1="0" y1="0.2" x2="1" y2="0.7"><stop offset="0" stop-color="#51421f"/><stop offset="0.3" stop-color="#586a2c"/><stop offset="0.65" stop-color="#518c3f"/><stop offset="1" stop-color="#49b053"/></linearGradient><radialGradient id="d021" cx="0" cy="0" r="0.4"><stop offset="0" stop-color="#4c361a" stop-opacity="0.7"/><stop offset="1" stop-color="#4c361a" stop-opacity="0"/></radialGradient><linearGradient id="d030" x1="0" y1="0.1" x2="1" y2="0.6"><stop offset="0" stop-color="#182210"/><stop offset="0.3" stop-color="#1f5a2a"/><stop offset="0.6" stop-color="#289642"/><stop offset="0.85" stop-color="#30c464"/><stop offset="1" stop-color="#4af292"/></linearGradient><radialGradient id="d031" cx="0" cy="0" r="0.45"><stop offset="0" stop-color="#12180c" stop-opacity="0.9"/><stop offset="1" stop-color="#12180c" stop-opacity="0"/></radialGradient><radialGradient id="d101" cx="0.55" cy="0.95" r="0.5"><stop offset="0" stop-color="#bf581f" stop-opacity="0.8"/><stop offset="1" stop-color="#bf581f" stop-opacity="0"/></radialGradient><radialGradient id="d111" cx="0.5" cy="0.75" r="0.55"><stop offset="0" stop-color="#c27226" stop-opacity="0.85"/><stop offset="1" stop-color="#c27226" stop-opacity="0"/></radialGradient><linearGradient id="d120" x1="0" y1="0" x2="1" y2="1"><stop offset="0" stop-color="#8a8830"/><stop offset="0.5" stop-color="#968834"/><stop offset="1" stop-color="#927c30"/></linearGradient><radialGradient id="d121" cx="0.45" cy="0.9" r="0.45"><stop offset="0" stop-color="#b88030" stop-opacity="0.8"/><stop offset="1" stop-color="#b88030" stop-opacity="0"/></radialGradient><radialGradient id="d131" cx="0.5" cy="0.4" r="0.7"><stop offset="0" stop-color="#34aa3a" stop-opacity="0.7"/><stop offset="1" stop-color="#34aa3a" stop-opacity="0"/></radialGradient><linearGradient id="d200" x1="0.1" y1="0" x2="0.9" y2="1"><stop offset="0" stop-color="#74391f"/><stop offset="0.5" stop-color="#8c3f24"/><stop offset="1" stop-color="#b0452a"/></linearGradient><radialGradient id="d201" cx="0.9" cy="0.1" r="0.5"><stop offset="0" stop-color="#64381e" stop-opacity="0.8"/><stop offset="1" stop-color="#64381e" stop-opacity="0"/></radialGradient><linearGradient id="d210" x1="0.3" y1="0" x2="0.7" y2="1"><stop offset="0" stop-color="#8e4630"/><stop offset="0.5" stop-color="#a64e30"/><stop offset="1" stop-color="#c0582e"/></linearGradient><linearGradient id="d220" x1="0" y1="0" x2="1" y2="1"><stop offset="0" stop-color="#e2641a"/><stop offset="0.4" stop-color="#d0781f"/><stop offset="0.75" stop-color="#b08a2c"/><stop offset="1" stop-color="#b8862a"/></linearGradient><linearGradient id="d230" x1="0" y1="0" x2="1" y2="1"><stop offset="0" stop-color="#b0861e"/><stop offset="0.3" stop-color="#6a8420"/><stop offset="0.6" stop-color="#37801f"/><stop offset="1" stop-color="#557f20"/></linearGradient><radialGradient id="d231" cx="1" cy="0" r="0.45"><stop offset="0" stop-color="#98841f" stop-opacity="0.7"/><stop offset="1" stop-color="#98841f" stop-opacity="0"/></radialGradient><linearGradient id="d300" x1="0" y1="1" x2="1" y2="0"><stop offset="0" stop-color="#e0301e"/><stop offset="0.45" stop-color="#c82a1a"/><stop offset="1" stop-color="#7e2014"/></linearGradient><linearGradient id="d310" x1="0" y1="1" x2="1" y2="0"><stop offset="0" stop-color="#ea2010"/><stop offset="0.45" stop-color="#c81c10"/><stop offset="1" stop-color="#6a140e"/></linearGradient><linearGradient id="d320" x1="0" y1="0" x2="1" y2="0.6"><stop offset="0" stop-color="#7c4a20"/><stop offset="0.4" stop-color="#a2441f"/><stop offset="1" stop-color="#b04422"/></linearGradient><linearGradient id="d330" x1="0" y1="1" x2="1" y2="0"><stop offset="0" stop-color="#749a30"/><stop offset="0.4" stop-color="#a08a30"/><stop offset="0.8" stop-color="#c06c2c"/><stop offset="1" stop-color="#b86a2c"/></linearGradient><linearGradient id="d400" x1="0" y1="0" x2="1" y2="0.3"><stop offset="0" stop-color="#cc1a10"/><stop offset="0.5" stop-color="#ea1c10"/><stop offset="1" stop-color="#f02010"/></linearGradient><linearGradient id="d410" x1="0" y1="0.6" x2="1" y2="0.3"><stop offset="0" stop-color="#7e1c10"/><stop offset="0.5" stop-color="#a82a18"/><stop offset="1" stop-color="#d63c20"/></linearGradient><radialGradient id="d411" cx="1" cy="0.5" r="0.35"><stop offset="0" stop-color="#e85a2c" stop-opacity="0.7"/><stop offset="1" stop-color="#e85a2c" stop-opacity="0"/></radialGradient><linearGradient id="d420" x1="0" y1="1" x2="1" y2="0"><stop offset="0" stop-color="#541008"/><stop offset="0.4" stop-color="#8a2014"/><stop offset="1" stop-color="#b83220"/></linearGradient><linearGradient id="d430" x1="0" y1="0" x2="1" y2="0.5"><stop offset="0" stop-color="#74261a"/><stop offset="0.5" stop-color="#a2361f"/><stop offset="1" stop-color="#80582c"/></linearGradient></defs>
<g filter="url(#nA)"><rect x="131.2" y="630.6" width="189" height="117.6" fill="#cf622f"/><rect x="131.2" y="630.6" width="189" height="117.6" fill="url(#d001)"/></g>
<rect x="280.3" y="731.6" width="34.5" height="7" fill="#fff"/>
<text x="310.5" y="663.8" font-size="31.5" text-anchor="end" fill="#fff">0 s</text>
<g filter="url(#nA)"><rect x="336.2" y="630.6" width="189" height="117.6" fill="url(#d010)"/></g>
<rect x="480.3" y="731.6" width="34.5" height="7" fill="#fff"/>
<text x="514" y="662" font-size="31.5" text-anchor="end" fill="#fff">1 s</text>
<g filter="url(#nB)"><rect x="540" y="630.6" width="189" height="117.6" fill="url(#d020)"/><rect x="540" y="630.6" width="189" height="117.6" fill="url(#d021)"/></g>
<rect x="682.2" y="731.6" width="34.5" height="7" fill="#fff"/>
<text x="716.5" y="662" font-size="31.5" text-anchor="end" fill="#fff">3 s</text>
<g filter="url(#nB)"><rect x="745" y="630.6" width="189" height="117.6" fill="url(#d030)"/><rect x="745" y="630.6" width="189" height="117.6" fill="url(#d031)"/></g>
<rect x="890.2" y="731.6" width="34.5" height="7" fill="#fff"/>
<text x="924" y="662" font-size="31.5" text-anchor="end" fill="#fff">5 s</text>
<g filter="url(#nC)"><rect x="131.2" y="780.3" width="189" height="117.6" fill="#a83c1e"/><rect x="131.2" y="780.3" width="189" height="117.6" fill="url(#d101)"/></g>
<rect x="280.3" y="879" width="34.5" height="7" fill="#fff"/>
<text x="310.5" y="808" font-size="31.5" text-anchor="end" fill="#fff">0 s</text>
<g filter="url(#nC2)"><rect x="336.2" y="780.3" width="189" height="117.6" fill="#ae4c1f"/><rect x="336.2" y="780.3" width="189" height="117.6" fill="url(#d111)"/></g>
<rect x="480.3" y="879" width="34.5" height="7" fill="#fff"/>
<text x="515.6" y="808" font-size="31.5" text-anchor="end" fill="#fff">30 s</text>
<g filter="url(#nI)"><rect x="540" y="780.3" width="189" height="117.6" fill="url(#d120)"/><rect x="540" y="780.3" width="189" height="117.6" fill="url(#d121)"/></g>
<rect x="689" y="879" width="34.5" height="7" fill="#fff"/>
<text x="726.5" y="808" font-size="31.5" text-anchor="end" fill="#fff">60 s</text>
<g filter="url(#nE)"><rect x="745" y="780.3" width="189" height="117.6" fill="#2c9a32"/><rect x="745" y="780.3" width="189" height="117.6" fill="url(#d131)"/></g>
<rect x="890.2" y="879" width="34.5" height="7" fill="#fff"/>
<text x="930.6" y="808" font-size="31.5" text-anchor="end" fill="#fff">100 s</text>
<g filter="url(#nC)"><rect x="131.2" y="925.1" width="189" height="117.6" fill="url(#d200)"/><rect x="131.2" y="925.1" width="189" height="117.6" fill="url(#d201)"/></g>
<rect x="280.3" y="1024.3" width="34.5" height="7" fill="#fff"/>
<text x="306.4" y="957" font-size="31.5" text-anchor="end" fill="#fff">0 s</text>
<g filter="url(#nC)"><rect x="336.2" y="925.1" width="189" height="117.6" fill="url(#d210)"/></g>
<rect x="480.3" y="1024.3" width="34.5" height="7" fill="#fff"/>
<text x="512.7" y="957" font-size="31.5" text-anchor="end" fill="#fff">60 s</text>
<g filter="url(#nD)"><rect x="540" y="925.1" width="189" height="117.6" fill="url(#d220)"/></g>
<rect x="688.6" y="1024.3" width="34.5" height="7" fill="#fff"/>
<text x="724.3" y="957" font-size="31.5" text-anchor="end" fill="#fff">180 s</text>
<g filter="url(#nD)"><rect x="745" y="925.1" width="189" height="117.6" fill="url(#d230)"/><rect x="745" y="925.1" width="189" height="117.6" fill="url(#d231)"/></g>
<rect x="890.2" y="1024.3" width="34.5" height="7" fill="#fff"/>
<text x="925.7" y="957" font-size="31.5" text-anchor="end" fill="#fff">220 s</text>
<g filter="url(#nF)"><rect x="131.2" y="1071.8" width="189" height="117.6" fill="url(#d300)"/></g>
<rect x="280.3" y="1168.4" width="34.5" height="7" fill="#fff"/>
<text x="306.4" y="1104.6" font-size="31.5" text-anchor="end" fill="#fff">0 s</text>
<g filter="url(#nF)"><rect x="336.2" y="1071.8" width="189" height="117.6" fill="url(#d310)"/></g>
<rect x="480.3" y="1168.4" width="34.5" height="7" fill="#fff"/>
<text x="517" y="1104.6" font-size="31.5" text-anchor="end" fill="#fff">60 s</text>
<g filter="url(#nD)"><rect x="540" y="1071.8" width="189" height="117.6" fill="url(#d320)"/></g>
<rect x="688.6" y="1168.4" width="34.5" height="7" fill="#fff"/>
<text x="724.3" y="1104.6" font-size="31.5" text-anchor="end" fill="#fff">180 s</text>
<g filter="url(#nD)"><rect x="745" y="1071.8" width="189" height="117.6" fill="url(#d330)"/></g>
<rect x="890.2" y="1168.4" width="34.5" height="7" fill="#fff"/>
<text x="921.4" y="1104.6" font-size="31.5" text-anchor="end" fill="#fff">240 s</text>
<g filter="url(#nG)"><rect x="131.2" y="1219.8" width="189" height="117.6" fill="url(#d400)"/></g>
<rect x="280.3" y="1314.6" width="34.5" height="7" fill="#fff"/>
<text x="302.7" y="1251.4" font-size="31.5" text-anchor="end" fill="#fff">0 s</text>
<g filter="url(#nF)"><rect x="336.2" y="1219.8" width="189" height="117.6" fill="url(#d410)"/><rect x="336.2" y="1219.8" width="189" height="117.6" fill="url(#d411)"/></g>
<rect x="480.3" y="1314.6" width="34.5" height="7" fill="#fff"/>
<text x="519.6" y="1253" font-size="31.5" text-anchor="end" fill="#fff">120 s</text>
<g filter="url(#nF)"><rect x="540" y="1219.8" width="189" height="117.6" fill="url(#d420)"/></g>
<rect x="688.6" y="1314.6" width="34.5" height="7" fill="#fff"/>
<text x="724.3" y="1251.4" font-size="31.5" text-anchor="end" fill="#fff">420 s</text>
<g filter="url(#nD)"><rect x="745" y="1219.8" width="189" height="117.6" fill="url(#d430)"/></g>
<rect x="890.2" y="1314.6" width="34.5" height="7" fill="#fff"/>
<text x="925.7" y="1251.4" font-size="31.5" text-anchor="end" fill="#fff">540 s</text>
<text x="237.5" y="720.6" font-size="23.5" fill="#fff" textLength="78.5" lengthAdjust="spacing">100 µm</text>
<linearGradient id="dv" gradientUnits="userSpaceOnUse" x1="0" y1="658" x2="0" y2="1367"><stop offset="0" stop-color="#1eab3e"/><stop offset="1" stop-color="#e9571a"/></linearGradient>
<path d="M88.4 658H105.2V1322.7H122L96.5 1367L70.7 1322.7H88.4Z" fill="url(#dv)"/>
<linearGradient id="dh" gradientUnits="userSpaceOnUse" x1="142" y1="0" x2="929" y2="0"><stop offset="0" stop-color="#e9571a"/><stop offset="1" stop-color="#1eab3e"/></linearGradient>
<path d="M142 1356.4H881.2V1337.7L929.5 1365.5L881.2 1393.4V1374.6H142Z" fill="url(#dh)"/>
<text x="-2" y="615" font-size="56" font-weight="bold">d</text>
<text x="3.5" y="652" font-size="40" textLength="121.5" lengthAdjust="spacing">mg/mL</text>
<text x="28.5" y="695.3" font-size="38" textLength="51.5" lengthAdjust="spacing">0.1</text>
<text x="18.5" y="1309.5" font-size="38" textLength="52" lengthAdjust="spacing">1.0</text>
<text font-size="40" text-anchor="middle" transform="translate(75 947.5) rotate(-90)" textLength="375" lengthAdjust="spacing">Concentration of MAI</text>
<text x="388.4" y="1419" font-size="40" textLength="329.5" lengthAdjust="spacing">UV irradiation time</text>
</g>
<g>
<path d="M1008.3 621.8l12.8 12.8l-12.8 12.8l-12.8 -12.8ZM1033.9 621.8l12.8 12.8l-12.8 12.8l-12.8 -12.8ZM1059.5 621.8l12.8 12.8l-12.8 12.8l-12.8 -12.8ZM1085.1 621.8l12.8 12.8l-12.8 12.8l-12.8 -12.8ZM1008.3 647.4l12.8 12.8l-12.8 12.8l-12.8 -12.8ZM1033.9 647.4l12.8 12.8l-12.8 12.8l-12.8 -12.8ZM1059.5 647.4l12.8 12.8l-12.8 12.8l-12.8 -12.8ZM1085.1 647.4l12.8 12.8l-12.8 12.8l-12.8 -12.8ZM1008.3 673l12.8 12.8l-12.8 12.8l-12.8 -12.8ZM1033.9 673l12.8 12.8l-12.8 12.8l-12.8 -12.8ZM1059.5 673l12.8 12.8l-12.8 12.8l-12.8 -12.8ZM1085.1 673l12.8 12.8l-12.8 12.8l-12.8 -12.8ZM1008.3 698.5l12.8 12.8l-12.8 12.8l-12.8 -12.8ZM1033.9 698.5l12.8 12.8l-12.8 12.8l-12.8 -12.8ZM1059.5 698.5l12.8 12.8l-12.8 12.8l-12.8 -12.8ZM1085.1 698.5l12.8 12.8l-12.8 12.8l-12.8 -12.8Z" fill="#cddc39"/>
<path d="M1128.5 621.8l12.8 12.8l-12.8 12.8l-12.8 -12.8ZM1179.8 621.8l12.8 12.8l-12.8 12.8l-12.8 -12.8ZM1205.3 621.8l12.8 12.8l-12.8 12.8l-12.8 -12.8ZM1128.5 647.4l12.8 12.8l-12.8 12.8l-12.8 -12.8ZM1154.1 647.4l12.8 12.8l-12.8 12.8l-12.8 -12.8ZM1179.8 647.4l12.8 12.8l-12.8 12.8l-12.8 -12.8ZM1205.3 647.4l12.8 12.8l-12.8 12.8l-12.8 -12.8ZM1154.1 673l12.8 12.8l-12.8 12.8l-12.8 -12.8ZM1179.8 673l12.8 12.8l-12.8 12.8l-12.8 -12.8ZM1205.3 673l12.8 12.8l-12.8 12.8l-12.8 -12.8ZM1128.5 698.5l12.8 12.8l-12.8 12.8l-12.8 -12.8ZM1154.1 698.5l12.8 12.8l-12.8 12.8l-12.8 -12.8ZM1179.8 698.5l12.8 12.8l-12.8 12.8l-12.8 -12.8ZM1205.3 698.5l12.8 12.8l-12.8 12.8l-12.8 -12.8Z" fill="#8cc220"/><path d="M1154.1 621.8l12.8 12.8l-12.8 12.8l-12.8 -12.8ZM1128.5 673l12.8 12.8l-12.8 12.8l-12.8 -12.8Z" fill="#f0cf35"/>
<path d="M1245.3 621.8l12.8 12.8l-12.8 12.8l-12.8 -12.8ZM1296.5 621.8l12.8 12.8l-12.8 12.8l-12.8 -12.8ZM1322.1 621.8l12.8 12.8l-12.8 12.8l-12.8 -12.8ZM1245.3 647.4l12.8 12.8l-12.8 12.8l-12.8 -12.8ZM1270.9 647.4l12.8 12.8l-12.8 12.8l-12.8 -12.8ZM1296.5 647.4l12.8 12.8l-12.8 12.8l-12.8 -12.8ZM1322.1 647.4l12.8 12.8l-12.8 12.8l-12.8 -12.8ZM1270.9 673l12.8 12.8l-12.8 12.8l-12.8 -12.8ZM1296.5 673l12.8 12.8l-12.8 12.8l-12.8 -12.8ZM1322.1 673l12.8 12.8l-12.8 12.8l-12.8 -12.8ZM1245.3 698.5l12.8 12.8l-12.8 12.8l-12.8 -12.8ZM1270.9 698.5l12.8 12.8l-12.8 12.8l-12.8 -12.8ZM1296.5 698.5l12.8 12.8l-12.8 12.8l-12.8 -12.8ZM1322.1 698.5l12.8 12.8l-12.8 12.8l-12.8 -12.8Z" fill="#8cc220"/><text x="1270.9" y="642.5" font-size="29" text-anchor="middle">x</text><text x="1245.3" y="693.8" font-size="29" text-anchor="middle">x</text>
<path d="M1008.3 776.3l12.8 12.8l-12.8 12.8l-12.8 -12.8ZM1033.9 776.3l12.8 12.8l-12.8 12.8l-12.8 -12.8ZM1059.5 776.3l12.8 12.8l-12.8 12.8l-12.8 -12.8ZM1085.1 776.3l12.8 12.8l-12.8 12.8l-12.8 -12.8ZM1008.3 801.9l12.8 12.8l-12.8 12.8l-12.8 -12.8ZM1033.9 801.9l12.8 12.8l-12.8 12.8l-12.8 -12.8ZM1059.5 801.9l12.8 12.8l-12.8 12.8l-12.8 -12.8ZM1085.1 801.9l12.8 12.8l-12.8 12.8l-12.8 -12.8ZM1008.3 827.5l12.8 12.8l-12.8 12.8l-12.8 -12.8ZM1033.9 827.5l12.8 12.8l-12.8 12.8l-12.8 -12.8ZM1059.5 827.5l12.8 12.8l-12.8 12.8l-12.8 -12.8ZM1085.1 827.5l12.8 12.8l-12.8 12.8l-12.8 -12.8ZM1008.3 853.1l12.8 12.8l-12.8 12.8l-12.8 -12.8ZM1033.9 853.1l12.8 12.8l-12.8 12.8l-12.8 -12.8ZM1059.5 853.1l12.8 12.8l-12.8 12.8l-12.8 -12.8ZM1085.1 853.1l12.8 12.8l-12.8 12.8l-12.8 -12.8Z" fill="#f0cf35"/>
<path d="M1128.5 776.3l12.8 12.8l-12.8 12.8l-12.8 -12.8ZM1179.8 776.3l12.8 12.8l-12.8 12.8l-12.8 -12.8ZM1205.3 776.3l12.8 12.8l-12.8 12.8l-12.8 -12.8ZM1128.5 801.9l12.8 12.8l-12.8 12.8l-12.8 -12.8ZM1154.1 801.9l12.8 12.8l-12.8 12.8l-12.8 -12.8ZM1179.8 801.9l12.8 12.8l-12.8 12.8l-12.8 -12.8ZM1205.3 801.9l12.8 12.8l-12.8 12.8l-12.8 -12.8ZM1154.1 827.5l12.8 12.8l-12.8 12.8l-12.8 -12.8ZM1179.8 827.5l12.8 12.8l-12.8 12.8l-12.8 -12.8ZM1128.5 853.1l12.8 12.8l-12.8 12.8l-12.8 -12.8ZM1154.1 853.1l12.8 12.8l-12.8 12.8l-12.8 -12.8ZM1179.8 853.1l12.8 12.8l-12.8 12.8l-12.8 -12.8ZM1205.3 853.1l12.8 12.8l-12.8 12.8l-12.8 -12.8Z" fill="#8cc220"/><path d="M1154.1 776.3l12.8 12.8l-12.8 12.8l-12.8 -12.8Z" fill="#f4b312"/><path d="M1128.5 827.5l12.8 12.8l-12.8 12.8l-12.8 -12.8ZM1205.3 827.5l12.8 12.8l-12.8 12.8l-12.8 -12.8Z" fill="#f54e1b"/>
<path d="M1245.3 776.3l12.8 12.8l-12.8 12.8l-12.8 -12.8ZM1296.5 776.3l12.8 12.8l-12.8 12.8l-12.8 -12.8ZM1322.1 776.3l12.8 12.8l-12.8 12.8l-12.8 -12.8ZM1245.3 801.9l12.8 12.8l-12.8 12.8l-12.8 -12.8ZM1270.9 801.9l12.8 12.8l-12.8 12.8l-12.8 -12.8ZM1296.5 801.9l12.8 12.8l-12.8 12.8l-12.8 -12.8ZM1322.1 801.9l12.8 12.8l-12.8 12.8l-12.8 -12.8ZM1270.9 827.5l12.8 12.8l-12.8 12.8l-12.8 -12.8ZM1296.5 827.5l12.8 12.8l-12.8 12.8l-12.8 -12.8ZM1245.3 853.1l12.8 12.8l-12.8 12.8l-12.8 -12.8ZM1270.9 853.1l12.8 12.8l-12.8 12.8l-12.8 -12.8ZM1296.5 853.1l12.8 12.8l-12.8 12.8l-12.8 -12.8ZM1322.1 853.1l12.8 12.8l-12.8 12.8l-12.8 -12.8Z" fill="#8cc220"/><text x="1270.9" y="797.1" font-size="29" text-anchor="middle">x</text><text x="1245.3" y="848.3" font-size="29" text-anchor="middle">x</text><text x="1322.1" y="848.3" font-size="29" text-anchor="middle">x</text>
<path d="M1008.3 928.6l12.8 12.8l-12.8 12.8l-12.8 -12.8ZM1033.9 928.6l12.8 12.8l-12.8 12.8l-12.8 -12.8ZM1059.5 928.6l12.8 12.8l-12.8 12.8l-12.8 -12.8ZM1085.1 928.6l12.8 12.8l-12.8 12.8l-12.8 -12.8ZM1008.3 954.2l12.8 12.8l-12.8 12.8l-12.8 -12.8ZM1033.9 954.2l12.8 12.8l-12.8 12.8l-12.8 -12.8ZM1059.5 954.2l12.8 12.8l-12.8 12.8l-12.8 -12.8ZM1085.1 954.2l12.8 12.8l-12.8 12.8l-12.8 -12.8ZM1008.3 979.8l12.8 12.8l-12.8 12.8l-12.8 -12.8ZM1033.9 979.8l12.8 12.8l-12.8 12.8l-12.8 -12.8ZM1059.5 979.8l12.8 12.8l-12.8 12.8l-12.8 -12.8ZM1085.1 979.8l12.8 12.8l-12.8 12.8l-12.8 -12.8ZM1008.3 1005.4l12.8 12.8l-12.8 12.8l-12.8 -12.8ZM1033.9 1005.4l12.8 12.8l-12.8 12.8l-12.8 -12.8ZM1059.5 1005.4l12.8 12.8l-12.8 12.8l-12.8 -12.8ZM1085.1 1005.4l12.8 12.8l-12.8 12.8l-12.8 -12.8Z" fill="#f4b312"/>
<path d="M1128.5 928.6l12.8 12.8l-12.8 12.8l-12.8 -12.8ZM1179.8 928.6l12.8 12.8l-12.8 12.8l-12.8 -12.8ZM1205.3 928.6l12.8 12.8l-12.8 12.8l-12.8 -12.8ZM1128.5 954.2l12.8 12.8l-12.8 12.8l-12.8 -12.8ZM1154.1 954.2l12.8 12.8l-12.8 12.8l-12.8 -12.8ZM1179.8 954.2l12.8 12.8l-12.8 12.8l-12.8 -12.8ZM1154.1 979.8l12.8 12.8l-12.8 12.8l-12.8 -12.8ZM1179.8 979.8l12.8 12.8l-12.8 12.8l-12.8 -12.8ZM1128.5 1005.4l12.8 12.8l-12.8 12.8l-12.8 -12.8ZM1154.1 1005.4l12.8 12.8l-12.8 12.8l-12.8 -12.8ZM1179.8 1005.4l12.8 12.8l-12.8 12.8l-12.8 -12.8ZM1205.3 1005.4l12.8 12.8l-12.8 12.8l-12.8 -12.8Z" fill="#8cc220"/><path d="M1154.1 928.6l12.8 12.8l-12.8 12.8l-12.8 -12.8ZM1128.5 979.8l12.8 12.8l-12.8 12.8l-12.8 -12.8ZM1205.3 979.8l12.8 12.8l-12.8 12.8l-12.8 -12.8Z" fill="#f54e1b"/><path d="M1205.3 954.2l12.8 12.8l-12.8 12.8l-12.8 -12.8Z" fill="#f07318"/>
<path d="M1245.3 928.6l12.8 12.8l-12.8 12.8l-12.8 -12.8ZM1296.5 928.6l12.8 12.8l-12.8 12.8l-12.8 -12.8ZM1322.1 928.6l12.8 12.8l-12.8 12.8l-12.8 -12.8ZM1245.3 954.2l12.8 12.8l-12.8 12.8l-12.8 -12.8ZM1270.9 954.2l12.8 12.8l-12.8 12.8l-12.8 -12.8ZM1296.5 954.2l12.8 12.8l-12.8 12.8l-12.8 -12.8ZM1270.9 979.8l12.8 12.8l-12.8 12.8l-12.8 -12.8ZM1296.5 979.8l12.8 12.8l-12.8 12.8l-12.8 -12.8ZM1245.3 1005.4l12.8 12.8l-12.8 12.8l-12.8 -12.8ZM1270.9 1005.4l12.8 12.8l-12.8 12.8l-12.8 -12.8ZM1296.5 1005.4l12.8 12.8l-12.8 12.8l-12.8 -12.8ZM1322.1 1005.4l12.8 12.8l-12.8 12.8l-12.8 -12.8Z" fill="#8cc220"/><path d="M1322.1 954.2l12.8 12.8l-12.8 12.8l-12.8 -12.8Z" fill="#f07318"/><text x="1270.9" y="949.4" font-size="29" text-anchor="middle">x</text><text x="1245.3" y="1000.6" font-size="29" text-anchor="middle">x</text><text x="1322.1" y="1000.6" font-size="29" text-anchor="middle">x</text>
<path d="M1008.3 1074.3l12.8 12.8l-12.8 12.8l-12.8 -12.8ZM1033.9 1074.3l12.8 12.8l-12.8 12.8l-12.8 -12.8ZM1059.5 1074.3l12.8 12.8l-12.8 12.8l-12.8 -12.8ZM1085.1 1074.3l12.8 12.8l-12.8 12.8l-12.8 -12.8ZM1008.3 1099.9l12.8 12.8l-12.8 12.8l-12.8 -12.8ZM1033.9 1099.9l12.8 12.8l-12.8 12.8l-12.8 -12.8ZM1059.5 1099.9l12.8 12.8l-12.8 12.8l-12.8 -12.8ZM1085.1 1099.9l12.8 12.8l-12.8 12.8l-12.8 -12.8ZM1008.3 1125.5l12.8 12.8l-12.8 12.8l-12.8 -12.8ZM1033.9 1125.5l12.8 12.8l-12.8 12.8l-12.8 -12.8ZM1059.5 1125.5l12.8 12.8l-12.8 12.8l-12.8 -12.8ZM1085.1 1125.5l12.8 12.8l-12.8 12.8l-12.8 -12.8ZM1008.3 1151.1l12.8 12.8l-12.8 12.8l-12.8 -12.8ZM1033.9 1151.1l12.8 12.8l-12.8 12.8l-12.8 -12.8ZM1059.5 1151.1l12.8 12.8l-12.8 12.8l-12.8 -12.8ZM1085.1 1151.1l12.8 12.8l-12.8 12.8l-12.8 -12.8Z" fill="#f07318"/>
<path d="M1128.5 1074.3l12.8 12.8l-12.8 12.8l-12.8 -12.8ZM1205.3 1074.3l12.8 12.8l-12.8 12.8l-12.8 -12.8ZM1154.1 1099.9l12.8 12.8l-12.8 12.8l-12.8 -12.8ZM1179.8 1099.9l12.8 12.8l-12.8 12.8l-12.8 -12.8ZM1154.1 1125.5l12.8 12.8l-12.8 12.8l-12.8 -12.8ZM1179.8 1125.5l12.8 12.8l-12.8 12.8l-12.8 -12.8ZM1128.5 1151.1l12.8 12.8l-12.8 12.8l-12.8 -12.8ZM1154.1 1151.1l12.8 12.8l-12.8 12.8l-12.8 -12.8ZM1179.8 1151.1l12.8 12.8l-12.8 12.8l-12.8 -12.8ZM1205.3 1151.1l12.8 12.8l-12.8 12.8l-12.8 -12.8Z" fill="#8cc220"/><path d="M1154.1 1074.3l12.8 12.8l-12.8 12.8l-12.8 -12.8ZM1179.8 1074.3l12.8 12.8l-12.8 12.8l-12.8 -12.8ZM1128.5 1099.9l12.8 12.8l-12.8 12.8l-12.8 -12.8ZM1205.3 1099.9l12.8 12.8l-12.8 12.8l-12.8 -12.8ZM1128.5 1125.5l12.8 12.8l-12.8 12.8l-12.8 -12.8ZM1205.3 1125.5l12.8 12.8l-12.8 12.8l-12.8 -12.8Z" fill="#f54e1b"/>
<path d="M1245.3 1074.3l12.8 12.8l-12.8 12.8l-12.8 -12.8ZM1322.1 1074.3l12.8 12.8l-12.8 12.8l-12.8 -12.8ZM1270.9 1099.9l12.8 12.8l-12.8 12.8l-12.8 -12.8ZM1296.5 1099.9l12.8 12.8l-12.8 12.8l-12.8 -12.8ZM1270.9 1125.5l12.8 12.8l-12.8 12.8l-12.8 -12.8ZM1296.5 1125.5l12.8 12.8l-12.8 12.8l-12.8 -12.8ZM1245.3 1151.1l12.8 12.8l-12.8 12.8l-12.8 -12.8ZM1270.9 1151.1l12.8 12.8l-12.8 12.8l-12.8 -12.8ZM1296.5 1151.1l12.8 12.8l-12.8 12.8l-12.8 -12.8ZM1322.1 1151.1l12.8 12.8l-12.8 12.8l-12.8 -12.8Z" fill="#8cc220"/><path d="M1296.5 1074.3l12.8 12.8l-12.8 12.8l-12.8 -12.8ZM1322.1 1099.9l12.8 12.8l-12.8 12.8l-12.8 -12.8ZM1245.3 1125.5l12.8 12.8l-12.8 12.8l-12.8 -12.8Z" fill="#f54e1b"/><text x="1270.9" y="1095.1" font-size="29" text-anchor="middle">x</text><text x="1245.3" y="1120.7" font-size="29" text-anchor="middle">x</text><text x="1322.1" y="1146.3" font-size="29" text-anchor="middle">x</text>
<path d="M1008.3 1224.5l12.8 12.8l-12.8 12.8l-12.8 -12.8ZM1033.9 1224.5l12.8 12.8l-12.8 12.8l-12.8 -12.8ZM1059.5 1224.5l12.8 12.8l-12.8 12.8l-12.8 -12.8ZM1085.1 1224.5l12.8 12.8l-12.8 12.8l-12.8 -12.8ZM1008.3 1250.1l12.8 12.8l-12.8 12.8l-12.8 -12.8ZM1033.9 1250.1l12.8 12.8l-12.8 12.8l-12.8 -12.8ZM1059.5 1250.1l12.8 12.8l-12.8 12.8l-12.8 -12.8ZM1085.1 1250.1l12.8 12.8l-12.8 12.8l-12.8 -12.8ZM1008.3 1275.7l12.8 12.8l-12.8 12.8l-12.8 -12.8ZM1033.9 1275.7l12.8 12.8l-12.8 12.8l-12.8 -12.8ZM1059.5 1275.7l12.8 12.8l-12.8 12.8l-12.8 -12.8ZM1085.1 1275.7l12.8 12.8l-12.8 12.8l-12.8 -12.8ZM1008.3 1301.3l12.8 12.8l-12.8 12.8l-12.8 -12.8ZM1033.9 1301.3l12.8 12.8l-12.8 12.8l-12.8 -12.8ZM1059.5 1301.3l12.8 12.8l-12.8 12.8l-12.8 -12.8ZM1085.1 1301.3l12.8 12.8l-12.8 12.8l-12.8 -12.8Z" fill="#f54e1b"/>
<path d="M1128.5 1224.5l12.8 12.8l-12.8 12.8l-12.8 -12.8ZM1154.1 1224.5l12.8 12.8l-12.8 12.8l-12.8 -12.8ZM1179.8 1224.5l12.8 12.8l-12.8 12.8l-12.8 -12.8ZM1205.3 1224.5l12.8 12.8l-12.8 12.8l-12.8 -12.8ZM1128.5 1250.1l12.8 12.8l-12.8 12.8l-12.8 -12.8ZM1154.1 1250.1l12.8 12.8l-12.8 12.8l-12.8 -12.8ZM1179.8 1250.1l12.8 12.8l-12.8 12.8l-12.8 -12.8ZM1205.3 1250.1l12.8 12.8l-12.8 12.8l-12.8 -12.8ZM1128.5 1275.7l12.8 12.8l-12.8 12.8l-12.8 -12.8ZM1154.1 1275.7l12.8 12.8l-12.8 12.8l-12.8 -12.8ZM1179.8 1275.7l12.8 12.8l-12.8 12.8l-12.8 -12.8ZM1205.3 1275.7l12.8 12.8l-12.8 12.8l-12.8 -12.8ZM1128.5 1301.3l12.8 12.8l-12.8 12.8l-12.8 -12.8ZM1154.1 1301.3l12.8 12.8l-12.8 12.8l-12.8 -12.8ZM1179.8 1301.3l12.8 12.8l-12.8 12.8l-12.8 -12.8ZM1205.3 1301.3l12.8 12.8l-12.8 12.8l-12.8 -12.8Z" fill="#f54e1b"/>
<path d="M1245.3 1224.5l12.8 12.8l-12.8 12.8l-12.8 -12.8ZM1296.5 1224.5l12.8 12.8l-12.8 12.8l-12.8 -12.8ZM1322.1 1224.5l12.8 12.8l-12.8 12.8l-12.8 -12.8ZM1245.3 1250.1l12.8 12.8l-12.8 12.8l-12.8 -12.8ZM1270.9 1250.1l12.8 12.8l-12.8 12.8l-12.8 -12.8ZM1296.5 1250.1l12.8 12.8l-12.8 12.8l-12.8 -12.8ZM1322.1 1250.1l12.8 12.8l-12.8 12.8l-12.8 -12.8ZM1270.9 1275.7l12.8 12.8l-12.8 12.8l-12.8 -12.8ZM1296.5 1275.7l12.8 12.8l-12.8 12.8l-12.8 -12.8ZM1245.3 1301.3l12.8 12.8l-12.8 12.8l-12.8 -12.8ZM1270.9 1301.3l12.8 12.8l-12.8 12.8l-12.8 -12.8ZM1296.5 1301.3l12.8 12.8l-12.8 12.8l-12.8 -12.8ZM1322.1 1301.3l12.8 12.8l-12.8 12.8l-12.8 -12.8Z" fill="#f54e1b"/><text x="1270.9" y="1245.3" font-size="29" text-anchor="middle">x</text><text x="1245.3" y="1296.5" font-size="29" text-anchor="middle">x</text><text x="1322.1" y="1296.5" font-size="29" text-anchor="middle">x</text>
<linearGradient id="ev" gradientUnits="userSpaceOnUse" x1="0" y1="625" x2="0" y2="1355"><stop offset="0" stop-color="#1eab3e"/><stop offset="1" stop-color="#e9571a"/></linearGradient>
<path d="M1368.2 624.6H1385.7V1310.2H1402.7L1377 1355L1351 1310.2H1368.2Z" fill="url(#ev)"/>
<text x="943" y="620.3" font-size="56" font-weight="bold">e</text>
<text x="1366" y="620.3" font-size="40" textLength="77.5" lengthAdjust="spacing">Fast</text>
<text x="1361" y="1399.5" font-size="40" textLength="85" lengthAdjust="spacing">Slow</text>
<text font-size="40" text-anchor="middle" transform="translate(1435.6 953) rotate(-90)" textLength="454.5" lengthAdjust="spacing">Speed of spectral change</text>
<text x="983" y="1390.5" font-size="42">x</text>
<path d="M1021 1365H1083M1062 1357.5L1084 1365L1062 1372.5M1085 1389.8H1023M1044 1382.3L1022 1389.8L1044 1397.3" stroke="#231815" stroke-width="2.8" fill="none" stroke-linejoin="miter"/>
<text x="1101.5" y="1369.6" font-size="32" textLength="246" lengthAdjust="spacing">Iodine-rich phase</text>
<text x="1143.3" y="1407.3" font-size="32" textLength="169.5" lengthAdjust="spacing">degradation</text>
</g>
<g>
<path d="M1630 684.3C1634.2 684.8 1647 686.9 1655 687.5C1663 688.1 1670.4 688.3 1677.9 688.1C1685.4 687.9 1693.3 687.4 1700 686.5C1706.7 685.6 1712.7 683.6 1718 682.5C1723.3 681.4 1728.2 680.5 1732 680.1C1735.8 679.7 1738.3 679.5 1741 680.1C1743.7 680.8 1745.7 681.6 1748 684C1750.3 686.4 1751.8 688 1755 694.5C1758.2 701 1763.1 712 1767.3 723.2C1771.5 734.4 1775.8 746.6 1780 761.5C1784.2 776.4 1789.1 798.2 1792.8 812.6C1796.5 827 1799.2 837.6 1802.4 847.7C1805.6 857.8 1808.3 866.3 1812 873.2C1815.7 880.1 1818.9 884.9 1824.7 889.2C1830.5 893.5 1838 896.1 1847.1 898.8C1856.1 901.5 1865.7 903.1 1879 905.2C1892.3 907.3 1905.6 909 1926.9 911.5C1948.2 914 1993.4 918.8 2006.7 920.2" fill="none" stroke="#ffd27a" stroke-width="2.8" />
<path d="M1630 700.9C1634.8 702.5 1649.7 708 1658.7 710.4C1667.8 712.8 1676.8 715.2 1684.3 715.2C1691.8 715.2 1697.6 713.3 1703.4 710.4C1709.2 707.5 1714.6 702.1 1719.4 697.7C1724.2 693.3 1728.7 686.7 1732.2 683.8C1735.7 680.9 1737.8 679.6 1740.5 680.1C1743.2 680.6 1745.2 681.5 1748.1 686.5C1751 691.5 1754 699 1757.7 710.4C1761.4 721.8 1766.2 740.2 1770.5 755.1C1774.8 770 1779 788.1 1783.2 799.8C1787.5 811.5 1790.7 817.4 1796 825.4C1801.3 833.4 1808.8 841.9 1815.2 847.7C1821.6 853.6 1826.3 856.2 1834.3 860.5C1842.3 864.8 1850.2 868.4 1863 873.2C1875.8 878 1894.9 884.4 1910.9 889.2C1926.9 894 1942.8 897.9 1958.8 902C1974.8 906.1 1998.7 912.1 2006.7 914.1" fill="none" stroke="#8fce7a" stroke-width="2.8" />
<path d="M1630 703.4C1634.8 705.2 1649.1 711.5 1658.7 714.3C1668.3 717.1 1679.5 719.9 1687.5 720C1695.5 720.1 1700.8 718.4 1706.6 715.2C1712.4 712 1717.8 706.1 1722.6 700.9C1727.4 695.7 1732.2 687.5 1735.4 684C1738.6 680.5 1739.4 679.1 1741.5 680.1C1743.6 681.1 1745.7 683.1 1748.1 689.7C1750.5 696.4 1753.2 707 1756.1 720C1759 733 1762.5 751.9 1765.7 767.9C1768.9 783.9 1771.8 802.5 1775.3 815.8C1778.8 829.1 1782.4 839.7 1786.4 847.7C1790.4 855.7 1793.9 858.9 1799.2 863.7C1804.5 868.5 1810.4 872.4 1818.4 876.4C1826.4 880.4 1834.3 883.6 1847.1 887.6C1859.9 891.6 1876.4 896.4 1895 900.4C1913.6 904.4 1940.2 908.6 1958.8 911.5C1977.4 914.4 1998.7 916.8 2006.7 917.9" fill="none" stroke="#4a9a3a" stroke-width="2.8" />
<path d="M1676.3 620.4H1732.2" stroke="#ffd27a" stroke-width="2.6"/>
<path d="M1676.3 645.6H1732.2" stroke="#8fce7a" stroke-width="2.6"/>
<path d="M1676.3 673.7H1732.2" stroke="#4a9a3a" stroke-width="2.6"/>
<text x="1749" y="628.4" font-size="24" fill="#ffd27a" textLength="182.5" lengthAdjust="spacing">No UV irradiation</text>
<text x="1746" y="651.4" font-size="24" fill="#8fce7a" textLength="260.5" lengthAdjust="spacing">Short UV irradiation time</text>
<text x="1746" y="677.6" font-size="24" fill="#4a9a3a" textLength="257.5" lengthAdjust="spacing">Long UV irradiation time</text>
<text x="1801.7" y="735.3" font-size="24" fill="#8fce7a" textLength="67" lengthAdjust="spacing">Phase</text>
<text x="1782.6" y="764" font-size="24" fill="#8fce7a" textLength="111" lengthAdjust="spacing">separation</text>
<text x="1821.5" y="795" font-size="24" fill="#4a9a3a" textLength="183" lengthAdjust="spacing">Iodine-rich phase</text>
<text x="1852.8" y="823.8" font-size="24" fill="#4a9a3a" textLength="126" lengthAdjust="spacing">degradation</text>
<path d="M1833.7 859.8L1810 788.2" stroke="#8fce7a" stroke-width="2.6" fill="none"/><path d="M1806.2 776.8L1815.8 788.4L1805.4 791.8Z" fill="#8fce7a"/>
<path d="M1834.9 879L1869.5 844.9" stroke="#4a9a3a" stroke-width="2.6" fill="none"/><path d="M1878 836.5L1871.9 850.2L1864.2 842.4Z" fill="#4a9a3a"/>
<rect x="1630" y="607.3" width="376.7" height="316.4" fill="none" stroke="#000" stroke-width="2.5"/>
<path d="M1630 923.7v8M1755.5 923.7v8M1881.1 923.7v8M2006.7 923.7v8" stroke="#000" stroke-width="2.5" fill="none"/>
<path d="M1692.8 923.7v4.5M1818.3 923.7v4.5M1943.9 923.7v4.5" stroke="#000" stroke-width="2.5" fill="none"/>
<text x="1627" y="968" font-size="38.5" text-anchor="middle" textLength="60" lengthAdjust="spacing">500</text>
<text x="1752.5" y="968" font-size="38.5" text-anchor="middle" textLength="60" lengthAdjust="spacing">550</text>
<text x="1878.1" y="968" font-size="38.5" text-anchor="middle" textLength="60" lengthAdjust="spacing">600</text>
<text x="2003.7" y="968" font-size="38.5" text-anchor="middle" textLength="60" lengthAdjust="spacing">650</text>
<text x="1815.2" y="1005.5" font-size="38.5" text-anchor="middle" textLength="274.5" lengthAdjust="spacing">Wavelength (nm)</text>
<text font-size="40" text-anchor="middle" transform="translate(1585.3 762.8) rotate(-90)" textLength="321.5" lengthAdjust="spacing">Absorbance (arb.u.)</text>
<text x="1503" y="619.5" font-size="56" font-weight="bold">f</text>
</g>
<g>
<path d="M1629.4 1267.9L1630 1268.1L1630.7 1268L1631.3 1268.2L1631.9 1268.2L1632.5 1267.8L1633.2 1267.8L1633.8 1268.3L1634.4 1267.9L1635 1267.9L1635.7 1268.4L1636.3 1268.1L1636.9 1268.3L1637.6 1268.1L1638.2 1268.2L1638.8 1267.9L1639.4 1268.2L1640.1 1268.3L1640.7 1268.1L1641.3 1268.2L1642 1268.2L1642.6 1267.8L1643.2 1268.2L1643.8 1268.1L1644.5 1268L1645.1 1267.8L1645.7 1268.3L1646.3 1268.1L1647 1268.2L1647.6 1268.3L1648.2 1268.2L1648.9 1268.3L1649.5 1268L1650.1 1268.3L1650.7 1268L1651.4 1268.3L1652 1268.3L1652.6 1267.8L1653.3 1267.9L1653.9 1267.9L1654.5 1268.4L1655.1 1268L1655.8 1268.1L1656.4 1267.9L1657 1268.1L1657.6 1268L1658.3 1268L1658.9 1268.1L1659.5 1268.1L1660.2 1268.3L1660.8 1268.2L1661.4 1268.3L1662 1268.3L1662.7 1268.3L1663.3 1268.1L1663.9 1267.8L1664.5 1268.2L1665.2 1268.3L1665.8 1268.3L1666.4 1268L1667.1 1268.1L1667.7 1267.8L1668.3 1268.2L1668.9 1268L1669.6 1267.8L1670.2 1267.7L1670.8 1268.1L1671.5 1268.2L1672.1 1267.6L1672.7 1268L1673.3 1267.7L1674 1267.5L1674.6 1267.5L1675.2 1267.8L1675.8 1267.7L1676.5 1267.1L1677.1 1267.4L1677.7 1266.9L1678.4 1267.1L1679 1266.6L1679.6 1266.5L1680.2 1266.1L1680.9 1265.2L1681.5 1264.5L1682.1 1262.7L1682.8 1260.5L1683.4 1257.6L1684 1251.9L1684.6 1242.9L1685.3 1226.7L1685.9 1197.6L1686.5 1150.5L1687.1 1101.2L1687.8 1097.6L1688.4 1143.6L1689 1192.7L1689.7 1224L1690.3 1241.3L1690.9 1251.2L1691.5 1257L1692.2 1260.5L1692.8 1262.7L1693.4 1264.1L1694 1265.1L1694.7 1266L1695.3 1266.3L1695.9 1266.6L1696.6 1267L1697.2 1266.9L1697.8 1267.2L1698.4 1267.7L1699.1 1267.5L1699.7 1267.6L1700.3 1267.4L1701 1267.7L1701.6 1267.8L1702.2 1267.5L1702.8 1267.9L1703.5 1268L1704.1 1267.6L1704.7 1268L1705.3 1267.9L1706 1268.1L1706.6 1267.9L1707.2 1268.1L1707.9 1268.1L1708.5 1267.7L1709.1 1267.7L1709.7 1268.1L1710.4 1268.3L1711 1267.9L1711.6 1268L1712.3 1268.1L1712.9 1267.9L1713.5 1268L1714.1 1267.9L1714.8 1268L1715.4 1268.1L1716 1267.9L1716.6 1268L1717.3 1268.2L1717.9 1267.8L1718.5 1268.1L1719.2 1268.2L1719.8 1268L1720.4 1267.9L1721 1268.3L1721.7 1267.9L1722.3 1267.9L1722.9 1268L1723.6 1268.2L1724.2 1267.8L1724.8 1268L1725.4 1268L1726.1 1268.3L1726.7 1268L1727.3 1268.3L1727.9 1267.9L1728.6 1268L1729.2 1268.2L1729.8 1268.3L1730.5 1268.1L1731.1 1267.9L1731.7 1267.9L1732.3 1268.1L1733 1267.9L1733.6 1268.3L1734.2 1268.3L1734.8 1267.9L1735.5 1268L1736.1 1268.3L1736.7 1268.2L1737.4 1268.3L1738 1268L1738.6 1267.9L1739.2 1268L1739.9 1268.3L1740.5 1268L1741.1 1268L1741.8 1268L1742.4 1268L1743 1268L1743.6 1268.3L1744.3 1267.9L1744.9 1267.8L1745.5 1268.4L1746.1 1268.3L1746.8 1268.4L1747.4 1268.1L1748 1268.4L1748.7 1268.4L1749.3 1267.9L1749.9 1268.2L1750.5 1268.3L1751.2 1268.2L1751.8 1268.1L1752.4 1268L1753.1 1268L1753.7 1267.9L1754.3 1267.8L1754.9 1268.1L1755.6 1268L1756.2 1268.3L1756.8 1267.8L1757.4 1268.3L1758.1 1268.2L1758.7 1268.4L1759.3 1268.3L1760 1268.3L1760.6 1268.1L1761.2 1267.8L1761.8 1268.2L1762.5 1267.9L1763.1 1268L1763.7 1268.2L1764.3 1268.1L1765 1268L1765.6 1268.4L1766.2 1268.2L1766.9 1268L1767.5 1267.9L1768.1 1268.3L1768.7 1268.1L1769.4 1268.3L1770 1268L1770.6 1267.9L1771.3 1268.1L1771.9 1268.3L1772.5 1267.9L1773.1 1268.3L1773.8 1268.4L1774.4 1268.3L1775 1268.3L1775.6 1267.8L1776.3 1268.2L1776.9 1268.3L1777.5 1267.8L1778.2 1268L1778.8 1268L1779.4 1268.1L1780 1268.1L1780.7 1268.1L1781.3 1268.3L1781.9 1267.8L1782.6 1267.8L1783.2 1267.9L1783.8 1267.9L1784.4 1267.8L1785.1 1268.4L1785.7 1268.3L1786.3 1267.8L1786.9 1268.1L1787.6 1268L1788.2 1268L1788.8 1268L1789.5 1268.2L1790.1 1268.1L1790.7 1268L1791.3 1267.9L1792 1268L1792.6 1267.9L1793.2 1268.1L1793.8 1268.2L1794.5 1268L1795.1 1267.8L1795.7 1267.9L1796.4 1268L1797 1268.2L1797.6 1268.3L1798.2 1268L1798.9 1268.3L1799.5 1268.2L1800.1 1268.1L1800.8 1268L1801.4 1268.1L1802 1268.2L1802.6 1268L1803.3 1268.2L1803.9 1268.1L1804.5 1267.9L1805.1 1268.1L1805.8 1268.2L1806.4 1267.8L1807 1268.1L1807.7 1268.1L1808.3 1268.3L1808.9 1268.4L1809.5 1268L1810.2 1268.3L1810.8 1268.3L1811.4 1268L1812.1 1268.1L1812.7 1267.9L1813.3 1268.3L1813.9 1268.2L1814.6 1268.3L1815.2 1268.3L1815.8 1268.2L1816.4 1268.2L1817.1 1268.1L1817.7 1267.9L1818.3 1268.1L1819 1267.8L1819.6 1267.9L1820.2 1268.3L1820.8 1267.8L1821.5 1267.8L1822.1 1267.9L1822.7 1268.3L1823.3 1267.9L1824 1267.8L1824.6 1268.3L1825.2 1267.9L1825.9 1268.3L1826.5 1268.2L1827.1 1268.3L1827.7 1268.4L1828.4 1268.1L1829 1268.3L1829.6 1267.8L1830.3 1268.2L1830.9 1268.1L1831.5 1268.2L1832.1 1267.9L1832.8 1268.2L1833.4 1268.3L1834 1267.8L1834.6 1268L1835.3 1268.1L1835.9 1268.3L1836.5 1267.9L1837.2 1267.9L1837.8 1267.9L1838.4 1268.1L1839 1268.2L1839.7 1268L1840.3 1268L1840.9 1268L1841.6 1268L1842.2 1268L1842.8 1267.8L1843.4 1268.1L1844.1 1268.3L1844.7 1268L1845.3 1268.2L1845.9 1267.8L1846.6 1268.2L1847.2 1268.2L1847.8 1268.1L1848.5 1268L1849.1 1268L1849.7 1268.1L1850.3 1268.2L1851 1267.8L1851.6 1267.7L1852.2 1268.1L1852.8 1268.2L1853.5 1267.9L1854.1 1267.8L1854.7 1268L1855.4 1267.6L1856 1267.6L1856.6 1267.5L1857.2 1267.6L1857.9 1267.4L1858.5 1267.2L1859.1 1267.3L1859.8 1267.2L1860.4 1266.4L1861 1266.2L1861.6 1265.3L1862.3 1264.5L1862.9 1262.7L1863.5 1259.8L1864.1 1255.1L1864.8 1246.6L1865.4 1231.3L1866 1203.4L1866.7 1165.9L1867.3 1149.5L1867.9 1176L1868.5 1212.7L1869.2 1236.3L1869.8 1250L1870.4 1256.8L1871.1 1260.9L1871.7 1263.2L1872.3 1264.8L1872.9 1265.8L1873.6 1266.3L1874.2 1266.6L1874.8 1267.1L1875.4 1267.4L1876.1 1267.3L1876.7 1267.6L1877.3 1267.9L1878 1267.7L1878.6 1267.6L1879.2 1267.6L1879.8 1268L1880.5 1268L1881.1 1268.2L1881.7 1268.1L1882.3 1267.8L1883 1267.8L1883.6 1267.8L1884.2 1267.8L1884.9 1268.1L1885.5 1268.2L1886.1 1268.3L1886.7 1267.9L1887.4 1268.3L1888 1267.9L1888.6 1268L1889.3 1268.2L1889.9 1267.8L1890.5 1267.8L1891.1 1268.3L1891.8 1267.9L1892.4 1268L1893 1268.1L1893.6 1268.2L1894.3 1267.8L1894.9 1268L1895.5 1268L1896.2 1268.1L1896.8 1267.9L1897.4 1268.1L1898 1268.4L1898.7 1268L1899.3 1268.1L1899.9 1267.9L1900.6 1268L1901.2 1268.2L1901.8 1267.9L1902.4 1268.3L1903.1 1268.3L1903.7 1267.8L1904.3 1268.4L1904.9 1268L1905.6 1268.3L1906.2 1268.2L1906.8 1268L1907.5 1268.2L1908.1 1268.2L1908.7 1268.3L1909.3 1268L1910 1268.2L1910.6 1268.4L1911.2 1268.2L1911.8 1268.1L1912.5 1267.9L1913.1 1268.1L1913.7 1268L1914.4 1268.2L1915 1268.2L1915.6 1268.1L1916.2 1267.9L1916.9 1268.2L1917.5 1268.2L1918.1 1267.9L1918.8 1268.3L1919.4 1268.2L1920 1267.9L1920.6 1268.4L1921.3 1267.9L1921.9 1268L1922.5 1268.2L1923.1 1268.2L1923.8 1268.1L1924.4 1268.2L1925 1268.1L1925.7 1268L1926.3 1267.9L1926.9 1267.8L1927.5 1268.2L1928.2 1268.3L1928.8 1268.1L1929.4 1268.2L1930.1 1268L1930.7 1268L1931.3 1268L1931.9 1268.3L1932.6 1267.8L1933.2 1268.1L1933.8 1267.9L1934.4 1268.3L1935.1 1268L1935.7 1268L1936.3 1268L1937 1268.1L1937.6 1268.3L1938.2 1268L1938.8 1268.3L1939.5 1267.9L1940.1 1268L1940.7 1267.9L1941.4 1267.9L1942 1268.3L1942.6 1268.2L1943.2 1267.9L1943.9 1267.9L1944.5 1268L1945.1 1268.2L1945.7 1268.3L1946.4 1268.2L1947 1268.2L1947.6 1267.9L1948.3 1268L1948.9 1267.9L1949.5 1268.1L1950.1 1268.1L1950.8 1267.9L1951.4 1267.9L1952 1268.3L1952.6 1267.8L1953.3 1268.3L1953.9 1268.3L1954.5 1268.4L1955.2 1268L1955.8 1268.1L1956.4 1268.1L1957 1268.2L1957.7 1268.4L1958.3 1268.2L1958.9 1268L1959.6 1268.3L1960.2 1268.1L1960.8 1268.2L1961.4 1268.2L1962.1 1267.8L1962.7 1268.3L1963.3 1268.2L1963.9 1268.1L1964.6 1268.1L1965.2 1268.1L1965.8 1267.9L1966.5 1268.1L1967.1 1267.8L1967.7 1268.1L1968.3 1268.2L1969 1268.1L1969.6 1268.1L1970.2 1268.4L1970.9 1268.3L1971.5 1267.9L1972.1 1268.3L1972.7 1268.2L1973.4 1267.8L1974 1268L1974.6 1267.9L1975.2 1267.8L1975.9 1268.1L1976.5 1268.4L1977.1 1268L1977.8 1268.3L1978.4 1268.2L1979 1267.9L1979.6 1268.3L1980.3 1268.2L1980.9 1268.4L1981.5 1268.2L1982.1 1268.2L1982.8 1268L1983.4 1268.3L1984 1268.4L1984.7 1268.3L1985.3 1268.1L1985.9 1268.3L1986.5 1268.1L1987.2 1267.9L1987.8 1267.8L1988.4 1267.8L1989.1 1267.9L1989.7 1267.9L1990.3 1268.1L1990.9 1268.2L1991.6 1268.1L1992.2 1268.1L1992.8 1268.2L1993.4 1268L1994.1 1268.1L1994.7 1268.3L1995.3 1268L1996 1267.9L1996.6 1268.3L1997.2 1268.2L1997.8 1268L1998.5 1268L1999.1 1268.1L1999.7 1268.2L2000.4 1267.9L2001 1267.8L2001.6 1267.9L2002.2 1268.3L2002.9 1267.9L2003.5 1268.1L2004.1 1267.9L2004.7 1267.9L2005.4 1267.9L2006 1268" stroke="#ffd27a" stroke-width="2.2" fill="none" stroke-linejoin="round"/>
<path d="M1629.4 1341.6L1630 1341.8L1630.7 1341.8L1631.3 1342L1631.9 1341.8L1632.5 1342L1633.2 1340.9L1633.8 1341.5L1634.4 1342L1635 1341.7L1635.7 1342L1636.3 1341L1636.9 1341.5L1637.6 1341.2L1638.2 1341.5L1638.8 1341.6L1639.4 1340.9L1640.1 1341.1L1640.7 1341.2L1641.3 1342L1642 1341.8L1642.6 1341.1L1643.2 1341.8L1643.8 1341L1644.5 1341.6L1645.1 1341L1645.7 1340.9L1646.3 1341.9L1647 1341.1L1647.6 1341.1L1648.2 1342L1648.9 1341.9L1649.5 1341.2L1650.1 1342L1650.7 1341.5L1651.4 1341.6L1652 1341.1L1652.6 1341.9L1653.3 1341.6L1653.9 1341.9L1654.5 1341.8L1655.1 1341.1L1655.8 1341.1L1656.4 1340.8L1657 1340.8L1657.6 1340.6L1658.3 1340.7L1658.9 1340.9L1659.5 1340L1660.2 1340.4L1660.8 1339.4L1661.4 1338.5L1662 1337.7L1662.7 1335.1L1663.3 1331.8L1663.9 1328.8L1664.5 1327.7L1665.2 1328.7L1665.8 1333.1L1666.4 1335L1667.1 1337.9L1667.7 1339.3L1668.3 1339.2L1668.9 1340.6L1669.6 1340.4L1670.2 1340.9L1670.8 1340.4L1671.5 1340.5L1672.1 1340.8L1672.7 1341.8L1673.3 1340.9L1674 1341.6L1674.6 1341.8L1675.2 1341.8L1675.8 1341.1L1676.5 1341.1L1677.1 1341.3L1677.7 1341.6L1678.4 1340.8L1679 1341.6L1679.6 1341.6L1680.2 1341.6L1680.9 1340.6L1681.5 1341.6L1682.1 1340.5L1682.8 1340.6L1683.4 1340.8L1684 1340.8L1684.6 1339.7L1685.3 1339.7L1685.9 1338.1L1686.5 1335.9L1687.1 1332.3L1687.8 1325.1L1688.4 1311.2L1689 1288.6L1689.7 1272.8L1690.3 1286.2L1690.9 1308.6L1691.5 1323.5L1692.2 1332.4L1692.8 1335.8L1693.4 1337.8L1694 1338.8L1694.7 1339.9L1695.3 1340.7L1695.9 1340.6L1696.6 1340.7L1697.2 1340.4L1697.8 1341.6L1698.4 1340.6L1699.1 1341.2L1699.7 1341.7L1700.3 1340.9L1701 1341.6L1701.6 1341.9L1702.2 1341.5L1702.8 1341.7L1703.5 1340.9L1704.1 1341.3L1704.7 1341L1705.3 1341.9L1706 1341.2L1706.6 1341.4L1707.2 1342.1L1707.9 1341.9L1708.5 1342L1709.1 1341.4L1709.7 1341.5L1710.4 1341.7L1711 1341.4L1711.6 1341.2L1712.3 1341.4L1712.9 1341.1L1713.5 1341.3L1714.1 1342.1L1714.8 1342L1715.4 1341.6L1716 1341.5L1716.6 1341.3L1717.3 1341L1717.9 1341.2L1718.5 1341.8L1719.2 1341.9L1719.8 1341.3L1720.4 1341.8L1721 1341.8L1721.7 1341.7L1722.3 1341.7L1722.9 1341.8L1723.6 1341.3L1724.2 1341.7L1724.8 1341.2L1725.4 1341.5L1726.1 1341.8L1726.7 1341.7L1727.3 1341.2L1727.9 1342L1728.6 1341.7L1729.2 1341.6L1729.8 1340.9L1730.5 1341.6L1731.1 1341.2L1731.7 1341.7L1732.3 1341.5L1733 1341.9L1733.6 1341.7L1734.2 1341.9L1734.8 1341.3L1735.5 1341.7L1736.1 1341.8L1736.7 1341.9L1737.4 1341.3L1738 1341.9L1738.6 1341.9L1739.2 1341.7L1739.9 1342.1L1740.5 1342L1741.1 1341.5L1741.8 1341.5L1742.4 1341.1L1743 1341.9L1743.6 1342L1744.3 1341.5L1744.9 1341.7L1745.5 1341.8L1746.1 1341.8L1746.8 1341.1L1747.4 1341.8L1748 1341.6L1748.7 1341.7L1749.3 1341.4L1749.9 1341.6L1750.5 1341.8L1751.2 1341.7L1751.8 1341.8L1752.4 1340.9L1753.1 1341.1L1753.7 1341.4L1754.3 1341.7L1754.9 1341.2L1755.6 1341.7L1756.2 1341.7L1756.8 1340.9L1757.4 1341.5L1758.1 1341.2L1758.7 1341L1759.3 1341.1L1760 1341.3L1760.6 1341.1L1761.2 1341.1L1761.8 1340.9L1762.5 1341.5L1763.1 1341.4L1763.7 1341.6L1764.3 1341.6L1765 1341.2L1765.6 1342L1766.2 1340.9L1766.9 1341.4L1767.5 1341.2L1768.1 1341.4L1768.7 1341L1769.4 1341.9L1770 1341.3L1770.6 1340.9L1771.3 1341.6L1771.9 1341L1772.5 1341.6L1773.1 1341.3L1773.8 1341.6L1774.4 1342L1775 1341.9L1775.6 1341.4L1776.3 1341.9L1776.9 1341.7L1777.5 1341.3L1778.2 1341.1L1778.8 1341.6L1779.4 1341.6L1780 1342L1780.7 1342.1L1781.3 1341.6L1781.9 1341.3L1782.6 1342L1783.2 1340.9L1783.8 1341L1784.4 1341.6L1785.1 1341.6L1785.7 1341.1L1786.3 1341.7L1786.9 1342L1787.6 1341.4L1788.2 1341.4L1788.8 1341.2L1789.5 1341.2L1790.1 1342.1L1790.7 1341.4L1791.3 1342.1L1792 1342L1792.6 1341.6L1793.2 1341.2L1793.8 1342.1L1794.5 1341.5L1795.1 1341.4L1795.7 1341.3L1796.4 1342.1L1797 1341.5L1797.6 1341.2L1798.2 1341.5L1798.9 1341L1799.5 1341.6L1800.1 1341.4L1800.8 1341.3L1801.4 1341.8L1802 1341.9L1802.6 1340.9L1803.3 1341.5L1803.9 1341.2L1804.5 1342L1805.1 1341.8L1805.8 1341.2L1806.4 1341.2L1807 1341.1L1807.7 1342.1L1808.3 1341.3L1808.9 1341.6L1809.5 1341.5L1810.2 1341.7L1810.8 1341.6L1811.4 1341.8L1812.1 1341L1812.7 1341.8L1813.3 1341.3L1813.9 1341.5L1814.6 1341.3L1815.2 1341.3L1815.8 1341.5L1816.4 1341.5L1817.1 1341.3L1817.7 1341.8L1818.3 1341.6L1819 1340.9L1819.6 1341.2L1820.2 1341.4L1820.8 1342L1821.5 1342L1822.1 1341.6L1822.7 1340.9L1823.3 1341.8L1824 1341.4L1824.6 1341.6L1825.2 1341.7L1825.9 1341.7L1826.5 1341.5L1827.1 1342L1827.7 1341.4L1828.4 1341.4L1829 1341.9L1829.6 1341.1L1830.3 1341.3L1830.9 1341.9L1831.5 1341L1832.1 1341.9L1832.8 1341.7L1833.4 1341.4L1834 1341.2L1834.6 1341.8L1835.3 1342L1835.9 1341.1L1836.5 1341.5L1837.2 1341.6L1837.8 1341.5L1838.4 1341.3L1839 1341.1L1839.7 1341.6L1840.3 1341.9L1840.9 1341L1841.6 1341.2L1842.2 1341.9L1842.8 1341.8L1843.4 1341.7L1844.1 1340.9L1844.7 1341.8L1845.3 1342.1L1845.9 1342.1L1846.6 1341.7L1847.2 1341L1847.8 1341.9L1848.5 1341.2L1849.1 1341.7L1849.7 1342L1850.3 1341.7L1851 1341.1L1851.6 1341.2L1852.2 1342L1852.8 1341.1L1853.5 1341.6L1854.1 1341.4L1854.7 1341.1L1855.4 1341.6L1856 1340.9L1856.6 1341L1857.2 1341.3L1857.9 1341L1858.5 1340.9L1859.1 1341.5L1859.8 1341.7L1860.4 1341.9L1861 1341L1861.6 1341.3L1862.3 1341.2L1862.9 1341.5L1863.5 1341.3L1864.1 1341.7L1864.8 1340.9L1865.4 1340.3L1866 1340.7L1866.7 1339.4L1867.3 1338.5L1867.9 1335.2L1868.5 1329.2L1869.2 1320.6L1869.8 1322.4L1870.4 1330.6L1871.1 1336.4L1871.7 1338.5L1872.3 1340.3L1872.9 1340.6L1873.6 1340.5L1874.2 1340.8L1874.8 1341.1L1875.4 1341.6L1876.1 1341L1876.7 1341.6L1877.3 1341.6L1878 1340.9L1878.6 1341.6L1879.2 1341L1879.8 1341L1880.5 1341.6L1881.1 1341.2L1881.7 1341.9L1882.3 1341.5L1883 1341.3L1883.6 1341.8L1884.2 1340.9L1884.9 1341.8L1885.5 1341L1886.1 1341.1L1886.7 1342L1887.4 1341.7L1888 1341.2L1888.6 1341L1889.3 1342.1L1889.9 1341.7L1890.5 1341.9L1891.1 1341.1L1891.8 1341.6L1892.4 1341.3L1893 1341.2L1893.6 1341.3L1894.3 1341.6L1894.9 1341.3L1895.5 1341.4L1896.2 1341.1L1896.8 1341.9L1897.4 1341.7L1898 1341.9L1898.7 1341.4L1899.3 1341.9L1899.9 1341.5L1900.6 1341.6L1901.2 1341.6L1901.8 1341.8L1902.4 1341.4L1903.1 1341L1903.7 1340.9L1904.3 1341.1L1904.9 1340.9L1905.6 1342L1906.2 1341.5L1906.8 1341.8L1907.5 1340.9L1908.1 1341.5L1908.7 1342L1909.3 1341.6L1910 1341.4L1910.6 1341.5L1911.2 1341L1911.8 1341.1L1912.5 1341.1L1913.1 1341.3L1913.7 1341.4L1914.4 1342L1915 1341.1L1915.6 1341.2L1916.2 1341.2L1916.9 1341.1L1917.5 1341.2L1918.1 1341.2L1918.8 1341.5L1919.4 1340.9L1920 1342L1920.6 1341.3L1921.3 1342L1921.9 1341.7L1922.5 1341.7L1923.1 1341.5L1923.8 1342L1924.4 1341L1925 1341.7L1925.7 1341.2L1926.3 1341.7L1926.9 1341.8L1927.5 1341.1L1928.2 1341.1L1928.8 1340.9L1929.4 1341.2L1930.1 1341L1930.7 1341.4L1931.3 1342.1L1931.9 1341.3L1932.6 1341.3L1933.2 1341.5L1933.8 1341.2L1934.4 1341.8L1935.1 1341.8L1935.7 1341.1L1936.3 1341.2L1937 1341.7L1937.6 1342L1938.2 1341.7L1938.8 1341.4L1939.5 1342.1L1940.1 1340.9L1940.7 1341L1941.4 1341.8L1942 1341.4L1942.6 1341L1943.2 1341.6L1943.9 1342.1L1944.5 1341.5L1945.1 1341.3L1945.7 1341L1946.4 1341L1947 1342L1947.6 1341.5L1948.3 1342L1948.9 1341L1949.5 1341.2L1950.1 1341L1950.8 1341.4L1951.4 1341L1952 1341.2L1952.6 1341.4L1953.3 1341.3L1953.9 1341L1954.5 1340.9L1955.2 1342.1L1955.8 1341.1L1956.4 1341.5L1957 1341.4L1957.7 1341.5L1958.3 1341L1958.9 1341.3L1959.6 1341L1960.2 1341.6L1960.8 1342L1961.4 1341.6L1962.1 1341.9L1962.7 1341.2L1963.3 1340.9L1963.9 1341.5L1964.6 1341.5L1965.2 1341.6L1965.8 1341.4L1966.5 1341.7L1967.1 1341.8L1967.7 1342L1968.3 1341.3L1969 1341.4L1969.6 1341.9L1970.2 1341.2L1970.9 1341L1971.5 1341.3L1972.1 1341L1972.7 1341.8L1973.4 1341.9L1974 1341.3L1974.6 1341.1L1975.2 1341L1975.9 1341.2L1976.5 1341L1977.1 1341.4L1977.8 1341.6L1978.4 1341.2L1979 1341L1979.6 1341.7L1980.3 1341L1980.9 1341.1L1981.5 1341.2L1982.1 1341.3L1982.8 1341L1983.4 1341.4L1984 1341.3L1984.7 1341.8L1985.3 1341.6L1985.9 1342L1986.5 1341.7L1987.2 1341.8L1987.8 1341.6L1988.4 1341.4L1989.1 1341.9L1989.7 1341.7L1990.3 1342L1990.9 1341.8L1991.6 1341.7L1992.2 1341.2L1992.8 1341.9L1993.4 1341.4L1994.1 1341.1L1994.7 1341L1995.3 1341.1L1996 1341.2L1996.6 1341.7L1997.2 1341.2L1997.8 1341L1998.5 1341.8L1999.1 1341.6L1999.7 1340.9L2000.4 1341L2001 1341.1L2001.6 1341.3L2002.2 1341.9L2002.9 1342L2003.5 1341.6L2004.1 1341.2L2004.7 1341.4L2005.4 1341.3L2006 1341.3" stroke="#2f7d1f" stroke-width="2.2" fill="none" stroke-linejoin="round"/>
<path d="M1689.7 1196V1273" stroke="#000" stroke-width="2" stroke-dasharray="6.5 3" fill="none"/>
<path d="M1786.4 1075H1805.6" stroke="#ffd27a" stroke-width="2.6"/>
<path d="M1786.4 1103.7H1805.6" stroke="#2f7d1f" stroke-width="2.6"/>
<text x="1812.9" y="1083" font-size="24" fill="#ffd27a" textLength="182.5" lengthAdjust="spacing">No UV irradiation</text>
<text x="1812.9" y="1111.7" font-size="24" fill="#4a9a3a" textLength="144.5" lengthAdjust="spacing">UV irradiation</text>
<text x="1693.2" y="1117.5" font-size="24" textLength="39" lengthAdjust="spacing">110</text>
<text x="1875.8" y="1174" font-size="24" textLength="40" lengthAdjust="spacing">220</text>
<text x="1631.6" y="1296.8" font-size="23">PbI<tspan font-size="15" dy="5">2</tspan></text>
<path d="M1646 1305.5L1656.3 1317.7" stroke="#231815" stroke-width="2" fill="none"/><path d="M1660.8 1323L1652.2 1318.5L1657.7 1313.8Z" fill="#231815"/>
<circle cx="1664.5" cy="1331.3" r="7.2" fill="none" stroke="#231815" stroke-width="2.2" stroke-dasharray="2.8 2.2"/>
<rect x="1629.4" y="1048.5" width="376.6" height="317.1" fill="none" stroke="#000" stroke-width="2.5"/>
<path d="M1629.4 1365.6v8M1754.9 1365.6v8M1880.5 1365.6v8M2006 1365.6v8" stroke="#000" stroke-width="2.5" fill="none"/>
<path d="M1692.2 1365.6v4.5M1817.7 1365.6v4.5M1943.2 1365.6v4.5" stroke="#000" stroke-width="2.5" fill="none"/>
<text x="1634" y="1405.4" font-size="38" text-anchor="middle" textLength="39" lengthAdjust="spacing">10</text>
<text x="1757.5" y="1405.4" font-size="38" text-anchor="middle" textLength="39" lengthAdjust="spacing">20</text>
<text x="1883.5" y="1405.4" font-size="38" text-anchor="middle" textLength="39" lengthAdjust="spacing">30</text>
<text x="2009" y="1405.4" font-size="38" text-anchor="middle" textLength="39" lengthAdjust="spacing">40</text>
<text x="1784.5" y="1444.3" font-size="38" textLength="91" lengthAdjust="spacing">2<tspan font-style="italic">θ</tspan> (°)</text>
<text font-size="40" text-anchor="middle" transform="translate(1609.3 1180.3) rotate(-90)" textLength="262" lengthAdjust="spacing">Intensity (arb.u.)</text>
<text x="1504" y="1041" font-size="56" font-weight="bold">h</text>
</g>
<g>
<defs><filter id="gf1" x="-0.2" y="-0.2" width="1.4" height="1.4"><feGaussianBlur stdDeviation="3"/></filter><filter id="gf2" x="-0.2" y="-0.2" width="1.4" height="1.4"><feGaussianBlur stdDeviation="2.2"/></filter><filter id="gf3" x="-0.1" y="-0.3" width="1.2" height="1.6"><feGaussianBlur stdDeviation="2.8"/></filter><filter id="gtx" x="0" y="0" width="1" height="1" color-interpolation-filters="sRGB"><feTurbulence type="fractalNoise" baseFrequency="0.07" numOctaves="2" seed="4" result="n"/><feColorMatrix in="n" type="matrix" values="0 1.8 0 0 -0.4 0 1.8 0 0 -0.4 0 1.8 0 0 -0.4 0 0 0 0 1" result="m"/><feComposite in="SourceGraphic" in2="m" operator="arithmetic" k1="1.1" k2="0.45" k3="0" k4="0"/></filter></defs>
<rect x="64.3" y="1486.5" width="1015.4" height="164.4" fill="#0a0c06"/>
<rect x="97.1" y="1525.4" width="123.9" height="102.1" fill="#000"/>
<rect x="305.7" y="1525.4" width="123.9" height="102.1" fill="#000"/>
<rect x="519" y="1525.4" width="123.9" height="102.1" fill="#000"/>
<rect x="733.2" y="1525.4" width="123.9" height="102.1" fill="#000"/>
<rect x="950.8" y="1525.4" width="123.9" height="102.1" fill="#000"/>
<g filter="url(#gf1)"><rect x="117" y="1537" width="83.5" height="78.5" rx="10" fill="#ff0a16"/><ellipse cx="165" cy="1554" rx="14" ry="5" fill="#d80812"/></g>
<g filter="url(#gf1)"><rect x="324" y="1537" width="86.5" height="78.5" rx="4" fill="#e01410"/><g filter="url(#gtx)"><ellipse cx="367" cy="1577.5" rx="35" ry="30" fill="#12a422" transform="rotate(40 367 1577.5)"/></g><circle cx="408" cy="1561" r="3" fill="#e0c020"/><circle cx="396" cy="1609" r="3" fill="#d8b020"/><circle cx="374" cy="1545" r="3" fill="#c08a20"/></g>
<g filter="url(#gf1)"><rect x="539" y="1538" width="84" height="77.5" rx="4" fill="#e01810"/><g filter="url(#gtx)"><rect x="547" y="1541" width="74" height="72" rx="22" fill="#14d224"/></g><circle cx="620" cy="1611" r="3.5" fill="#e0c020"/><circle cx="548" cy="1609" r="3" fill="#d8a020"/><circle cx="546" cy="1546" r="3" fill="#e09020"/></g>
<g filter="url(#gf1)"><rect x="754" y="1538.5" width="81" height="77" rx="3" fill="#b83c10"/><g filter="url(#gtx)"><rect x="757" y="1541.5" width="78" height="73" rx="9" fill="#14dc24"/></g><circle cx="757" cy="1543" r="3" fill="#f06020"/><circle cx="832" cy="1612" r="3" fill="#c8c020"/></g>
<g filter="url(#gf1)"><rect x="972.5" y="1538" width="78.5" height="76" rx="2" fill="#6a5a10"/><g filter="url(#gtx)"><rect x="974" y="1539.5" width="76.5" height="73.5" rx="3" fill="#16dc26"/></g></g>
<text x="75.3" y="1520.4" font-size="40" fill="#fff" textLength="231.5" lengthAdjust="spacing">Experimental</text>
<text x="975.3" y="1605.7" font-size="31.5" fill="#fff" textLength="87.5" lengthAdjust="spacing">10 µm</text>
<rect x="998.7" y="1620.1" width="56.3" height="10.7" fill="#fff"/>
<rect x="63.8" y="1725.5" width="1012.2" height="164.3" fill="#0a0c06"/>
<g filter="url(#gf3)"><rect x="120" y="1766.5" width="91.5" height="87" fill="#ff2a12"/><rect x="336.5" y="1766.5" width="91.5" height="87" fill="#ff2a12"/><rect x="550" y="1766.5" width="92" height="87" fill="#ff2a12"/><rect x="749" y="1762" width="90.5" height="88.5" fill="#f03018"/><rect x="953" y="1766.5" width="88.5" height="84" fill="#28f84c"/></g><g filter="url(#gf2)"><rect x="366.5" y="1797.5" width="31" height="28" fill="#4c4a14"/><rect x="574" y="1786" width="43.5" height="46" fill="#22a03e"/><rect x="764" y="1770.5" width="61.5" height="74" fill="#2cc84c"/></g>
<text x="69.4" y="1759.6" font-size="40" fill="#fff" textLength="343.5" lengthAdjust="spacing">Schematic diagram</text>
<linearGradient id="gh" gradientUnits="userSpaceOnUse" x1="88" y1="0" x2="1076" y2="0"><stop offset="0" stop-color="#f5a00e"/><stop offset="0.45" stop-color="#9aa024"/><stop offset="1" stop-color="#1eab3e"/></linearGradient>
<path d="M87.8 1931.5H1008L997.5 1908.8L1076 1941.3L997.5 1973.2L1008 1951.1H87.8Z" fill="url(#gh)"/>
<text x="342.5" y="2002.2" font-size="44" textLength="543" lengthAdjust="spacing">Increase UV irradiation time</text>
<text x="4" y="1485.2" font-size="56" font-weight="bold">g</text>
</g>
<g>
<text x="1122" y="1500.5" font-size="56" font-weight="bold">i</text>
<rect x="1140.2" y="1585.1" width="155.1" height="134.8" fill="#f4b312"/>
<path d="M1297 1655.4H1366" stroke="#231815" stroke-width="4" fill="none"/>
<path d="M1401.5 1655.4L1361 1639L1371 1655.4L1361 1671.8Z" fill="#231815"/>
<text x="1332.2" y="1599.2" font-size="24" textLength="33.5" lengthAdjust="spacing">UV</text>
<text x="1299.7" y="1628" font-size="24" textLength="104" lengthAdjust="spacing">irradiation</text>
<rect x="1407.6" y="1585.1" width="154.1" height="134.8" fill="#e60012"/>
<defs><filter id="ib1" x="-0.2" y="-0.2" width="1.4" height="1.4"><feGaussianBlur stdDeviation="3"/></filter><filter id="ib2" x="-0.2" y="-0.2" width="1.4" height="1.4"><feGaussianBlur stdDeviation="4"/></filter></defs>
<rect x="1427" y="1604.5" width="117" height="95" fill="#2cc84c" filter="url(#ib1)"/>
<text x="1362.6" y="1544" font-size="32" fill="#e60012" textLength="245" lengthAdjust="spacing">Iodine-rich phase</text>
<path d="M1497.7 1549.6L1484.5 1577" stroke="#231815" stroke-width="3" fill="none"/><path d="M1480 1585L1480 1568.5L1486 1574L1494 1575.5Z" fill="#231815"/>
<linearGradient id="ih" gradientUnits="userSpaceOnUse" x1="1582" y1="0" x2="1865" y2="0"><stop offset="0" stop-color="#ea5a1a"/><stop offset="0.5" stop-color="#8e8c2a"/><stop offset="1" stop-color="#2aa83c"/></linearGradient>
<path d="M1582.3 1645.3H1809.5V1623.6L1864.9 1655.6L1809.5 1687.6V1666H1582.3Z" fill="url(#ih)"/>
<text x="1611.6" y="1604.7" font-size="32" textLength="200.5" lengthAdjust="spacing">Deprotonation</text>
<text x="1617" y="1720.2" font-size="32" textLength="172.5" lengthAdjust="spacing">Degradation</text>
<rect x="1889.5" y="1585" width="157" height="127.5" fill="#2cc84c" filter="url(#ib2)"/>
<text x="1127.7" y="1770" font-size="40" textLength="183" lengthAdjust="spacing">Mix-halide</text>
<text x="1122.3" y="1818.7" font-size="40" textLength="181.5" lengthAdjust="spacing">perovskite</text>
<text x="1333.3" y="1781" font-size="40" textLength="311" lengthAdjust="spacing">Phase separation</text>
<text x="1740.7" y="1770" font-size="40" textLength="307.5" lengthAdjust="spacing">Iodine-rich phase</text>
<text x="1787.9" y="1818.7" font-size="40" textLength="210.5" lengthAdjust="spacing">degradation</text>
<text x="1271.5" y="1898.6" font-size="48" font-family='"Liberation Serif", serif'>2</text>
<text x="1296" y="1898.6" font-size="48" font-style="italic" font-family='"Liberation Serif", serif' textLength="64" lengthAdjust="spacing">CH</text>
<text x="1361.5" y="1907.1" font-size="21">3</text>
<text x="1372.5" y="1898.6" font-size="48" font-style="italic" font-family='"Liberation Serif", serif' textLength="67" lengthAdjust="spacing">NH</text>
<text x="1440" y="1907.1" font-size="21">3</text>
<text x="1446" y="1873.6" font-size="20">+</text>
<text x="1466.5" y="1898.6" font-size="48" font-family='"Liberation Serif", serif' textLength="50.5" lengthAdjust="spacing">(s)</text>
<linearGradient id="iq" gradientUnits="userSpaceOnUse" x1="1523" y1="0" x2="1602" y2="0"><stop offset="0" stop-color="#231815" stop-opacity="0.08"/><stop offset="0.55" stop-color="#231815" stop-opacity="0.75"/><stop offset="1" stop-color="#231815"/></linearGradient>
<path d="M1523 1882.8H1582L1576 1874.5L1602.5 1884.8L1576 1895L1582 1886.8H1523Z" fill="url(#iq)"/>
<text x="1538" y="1868.5" font-size="31" textLength="43" lengthAdjust="spacing">UV</text>
<text x="1613.5" y="1898.6" font-size="48" font-family='"Liberation Serif", serif'>2</text>
<text x="1638" y="1898.6" font-size="48" font-style="italic" font-family='"Liberation Serif", serif' textLength="64" lengthAdjust="spacing">CH</text>
<text x="1703.5" y="1907.1" font-size="21">3</text>
<text x="1715" y="1898.6" font-size="48" font-style="italic" font-family='"Liberation Serif", serif' textLength="67" lengthAdjust="spacing">NH</text>
<text x="1783.5" y="1907.1" font-size="21">2</text>
<text x="1797.5" y="1898.6" font-size="48" font-family='"Liberation Serif", serif' textLength="55" lengthAdjust="spacing">(g)</text>
<text x="1866" y="1898.6" font-size="48" font-family='"Liberation Serif", serif'>+</text>
<text x="1903.5" y="1898.6" font-size="48" font-family='"Liberation Serif", serif'>2</text>
<text x="1927.5" y="1898.6" font-size="48" font-style="italic" font-family='"Liberation Serif", serif'>H</text>
<text x="1966" y="1873.6" font-size="20">+</text>
</g>
<g>
<rect x="54.3" y="2323.1" width="526.9" height="38.9" fill="#7dcdf0"/><path d="M59.1 2206.2L94.7 2201.7L132 2198.5L169.2 2204L204.8 2208.2L211.2 2263.9L213.8 2320.5L58.5 2320.5ZM232.3 2208.8L298.6 2206.2L374.7 2210.5L389.3 2267.1L386 2320.5L230.7 2320.5L219.3 2263.9ZM415.2 2218.5L428.1 2209.5L441 2206.2L489.6 2202.4L580.2 2204L581.8 2260.6L573.7 2323.7L418.4 2323.7L394.1 2263.9Z" fill="#8fce7a" stroke="#f4b44a" stroke-width="3.4" stroke-linejoin="round"/><g fill="none" stroke="#1a1a10" stroke-width="2.1" stroke-dasharray="4 3.2"><circle cx="181.5" cy="2228.6" r="8.6"/><circle cx="77.6" cy="2302.1" r="8.6"/><circle cx="184.7" cy="2302.4" r="8.6"/><circle cx="299.9" cy="2224.1" r="8.6"/><circle cx="372.8" cy="2261.9" r="8.6"/><circle cx="454.6" cy="2222.1" r="8.6"/><circle cx="422.3" cy="2291" r="8.6"/></g><g fill="#0a3bc4"><circle cx="76.3" cy="2205" r="7.4"/><circle cx="113.8" cy="2201.4" r="7.4"/><circle cx="153" cy="2202.4" r="7.4"/><circle cx="197.7" cy="2212.4" r="7.4"/><circle cx="117.4" cy="2216.9" r="7.4"/><circle cx="149.1" cy="2219.5" r="7.4"/><circle cx="88.6" cy="2226.6" r="7.4"/><circle cx="57.5" cy="2233.1" r="7.4"/><circle cx="57.5" cy="2249.9" r="7.4"/><circle cx="147.2" cy="2253.2" r="7.4"/><circle cx="190.5" cy="2254.8" r="7.4"/><circle cx="210" cy="2251.9" r="7.4"/><circle cx="93.1" cy="2260" r="7.4"/><circle cx="115.4" cy="2271" r="7.4"/><circle cx="209" cy="2271" r="7.4"/><circle cx="144.6" cy="2277.1" r="7.4"/><circle cx="56.5" cy="2285.9" r="7.4"/><circle cx="100.2" cy="2298.2" r="7.4"/><circle cx="161.1" cy="2300.1" r="7.4"/><circle cx="234.6" cy="2209.8" r="7.4"/><circle cx="277.3" cy="2205.6" r="7.4"/><circle cx="322.9" cy="2208.2" r="7.4"/><circle cx="372.8" cy="2209.8" r="7.4"/><circle cx="275" cy="2222.4" r="7.4"/><circle cx="251.1" cy="2230.8" r="7.4"/><circle cx="323.9" cy="2228.6" r="7.4"/><circle cx="354.3" cy="2229.2" r="7.4"/><circle cx="223.5" cy="2243.5" r="7.4"/><circle cx="305.8" cy="2241.5" r="7.4"/><circle cx="359.8" cy="2246.1" r="7.4"/><circle cx="265.3" cy="2249.9" r="7.4"/><circle cx="387" cy="2248.6" r="7.4"/><circle cx="305.8" cy="2261.9" r="7.4"/><circle cx="241.7" cy="2268.7" r="7.4"/><circle cx="277.3" cy="2268.7" r="7.4"/><circle cx="359.8" cy="2275.5" r="7.4"/><circle cx="319.7" cy="2283.6" r="7.4"/><circle cx="223.5" cy="2288.5" r="7.4"/><circle cx="387" cy="2291.7" r="7.4"/><circle cx="280.2" cy="2298.2" r="7.4"/><circle cx="322.9" cy="2304.6" r="7.4"/><circle cx="357.5" cy="2304.6" r="7.4"/><circle cx="441" cy="2206.6" r="7.4"/><circle cx="489.9" cy="2202.7" r="7.4"/><circle cx="546.9" cy="2205" r="7.4"/><circle cx="500.6" cy="2219.5" r="7.4"/><circle cx="535.9" cy="2221.5" r="7.4"/><circle cx="410.9" cy="2229.6" r="7.4"/><circle cx="436.2" cy="2229.2" r="7.4"/><circle cx="469.8" cy="2233.1" r="7.4"/><circle cx="557.2" cy="2229.2" r="7.4"/><circle cx="581.5" cy="2228.6" r="7.4"/><circle cx="429.4" cy="2249.9" r="7.4"/><circle cx="504.2" cy="2244.8" r="7.4"/><circle cx="560.8" cy="2255.8" r="7.4"/><circle cx="520" cy="2261.9" r="7.4"/><circle cx="406.7" cy="2268.7" r="7.4"/><circle cx="422.3" cy="2272.6" r="7.4"/><circle cx="454" cy="2270.7" r="7.4"/><circle cx="493.5" cy="2267.1" r="7.4"/><circle cx="563.7" cy="2277.5" r="7.4"/><circle cx="579.9" cy="2281.3" r="7.4"/><circle cx="510" cy="2284.6" r="7.4"/><circle cx="480.2" cy="2288.1" r="7.4"/><circle cx="464" cy="2300.1" r="7.4"/><circle cx="557.2" cy="2298.5" r="7.4"/><circle cx="497" cy="2307.6" r="7.4"/><circle cx="532" cy="2302.4" r="7.4"/></g><g fill="#8e1d0d"><circle cx="59.8" cy="2212.1" r="7.4"/><circle cx="96" cy="2202.4" r="7.4"/><circle cx="132" cy="2198.5" r="7.4"/><circle cx="174.7" cy="2209.8" r="7.4"/><circle cx="205.7" cy="2233.4" r="7.4"/><circle cx="81.8" cy="2243.8" r="7.4"/><circle cx="115.4" cy="2240.2" r="7.4"/><circle cx="161.1" cy="2243.8" r="7.4"/><circle cx="54.3" cy="2266.8" r="7.4"/><circle cx="78.5" cy="2277.1" r="7.4"/><circle cx="176.3" cy="2277.1" r="7.4"/><circle cx="127.7" cy="2293.3" r="7.4"/><circle cx="207.4" cy="2293.3" r="7.4"/><circle cx="56.5" cy="2307.6" r="7.4"/><circle cx="210.3" cy="2314.4" r="7.4"/><circle cx="258.2" cy="2206.6" r="7.4"/><circle cx="299.9" cy="2208.2" r="7.4"/><circle cx="345.9" cy="2209.8" r="7.4"/><circle cx="227.4" cy="2226.6" r="7.4"/><circle cx="382.8" cy="2228.6" r="7.4"/><circle cx="285.7" cy="2240.2" r="7.4"/><circle cx="242.3" cy="2248.3" r="7.4"/><circle cx="336.8" cy="2251.6" r="7.4"/><circle cx="223.5" cy="2267.1" r="7.4"/><circle cx="258.2" cy="2268.7" r="7.4"/><circle cx="336.8" cy="2268.7" r="7.4"/><circle cx="389.9" cy="2274.2" r="7.4"/><circle cx="294.4" cy="2283.6" r="7.4"/><circle cx="340.1" cy="2288.5" r="7.4"/><circle cx="249.4" cy="2294.9" r="7.4"/><circle cx="229" cy="2310.5" r="7.4"/><circle cx="387" cy="2310.5" r="7.4"/><circle cx="420" cy="2213.4" r="7.4"/><circle cx="462.7" cy="2205" r="7.4"/><circle cx="515.8" cy="2203" r="7.4"/><circle cx="576.7" cy="2205.3" r="7.4"/><circle cx="401.9" cy="2248.3" r="7.4"/><circle cx="447.8" cy="2246.1" r="7.4"/><circle cx="532" cy="2243.5" r="7.4"/><circle cx="471.1" cy="2255.8" r="7.4"/><circle cx="579.9" cy="2255.8" r="7.4"/><circle cx="543" cy="2275.5" r="7.4"/><circle cx="464" cy="2282.6" r="7.4"/><circle cx="408.4" cy="2300.4" r="7.4"/><circle cx="436.5" cy="2302.4" r="7.4"/><circle cx="512.6" cy="2302.4" r="7.4"/><circle cx="577.6" cy="2307.6" r="7.4"/></g>
<rect x="749.1" y="2323.1" width="526.9" height="38.9" fill="#7dcdf0"/><path d="M754 2206.2L789.6 2201.7L826.8 2198.5L864 2204L899.6 2208.2L906.1 2263.9L908.7 2320.5L753.3 2320.5ZM927.1 2208.8L993.5 2206.2L1069.5 2210.5L1084.1 2267.1L1080.9 2320.5L925.5 2320.5L914.2 2263.9ZM1110 2218.5L1123 2209.5L1135.9 2206.2L1184.4 2202.4L1275.1 2204L1276.7 2260.6L1268.6 2323.7L1113.2 2323.7L1089 2263.9Z" fill="#8fce7a" stroke="#f4b44a" stroke-width="3.4" stroke-linejoin="round"/><g fill="none" stroke="#1a1a10" stroke-width="2.1" stroke-dasharray="4 3.2"><circle cx="826.8" cy="2230.8" r="8.6"/><circle cx="766.3" cy="2294.9" r="8.6"/><circle cx="887" cy="2303" r="8.6"/><circle cx="994.8" cy="2226" r="8.6"/><circle cx="1067.6" cy="2263.2" r="8.6"/><circle cx="1148.8" cy="2222.4" r="8.6"/><circle cx="1212" cy="2222.4" r="8.6"/><circle cx="1121.7" cy="2291.4" r="8.6"/></g><g fill="#0a3bc4"><circle cx="812.6" cy="2216.9" r="7.4"/><circle cx="844.3" cy="2219.5" r="7.4"/><circle cx="783.4" cy="2226.6" r="7.4"/><circle cx="870.2" cy="2233.4" r="7.4"/><circle cx="776.6" cy="2243.8" r="7.4"/><circle cx="810" cy="2240.2" r="7.4"/><circle cx="855.9" cy="2243.8" r="7.4"/><circle cx="842" cy="2253.2" r="7.4"/><circle cx="885.4" cy="2254.8" r="7.4"/><circle cx="788" cy="2260" r="7.4"/><circle cx="810" cy="2271" r="7.4"/><circle cx="773.7" cy="2277.1" r="7.4"/><circle cx="839.8" cy="2277.1" r="7.4"/><circle cx="871.1" cy="2277.1" r="7.4"/><circle cx="822.3" cy="2293.3" r="7.4"/><circle cx="795.4" cy="2298.2" r="7.4"/><circle cx="855.9" cy="2300.1" r="7.4"/><circle cx="969.5" cy="2222.4" r="7.4"/><circle cx="945.9" cy="2230.8" r="7.4"/><circle cx="1018.7" cy="2228.6" r="7.4"/><circle cx="1049.2" cy="2229.2" r="7.4"/><circle cx="980.5" cy="2240.2" r="7.4"/><circle cx="1000.9" cy="2241.5" r="7.4"/><circle cx="1054.7" cy="2246.1" r="7.4"/><circle cx="937.2" cy="2248.6" r="7.4"/><circle cx="960.2" cy="2249.9" r="7.4"/><circle cx="1031.7" cy="2251.6" r="7.4"/><circle cx="1000.9" cy="2261.9" r="7.4"/><circle cx="936.5" cy="2268.7" r="7.4"/><circle cx="953" cy="2268.7" r="7.4"/><circle cx="972.1" cy="2268.7" r="7.4"/><circle cx="1031.7" cy="2268.7" r="7.4"/><circle cx="1054.7" cy="2275.5" r="7.4"/><circle cx="989.3" cy="2283.6" r="7.4"/><circle cx="1014.5" cy="2283.6" r="7.4"/><circle cx="1035.2" cy="2288.5" r="7.4"/><circle cx="944.3" cy="2294.9" r="7.4"/><circle cx="975" cy="2298.2" r="7.4"/><circle cx="1017.8" cy="2304.6" r="7.4"/><circle cx="1052.4" cy="2304.6" r="7.4"/><circle cx="1195.5" cy="2219.5" r="7.4"/><circle cx="1230.7" cy="2221.5" r="7.4"/><circle cx="1131" cy="2229.6" r="7.4"/><circle cx="1164.4" cy="2233.4" r="7.4"/><circle cx="1252.1" cy="2229.6" r="7.4"/><circle cx="1142.4" cy="2246.1" r="7.4"/><circle cx="1124.2" cy="2249.9" r="7.4"/><circle cx="1199" cy="2244.8" r="7.4"/><circle cx="1226.8" cy="2243.5" r="7.4"/><circle cx="1166" cy="2255.8" r="7.4"/><circle cx="1255.7" cy="2255.8" r="7.4"/><circle cx="1214.5" cy="2261.9" r="7.4"/><circle cx="1188.3" cy="2267.1" r="7.4"/><circle cx="1148.8" cy="2270.7" r="7.4"/><circle cx="1117.1" cy="2272.6" r="7.4"/><circle cx="1237.8" cy="2275.5" r="7.4"/><circle cx="1258.6" cy="2277.5" r="7.4"/><circle cx="1158.9" cy="2282.6" r="7.4"/><circle cx="1204.8" cy="2284.6" r="7.4"/><circle cx="1175.1" cy="2288.1" r="7.4"/><circle cx="1131" cy="2302.4" r="7.4"/><circle cx="1158.9" cy="2300.1" r="7.4"/><circle cx="1252.1" cy="2298.5" r="7.4"/><circle cx="1191.9" cy="2307.6" r="7.4"/><circle cx="1207.7" cy="2302.4" r="7.4"/><circle cx="1226.8" cy="2302.4" r="7.4"/></g><g fill="#8e1d0d"><circle cx="754.6" cy="2212.1" r="7.4"/><circle cx="771.1" cy="2205" r="7.4"/><circle cx="790.9" cy="2202.7" r="7.4"/><circle cx="808.7" cy="2201.4" r="7.4"/><circle cx="826.8" cy="2198.5" r="7.4"/><circle cx="848.2" cy="2202.7" r="7.4"/><circle cx="869.2" cy="2209.8" r="7.4"/><circle cx="892.5" cy="2212.4" r="7.4"/><circle cx="900.3" cy="2233.4" r="7.4"/><circle cx="752.4" cy="2233.4" r="7.4"/><circle cx="752.4" cy="2249.9" r="7.4"/><circle cx="904.8" cy="2251.9" r="7.4"/><circle cx="749.1" cy="2266.8" r="7.4"/><circle cx="903.8" cy="2271" r="7.4"/><circle cx="751.4" cy="2285.9" r="7.4"/><circle cx="902.5" cy="2293.3" r="7.4"/><circle cx="751.4" cy="2307.6" r="7.4"/><circle cx="904.8" cy="2314.4" r="7.4"/><circle cx="929.4" cy="2209.8" r="7.4"/><circle cx="953" cy="2206.6" r="7.4"/><circle cx="972.1" cy="2206.6" r="7.4"/><circle cx="994.8" cy="2208.2" r="7.4"/><circle cx="1017.4" cy="2208.2" r="7.4"/><circle cx="1040.7" cy="2209.8" r="7.4"/><circle cx="1067.6" cy="2209.8" r="7.4"/><circle cx="922.3" cy="2226.6" r="7.4"/><circle cx="1077.6" cy="2228.6" r="7.4"/><circle cx="918.4" cy="2243.5" r="7.4"/><circle cx="1081.5" cy="2248.6" r="7.4"/><circle cx="918.4" cy="2267.1" r="7.4"/><circle cx="1084.8" cy="2274.2" r="7.4"/><circle cx="918.4" cy="2288.5" r="7.4"/><circle cx="1081.5" cy="2291.7" r="7.4"/><circle cx="923.9" cy="2310.5" r="7.4"/><circle cx="1081.5" cy="2310.5" r="7.4"/><circle cx="1114.9" cy="2213.4" r="7.4"/><circle cx="1135.9" cy="2206.6" r="7.4"/><circle cx="1157.6" cy="2205" r="7.4"/><circle cx="1185.1" cy="2202.7" r="7.4"/><circle cx="1210.7" cy="2203" r="7.4"/><circle cx="1241.7" cy="2205" r="7.4"/><circle cx="1271.5" cy="2205.3" r="7.4"/><circle cx="1105.8" cy="2229.6" r="7.4"/><circle cx="1276.4" cy="2228.6" r="7.4"/><circle cx="1096.7" cy="2248.3" r="7.4"/><circle cx="1274.7" cy="2255.8" r="7.4"/><circle cx="1101.6" cy="2268.7" r="7.4"/><circle cx="1274.7" cy="2281.3" r="7.4"/><circle cx="1103.5" cy="2300.4" r="7.4"/><circle cx="1272.5" cy="2307.6" r="7.4"/></g>
<rect x="1464.9" y="2323.1" width="526.9" height="38.9" fill="#7dcdf0"/><path d="M1469.8 2206.2L1504.7 2203L1542 2199.8L1579.2 2205L1616.4 2210.5L1623.8 2263.9L1622.9 2320.5L1469.1 2320.5L1467.8 2263.9ZM1642.9 2206.2L1708.6 2206.9L1787.9 2210.5L1799.9 2267.1L1796.7 2320.5L1641.3 2320.5L1629.3 2265.5ZM1825.8 2218.5L1838.1 2209.5L1851.7 2206.9L1900.2 2203L1992.8 2205L1991.8 2260.6L1984.4 2323.7L1829 2323.7L1805.7 2263.9Z" fill="#8fce7a" stroke="#f4b44a" stroke-width="4.4" stroke-linejoin="round"/><g fill="none" stroke="#1a1a10" stroke-width="2.1" stroke-dasharray="4 3.2"><circle cx="1506.3" cy="2208.2" r="8.6"/><circle cx="1608" cy="2226.6" r="8.6"/><circle cx="1700.5" cy="2208.2" r="8.6"/><circle cx="1790.2" cy="2234.7" r="8.6"/><circle cx="1798.6" cy="2270.3" r="8.6"/><circle cx="1862.4" cy="2206.2" r="8.6"/><circle cx="1930.3" cy="2203" r="8.6"/><circle cx="1987" cy="2208.2" r="8.6"/></g><g fill="#0a3bc4"><circle cx="1528" cy="2216.9" r="7.4"/><circle cx="1559.8" cy="2219.5" r="7.4"/><circle cx="1499.2" cy="2226.6" r="7.4"/><circle cx="1585.6" cy="2233.4" r="7.4"/><circle cx="1492.1" cy="2243.8" r="7.4"/><circle cx="1525.8" cy="2240.2" r="7.4"/><circle cx="1571.7" cy="2243.8" r="7.4"/><circle cx="1557.8" cy="2253.2" r="7.4"/><circle cx="1600.9" cy="2254.8" r="7.4"/><circle cx="1503.8" cy="2260" r="7.4"/><circle cx="1525.8" cy="2271" r="7.4"/><circle cx="1489.2" cy="2277.1" r="7.4"/><circle cx="1555.2" cy="2277.1" r="7.4"/><circle cx="1586.6" cy="2277.1" r="7.4"/><circle cx="1537.7" cy="2293.3" r="7.4"/><circle cx="1510.9" cy="2298.2" r="7.4"/><circle cx="1571.7" cy="2300.1" r="7.4"/><circle cx="1685.3" cy="2222.4" r="7.4"/><circle cx="1661.7" cy="2230.8" r="7.4"/><circle cx="1734.2" cy="2228.6" r="7.4"/><circle cx="1765" cy="2229.2" r="7.4"/><circle cx="1696" cy="2240.2" r="7.4"/><circle cx="1716.4" cy="2241.5" r="7.4"/><circle cx="1770.1" cy="2246.1" r="7.4"/><circle cx="1652.6" cy="2248.6" r="7.4"/><circle cx="1675.6" cy="2249.9" r="7.4"/><circle cx="1747.1" cy="2251.6" r="7.4"/><circle cx="1716.4" cy="2261.9" r="7.4"/><circle cx="1652" cy="2268.7" r="7.4"/><circle cx="1668.5" cy="2268.7" r="7.4"/><circle cx="1687.6" cy="2268.7" r="7.4"/><circle cx="1747.1" cy="2268.7" r="7.4"/><circle cx="1770.1" cy="2275.5" r="7.4"/><circle cx="1704.8" cy="2283.6" r="7.4"/><circle cx="1730.3" cy="2283.6" r="7.4"/><circle cx="1750.7" cy="2288.5" r="7.4"/><circle cx="1659.8" cy="2294.9" r="7.4"/><circle cx="1690.8" cy="2298.2" r="7.4"/><circle cx="1733.2" cy="2304.6" r="7.4"/><circle cx="1767.9" cy="2304.6" r="7.4"/><circle cx="1910.9" cy="2219.5" r="7.4"/><circle cx="1946.2" cy="2221.5" r="7.4"/><circle cx="1846.8" cy="2229.6" r="7.4"/><circle cx="1880.2" cy="2233.4" r="7.4"/><circle cx="1967.6" cy="2229.6" r="7.4"/><circle cx="1858.2" cy="2246.1" r="7.4"/><circle cx="1839.7" cy="2249.9" r="7.4"/><circle cx="1914.5" cy="2244.8" r="7.4"/><circle cx="1942.3" cy="2243.5" r="7.4"/><circle cx="1881.8" cy="2255.8" r="7.4"/><circle cx="1971.1" cy="2255.8" r="7.4"/><circle cx="1930.3" cy="2261.9" r="7.4"/><circle cx="1903.8" cy="2267.1" r="7.4"/><circle cx="1864.3" cy="2270.7" r="7.4"/><circle cx="1832.6" cy="2272.6" r="7.4"/><circle cx="1953.3" cy="2275.5" r="7.4"/><circle cx="1974" cy="2277.5" r="7.4"/><circle cx="1874.3" cy="2282.6" r="7.4"/><circle cx="1920.3" cy="2284.6" r="7.4"/><circle cx="1890.9" cy="2288.1" r="7.4"/><circle cx="1846.8" cy="2302.4" r="7.4"/><circle cx="1874.3" cy="2300.1" r="7.4"/><circle cx="1967.6" cy="2298.5" r="7.4"/><circle cx="1907.4" cy="2307.6" r="7.4"/><circle cx="1923.2" cy="2302.4" r="7.4"/><circle cx="1942.3" cy="2302.4" r="7.4"/></g><g fill="#8e1d0d"><circle cx="1486.9" cy="2205" r="7.4"/><circle cx="1524.5" cy="2201.4" r="7.4"/><circle cx="1584.7" cy="2209.8" r="7.4"/><circle cx="1468.2" cy="2249.9" r="7.4"/><circle cx="1617.4" cy="2293.3" r="7.4"/><circle cx="1466.5" cy="2307.6" r="7.4"/><circle cx="1668.8" cy="2206.6" r="7.4"/><circle cx="1733.2" cy="2208.2" r="7.4"/><circle cx="1783.1" cy="2209.8" r="7.4"/><circle cx="1633.9" cy="2243.5" r="7.4"/><circle cx="1639.4" cy="2310.5" r="7.4"/><circle cx="1797.3" cy="2310.5" r="7.4"/><circle cx="1830.3" cy="2213.4" r="7.4"/><circle cx="1900.2" cy="2202.7" r="7.4"/><circle cx="1957.2" cy="2205" r="7.4"/><circle cx="1991.8" cy="2228.6" r="7.4"/><circle cx="1812.2" cy="2248.3" r="7.4"/><circle cx="1990.2" cy="2281.3" r="7.4"/><circle cx="1819" cy="2300.4" r="7.4"/></g>
<text x="9" y="2073" font-size="56" font-weight="bold">j</text>
<text x="79.3" y="2112" font-size="40" textLength="472.5" lengthAdjust="spacing">Mix-halide perovskite films</text>
<circle cx="76.4" cy="2166.7" r="7.4" fill="#0a3bc4"/>
<text x="90.2" y="2175" font-size="40">Br<tspan font-size="30" font-weight="bold" dy="-17">-</tspan></text>
<circle cx="166.7" cy="2166.7" r="7.4" fill="#8e1d0d"/>
<text x="186.8" y="2175" font-size="40">I<tspan font-size="30" font-weight="bold" dy="-17">-</tspan></text>
<circle cx="252.9" cy="2162.1" r="8.6" fill="none" stroke="#1a1a10" stroke-width="2.1" stroke-dasharray="4 3.2"/>
<text x="271.3" y="2174.2" font-size="40" textLength="308" lengthAdjust="spacing">Halogen vacancy</text>
<text x="639.2" y="2198.3" font-size="32" textLength="43.5" lengthAdjust="spacing">UV</text>
<text x="594.9" y="2237.4" font-size="32" textLength="139.5" lengthAdjust="spacing">irradiation</text>
<path d="M608.1 2272H683" stroke="#231815" stroke-width="3.4" fill="none"/><path d="M713 2272L672 2255.5L682 2272L672 2288.5Z" fill="#231815"/>
<text x="856.4" y="2112" font-size="40" textLength="312" lengthAdjust="spacing">Phase separation</text>
<rect x="872" y="2148.3" width="17.8" height="19.5" fill="#8fce7a"/>
<text x="905.3" y="2170.1" font-size="40" textLength="257.5" lengthAdjust="spacing">Crystal interior</text>
<text x="1339.6" y="2208.5" font-size="32" textLength="44" lengthAdjust="spacing">UV</text>
<text x="1296.4" y="2247.6" font-size="32" textLength="139.5" lengthAdjust="spacing">irradiation</text>
<path d="M1319.5 2272.4H1393.5" stroke="#231815" stroke-width="3.4" fill="none"/><path d="M1423.5 2272.4L1382.5 2255.9L1392.5 2272.4L1382.5 2288.9Z" fill="#231815"/>
<text x="1457.7" y="2112" font-size="40" textLength="530" lengthAdjust="spacing">Iodine-rich phase degradation</text>
<rect x="1587.3" y="2148" width="41.4" height="19.6" fill="#f4b233"/>
<text x="1648.9" y="2170.1" font-size="40" textLength="276.5" lengthAdjust="spacing">Grain boundary</text>
</g>
</svg>
</body></html>
